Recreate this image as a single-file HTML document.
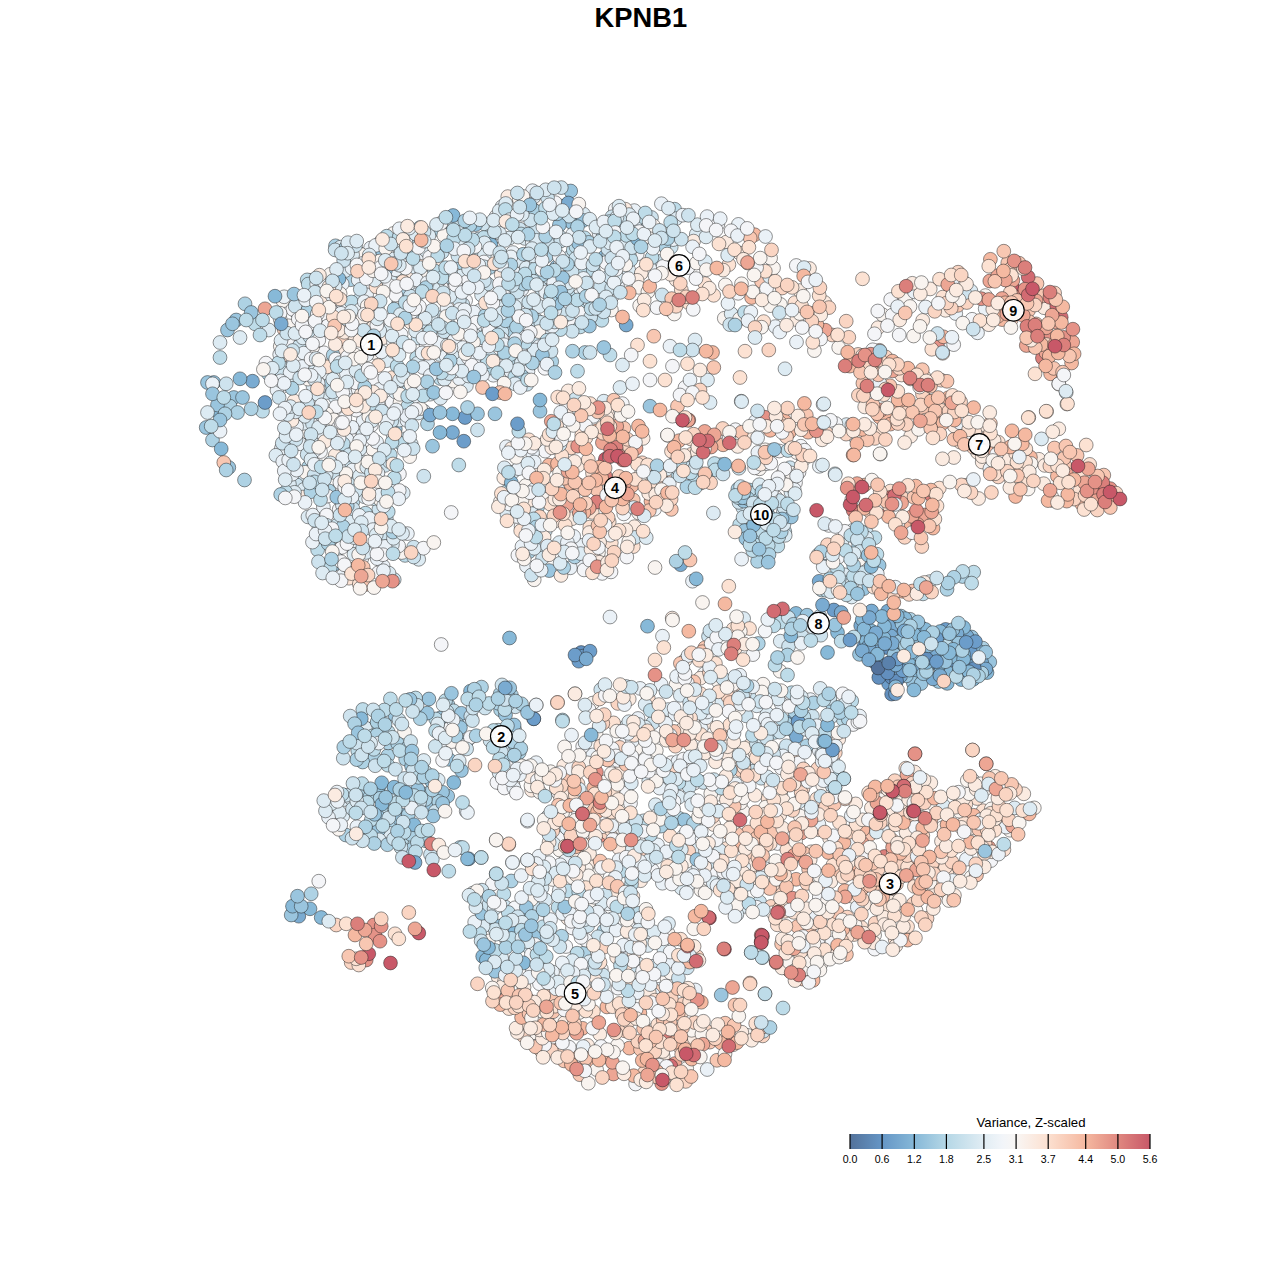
<!DOCTYPE html>
<html><head><meta charset="utf-8"><title>KPNB1</title>
<style>
html,body{margin:0;padding:0;background:#fff}
svg{display:block;font-family:"Liberation Sans",sans-serif}
.p circle{stroke:#222;stroke-opacity:.7;stroke-width:.7px}
.c0{fill:#53729b}
.c1{fill:#5a81ac}
.c2{fill:#628fbe}
.c3{fill:#6c9dca}
.c4{fill:#7aabd1}
.c5{fill:#87b9d8}
.c6{fill:#9ac5de}
.c7{fill:#aed2e4}
.c8{fill:#bedce9}
.c9{fill:#cee3ee}
.c10{fill:#ddebf3}
.c11{fill:#eaf1f7}
.c12{fill:#f4f5f8}
.c13{fill:#f9f4f0}
.c14{fill:#fbebe1}
.c15{fill:#fce2d3}
.c16{fill:#fad5c3}
.c17{fill:#f8c7b2}
.c18{fill:#f5b9a1}
.c19{fill:#eda694}
.c20{fill:#e59287}
.c21{fill:#db7f7b}
.c22{fill:#d26b72}
.c23{fill:#c85868}
</style></head><body>
<svg width="1280" height="1280" viewBox="0 0 1280 1280">
<rect width="1280" height="1280" fill="#fff"/>
<text x="640.8" y="26.6" text-anchor="middle" font-size="27.3" font-weight="bold" fill="#000">KPNB1</text>
<g class="p">
<circle class="c18" cx="1015.6" cy="496.5" r="6.9"/>
<circle class="c15" cx="768.0" cy="798.3" r="6.9"/>
<circle class="c5" cx="904.5" cy="652.7" r="6.9"/>
<circle class="c4" cx="793.3" cy="720.3" r="6.9"/>
<circle class="c7" cx="551.7" cy="361.5" r="6.9"/>
<circle class="c7" cx="387.9" cy="755.6" r="6.9"/>
<circle class="c9" cx="548.8" cy="242.7" r="6.9"/>
<circle class="c16" cx="947.4" cy="893.6" r="6.9"/>
<circle class="c9" cx="528.9" cy="947.2" r="6.9"/>
<circle class="c17" cx="555.8" cy="1032.1" r="6.9"/>
<circle class="c9" cx="783.4" cy="511.9" r="6.9"/>
<circle class="c18" cx="1002.3" cy="816.0" r="6.9"/>
<circle class="c16" cx="893.7" cy="813.2" r="6.9"/>
<circle class="c11" cx="481.5" cy="902.0" r="6.9"/>
<circle class="c12" cx="321.2" cy="322.5" r="6.9"/>
<circle class="c12" cx="346.3" cy="449.7" r="6.9"/>
<circle class="c15" cx="906.7" cy="838.2" r="6.9"/>
<circle class="c12" cx="391.2" cy="395.2" r="6.9"/>
<circle class="c10" cx="471.3" cy="265.4" r="6.9"/>
<circle class="c13" cx="905.4" cy="299.3" r="6.9"/>
<circle class="c15" cx="652.1" cy="484.2" r="6.9"/>
<circle class="c12" cx="539.5" cy="983.7" r="6.9"/>
<circle class="c18" cx="864.6" cy="485.1" r="6.9"/>
<circle class="c14" cx="294.1" cy="401.1" r="6.9"/>
<circle class="c7" cx="537.5" cy="507.1" r="6.9"/>
<circle class="c12" cx="946.2" cy="344.3" r="6.9"/>
<circle class="c10" cx="640.9" cy="834.9" r="6.9"/>
<circle class="c7" cx="308.7" cy="466.8" r="6.9"/>
<circle class="c10" cx="638.4" cy="964.1" r="6.9"/>
<circle class="c11" cx="521.8" cy="289.4" r="6.9"/>
<circle class="c11" cx="718.9" cy="873.1" r="6.9"/>
<circle class="c11" cx="819.2" cy="750.4" r="6.9"/>
<circle class="c17" cx="312.3" cy="333.1" r="6.9"/>
<circle class="c9" cx="790.0" cy="467.7" r="6.9"/>
<circle class="c14" cx="568.2" cy="390.9" r="6.9"/>
<circle class="c10" cx="393.7" cy="278.9" r="6.9"/>
<circle class="c12" cx="566.3" cy="406.9" r="6.9"/>
<circle class="c7" cx="753.1" cy="516.1" r="6.9"/>
<circle class="c12" cx="781.4" cy="768.0" r="6.9"/>
<circle class="c10" cx="829.1" cy="743.6" r="6.9"/>
<circle class="c11" cx="634.3" cy="210.6" r="6.9"/>
<circle class="c18" cx="934.9" cy="416.2" r="6.9"/>
<circle class="c6" cx="335.3" cy="563.8" r="6.9"/>
<circle class="c15" cx="939.3" cy="488.1" r="6.9"/>
<circle class="c7" cx="755.1" cy="533.3" r="6.9"/>
<circle class="c10" cx="287.0" cy="361.8" r="6.9"/>
<circle class="c12" cx="990.9" cy="860.6" r="6.9"/>
<circle class="c7" cx="947.0" cy="589.3" r="6.9"/>
<circle class="c16" cx="780.8" cy="887.5" r="6.9"/>
<circle class="c13" cx="668.0" cy="933.2" r="6.9"/>
<circle class="c12" cx="828.8" cy="525.4" r="6.9"/>
<circle class="c10" cx="351.7" cy="370.2" r="6.9"/>
<circle class="c14" cx="922.7" cy="320.4" r="6.9"/>
<circle class="c8" cx="669.2" cy="477.8" r="6.9"/>
<circle class="c11" cx="654.1" cy="264.9" r="6.9"/>
<circle class="c18" cx="902.5" cy="591.3" r="6.9"/>
<circle class="c15" cx="699.3" cy="660.3" r="6.9"/>
<circle class="c7" cx="447.9" cy="704.7" r="6.9"/>
<circle class="c9" cx="478.5" cy="239.0" r="6.9"/>
<circle class="c6" cx="980.5" cy="656.7" r="6.9"/>
<circle class="c13" cx="544.2" cy="499.2" r="6.9"/>
<circle class="c18" cx="899.1" cy="409.1" r="6.9"/>
<circle class="c14" cx="676.1" cy="279.8" r="6.9"/>
<circle class="c17" cx="802.5" cy="972.2" r="6.9"/>
<circle class="c15" cx="528.8" cy="439.8" r="6.9"/>
<circle class="c17" cx="802.3" cy="979.0" r="6.9"/>
<circle class="c12" cx="301.4" cy="329.5" r="6.9"/>
<circle class="c10" cx="342.7" cy="816.1" r="6.9"/>
<circle class="c14" cx="796.8" cy="319.8" r="6.9"/>
<circle class="c16" cx="832.2" cy="335.0" r="6.9"/>
<circle class="c8" cx="792.1" cy="729.9" r="6.9"/>
<circle class="c10" cx="326.2" cy="295.9" r="6.9"/>
<circle class="c15" cx="854.0" cy="934.5" r="6.9"/>
<circle class="c16" cx="625.0" cy="1030.9" r="6.9"/>
<circle class="c16" cx="527.7" cy="999.3" r="6.9"/>
<circle class="c17" cx="937.7" cy="861.6" r="6.9"/>
<circle class="c11" cx="526.3" cy="331.3" r="6.9"/>
<circle class="c6" cx="395.3" cy="429.1" r="6.9"/>
<circle class="c14" cx="584.6" cy="852.8" r="6.9"/>
<circle class="c8" cx="387.9" cy="765.2" r="6.9"/>
<circle class="c15" cx="544.0" cy="1003.3" r="6.9"/>
<circle class="c7" cx="604.0" cy="930.8" r="6.9"/>
<circle class="c7" cx="749.2" cy="490.0" r="6.9"/>
<circle class="c14" cx="612.1" cy="895.3" r="6.9"/>
<circle class="c15" cx="611.3" cy="542.8" r="6.9"/>
<circle class="c18" cx="853.8" cy="873.1" r="6.9"/>
<circle class="c12" cx="704.8" cy="436.4" r="6.9"/>
<circle class="c17" cx="565.2" cy="775.6" r="6.9"/>
<circle class="c13" cx="718.5" cy="681.7" r="6.9"/>
<circle class="c10" cx="312.9" cy="385.6" r="6.9"/>
<circle class="c11" cx="707.7" cy="855.1" r="6.9"/>
<circle class="c17" cx="541.1" cy="1034.0" r="6.9"/>
<circle class="c11" cx="480.2" cy="310.3" r="6.9"/>
<circle class="c12" cx="318.3" cy="309.7" r="6.9"/>
<circle class="c11" cx="424.0" cy="411.3" r="6.9"/>
<circle class="c12" cx="645.8" cy="836.8" r="6.9"/>
<circle class="c6" cx="447.7" cy="796.1" r="6.9"/>
<circle class="c13" cx="696.7" cy="854.2" r="6.9"/>
<circle class="c18" cx="933.0" cy="528.1" r="6.9"/>
<circle class="c14" cx="766.7" cy="827.6" r="6.9"/>
<circle class="c12" cx="973.2" cy="780.7" r="6.9"/>
<circle class="c14" cx="611.9" cy="415.1" r="6.9"/>
<circle class="c12" cx="635.6" cy="1084.0" r="6.9"/>
<circle class="c9" cx="505.1" cy="906.9" r="6.9"/>
<circle class="c16" cx="648.3" cy="872.1" r="6.9"/>
<circle class="c14" cx="602.7" cy="413.0" r="6.9"/>
<circle class="c12" cx="495.5" cy="236.2" r="6.9"/>
<circle class="c11" cx="343.8" cy="468.0" r="6.9"/>
<circle class="c7" cx="982.7" cy="648.1" r="6.9"/>
<circle class="c14" cx="540.4" cy="861.7" r="6.9"/>
<circle class="c10" cx="382.2" cy="284.9" r="6.9"/>
<circle class="c18" cx="651.0" cy="501.3" r="6.9"/>
<circle class="c11" cx="408.5" cy="450.3" r="6.9"/>
<circle class="c8" cx="440.4" cy="378.5" r="6.9"/>
<circle class="c14" cx="809.5" cy="268.5" r="6.9"/>
<circle class="c14" cx="573.7" cy="412.9" r="6.9"/>
<circle class="c9" cx="534.9" cy="340.8" r="6.9"/>
<circle class="c13" cx="773.4" cy="825.4" r="6.9"/>
<circle class="c16" cx="1011.3" cy="319.6" r="6.9"/>
<circle class="c9" cx="385.0" cy="465.4" r="6.9"/>
<circle class="c16" cx="910.5" cy="378.9" r="6.9"/>
<circle class="c14" cx="578.2" cy="465.4" r="6.9"/>
<circle class="c10" cx="344.2" cy="799.5" r="6.9"/>
<circle class="c15" cx="942.8" cy="297.1" r="6.9"/>
<circle class="c2" cx="886.4" cy="647.5" r="6.9"/>
<circle class="c11" cx="659.4" cy="989.2" r="6.9"/>
<circle class="c8" cx="416.7" cy="357.6" r="6.9"/>
<circle class="c16" cx="688.4" cy="1046.2" r="6.9"/>
<circle class="c10" cx="313.9" cy="371.9" r="6.9"/>
<circle class="c10" cx="385.2" cy="715.8" r="6.9"/>
<circle class="c9" cx="463.7" cy="719.6" r="6.9"/>
<circle class="c13" cx="596.1" cy="733.7" r="6.9"/>
<circle class="c12" cx="375.0" cy="380.3" r="6.9"/>
<circle class="c8" cx="644.3" cy="240.1" r="6.9"/>
<circle class="c12" cx="615.3" cy="209.2" r="6.9"/>
<circle class="c9" cx="738.9" cy="468.2" r="6.9"/>
<circle class="c12" cx="601.6" cy="813.8" r="6.9"/>
<circle class="c9" cx="490.1" cy="740.6" r="6.9"/>
<circle class="c12" cx="636.6" cy="249.6" r="6.9"/>
<circle class="c18" cx="556.6" cy="1050.2" r="6.9"/>
<circle class="c13" cx="743.1" cy="811.2" r="6.9"/>
<circle class="c17" cx="1065.1" cy="465.9" r="6.9"/>
<circle class="c13" cx="393.4" cy="233.5" r="6.9"/>
<circle class="c10" cx="631.0" cy="851.5" r="6.9"/>
<circle class="c15" cx="286.2" cy="354.8" r="6.9"/>
<circle class="c5" cx="649.0" cy="468.7" r="6.9"/>
<circle class="c8" cx="756.5" cy="519.4" r="6.9"/>
<circle class="c16" cx="794.0" cy="767.2" r="6.9"/>
<circle class="c10" cx="351.2" cy="798.5" r="6.9"/>
<circle class="c10" cx="844.6" cy="574.8" r="6.9"/>
<circle class="c7" cx="737.9" cy="489.1" r="6.9"/>
<circle class="c15" cx="349.0" cy="578.2" r="6.9"/>
<circle class="c13" cx="765.6" cy="807.1" r="6.9"/>
<circle class="c16" cx="653.6" cy="989.7" r="6.9"/>
<circle class="c3" cx="920.4" cy="627.0" r="6.9"/>
<circle class="c13" cx="948.9" cy="900.5" r="6.9"/>
<circle class="c12" cx="972.1" cy="319.3" r="6.9"/>
<circle class="c6" cx="431.2" cy="806.2" r="6.9"/>
<circle class="c11" cx="288.8" cy="447.4" r="6.9"/>
<circle class="c9" cx="289.7" cy="378.2" r="6.9"/>
<circle class="c18" cx="754.6" cy="234.7" r="6.9"/>
<circle class="c13" cx="741.5" cy="283.8" r="6.9"/>
<circle class="c9" cx="651.5" cy="217.5" r="6.9"/>
<circle class="c8" cx="498.2" cy="730.2" r="6.9"/>
<circle class="c15" cx="983.2" cy="810.7" r="6.9"/>
<circle class="c11" cx="363.2" cy="420.6" r="6.9"/>
<circle class="c13" cx="991.3" cy="808.9" r="6.9"/>
<circle class="c20" cx="1062.3" cy="345.5" r="6.9"/>
<circle class="c15" cx="633.3" cy="546.6" r="6.9"/>
<circle class="c14" cx="921.0" cy="817.1" r="6.9"/>
<circle class="c12" cx="655.2" cy="824.8" r="6.9"/>
<circle class="c17" cx="594.5" cy="801.3" r="6.9"/>
<circle class="c15" cx="907.6" cy="926.6" r="6.9"/>
<circle class="c13" cx="559.6" cy="850.0" r="6.9"/>
<circle class="c13" cx="780.8" cy="794.4" r="6.9"/>
<circle class="c6" cx="879.1" cy="565.4" r="6.9"/>
<circle class="c13" cx="282.9" cy="300.8" r="6.9"/>
<circle class="c15" cx="670.1" cy="835.9" r="6.9"/>
<circle class="c5" cx="938.6" cy="643.9" r="6.9"/>
<circle class="c12" cx="299.0" cy="308.2" r="6.9"/>
<circle class="c13" cx="453.6" cy="381.1" r="6.9"/>
<circle class="c8" cx="381.4" cy="255.0" r="6.9"/>
<circle class="c15" cx="794.9" cy="302.6" r="6.9"/>
<circle class="c14" cx="855.7" cy="803.9" r="6.9"/>
<circle class="c11" cx="336.0" cy="810.0" r="6.9"/>
<circle class="c11" cx="638.0" cy="718.5" r="6.9"/>
<circle class="c10" cx="440.2" cy="354.6" r="6.9"/>
<circle class="c3" cx="918.0" cy="674.2" r="6.9"/>
<circle class="c14" cx="634.4" cy="526.7" r="6.9"/>
<circle class="c19" cx="566.8" cy="505.2" r="6.9"/>
<circle class="c14" cx="824.7" cy="302.5" r="6.9"/>
<circle class="c17" cx="732.3" cy="729.2" r="6.9"/>
<circle class="c13" cx="305.0" cy="431.7" r="6.9"/>
<circle class="c13" cx="796.7" cy="452.6" r="6.9"/>
<circle class="c9" cx="484.7" cy="224.1" r="6.9"/>
<circle class="c15" cx="911.7" cy="859.0" r="6.9"/>
<circle class="c19" cx="988.8" cy="847.5" r="6.9"/>
<circle class="c10" cx="466.4" cy="385.7" r="6.9"/>
<circle class="c13" cx="874.6" cy="935.1" r="6.9"/>
<circle class="c14" cx="503.8" cy="477.8" r="6.9"/>
<circle class="c5" cx="914.0" cy="677.9" r="6.9"/>
<circle class="c15" cx="392.4" cy="377.6" r="6.9"/>
<circle class="c8" cx="705.0" cy="816.9" r="6.9"/>
<circle class="c9" cx="761.2" cy="778.2" r="6.9"/>
<circle class="c13" cx="525.4" cy="206.0" r="6.9"/>
<circle class="c15" cx="905.8" cy="768.1" r="6.9"/>
<circle class="c14" cx="1044.1" cy="307.7" r="6.9"/>
<circle class="c13" cx="570.6" cy="994.0" r="6.9"/>
<circle class="c18" cx="857.1" cy="864.0" r="6.9"/>
<circle class="c9" cx="759.6" cy="901.9" r="6.9"/>
<circle class="c10" cx="414.5" cy="268.2" r="6.9"/>
<circle class="c15" cx="592.5" cy="473.1" r="6.9"/>
<circle class="c9" cx="483.7" cy="342.1" r="6.9"/>
<circle class="c6" cx="498.3" cy="926.2" r="6.9"/>
<circle class="c20" cx="937.6" cy="346.4" r="6.9"/>
<circle class="c12" cx="386.9" cy="326.7" r="6.9"/>
<circle class="c11" cx="738.4" cy="224.4" r="6.9"/>
<circle class="c18" cx="629.3" cy="1048.1" r="6.9"/>
<circle class="c11" cx="579.8" cy="294.9" r="6.9"/>
<circle class="c6" cx="570.7" cy="191.0" r="6.9"/>
<circle class="c9" cx="405.8" cy="438.8" r="6.9"/>
<circle class="c11" cx="735.5" cy="783.9" r="6.9"/>
<circle class="c14" cx="587.6" cy="1045.3" r="6.9"/>
<circle class="c7" cx="481.5" cy="687.1" r="6.9"/>
<circle class="c17" cx="1043.6" cy="295.7" r="6.9"/>
<circle class="c14" cx="606.8" cy="416.9" r="6.9"/>
<circle class="c13" cx="547.5" cy="280.9" r="6.9"/>
<circle class="c18" cx="606.9" cy="1006.9" r="6.9"/>
<circle class="c15" cx="733.2" cy="1044.7" r="6.9"/>
<circle class="c15" cx="813.2" cy="313.3" r="6.9"/>
<circle class="c10" cx="335.3" cy="397.3" r="6.9"/>
<circle class="c8" cx="864.8" cy="580.6" r="6.9"/>
<circle class="c10" cx="743.6" cy="618.5" r="6.9"/>
<circle class="c11" cx="381.6" cy="727.5" r="6.9"/>
<circle class="c9" cx="559.7" cy="236.7" r="6.9"/>
<circle class="c8" cx="751.9" cy="493.1" r="6.9"/>
<circle class="c19" cx="636.0" cy="448.3" r="6.9"/>
<circle class="c17" cx="570.5" cy="467.3" r="6.9"/>
<circle class="c14" cx="715.5" cy="761.9" r="6.9"/>
<circle class="c14" cx="749.6" cy="745.8" r="6.9"/>
<circle class="c10" cx="303.7" cy="423.3" r="6.9"/>
<circle class="c5" cx="885.8" cy="618.0" r="6.9"/>
<circle class="c5" cx="763.5" cy="511.3" r="6.9"/>
<circle class="c15" cx="880.2" cy="790.4" r="6.9"/>
<circle class="c13" cx="621.9" cy="804.7" r="6.9"/>
<circle class="c13" cx="780.4" cy="304.4" r="6.9"/>
<circle class="c6" cx="571.6" cy="222.6" r="6.9"/>
<circle class="c12" cx="704.2" cy="673.9" r="6.9"/>
<circle class="c7" cx="806.9" cy="745.8" r="6.9"/>
<circle class="c17" cx="551.7" cy="994.5" r="6.9"/>
<circle class="c16" cx="848.8" cy="337.3" r="6.9"/>
<circle class="c8" cx="390.4" cy="698.9" r="6.9"/>
<circle class="c14" cx="563.8" cy="765.8" r="6.9"/>
<circle class="c8" cx="785.1" cy="751.1" r="6.9"/>
<circle class="c9" cx="311.5" cy="280.3" r="6.9"/>
<circle class="c8" cx="684.2" cy="778.2" r="6.9"/>
<circle class="c15" cx="691.4" cy="454.3" r="6.9"/>
<circle class="c16" cx="818.7" cy="829.7" r="6.9"/>
<circle class="c8" cx="844.4" cy="582.6" r="6.9"/>
<circle class="c8" cx="640.7" cy="226.2" r="6.9"/>
<circle class="c12" cx="531.4" cy="954.4" r="6.9"/>
<circle class="c8" cx="720.4" cy="464.7" r="6.9"/>
<circle class="c14" cx="616.7" cy="957.3" r="6.9"/>
<circle class="c6" cx="963.0" cy="672.9" r="6.9"/>
<circle class="c11" cx="520.6" cy="352.6" r="6.9"/>
<circle class="c11" cx="441.3" cy="336.0" r="6.9"/>
<circle class="c6" cx="937.3" cy="633.7" r="6.9"/>
<circle class="c15" cx="550.1" cy="504.0" r="6.9"/>
<circle class="c15" cx="790.2" cy="770.8" r="6.9"/>
<circle class="c13" cx="550.6" cy="771.7" r="6.9"/>
<circle class="c11" cx="683.5" cy="836.1" r="6.9"/>
<circle class="c7" cx="561.5" cy="206.2" r="6.9"/>
<circle class="c9" cx="635.0" cy="537.4" r="6.9"/>
<circle class="c17" cx="918.6" cy="413.0" r="6.9"/>
<circle class="c12" cx="476.7" cy="345.8" r="6.9"/>
<circle class="c14" cx="397.8" cy="323.0" r="6.9"/>
<circle class="c15" cx="901.6" cy="375.0" r="6.9"/>
<circle class="c8" cx="297.0" cy="312.4" r="6.9"/>
<circle class="c13" cx="598.5" cy="552.4" r="6.9"/>
<circle class="c10" cx="418.1" cy="413.0" r="6.9"/>
<circle class="c16" cx="870.5" cy="511.9" r="6.9"/>
<circle class="c11" cx="626.6" cy="958.5" r="6.9"/>
<circle class="c18" cx="898.1" cy="399.9" r="6.9"/>
<circle class="c14" cx="676.4" cy="852.3" r="6.9"/>
<circle class="c14" cx="829.6" cy="838.3" r="6.9"/>
<circle class="c12" cx="601.3" cy="969.0" r="6.9"/>
<circle class="c17" cx="748.3" cy="832.0" r="6.9"/>
<circle class="c14" cx="648.7" cy="493.4" r="6.9"/>
<circle class="c10" cx="714.4" cy="672.0" r="6.9"/>
<circle class="c11" cx="662.4" cy="883.2" r="6.9"/>
<circle class="c11" cx="281.3" cy="448.6" r="6.9"/>
<circle class="c5" cx="958.1" cy="654.9" r="6.9"/>
<circle class="c7" cx="374.5" cy="758.0" r="6.9"/>
<circle class="c17" cx="853.5" cy="854.6" r="6.9"/>
<circle class="c10" cx="363.8" cy="461.9" r="6.9"/>
<circle class="c13" cx="879.7" cy="866.1" r="6.9"/>
<circle class="c7" cx="967.0" cy="646.7" r="6.9"/>
<circle class="c9" cx="742.8" cy="507.6" r="6.9"/>
<circle class="c18" cx="948.2" cy="397.8" r="6.9"/>
<circle class="c12" cx="555.3" cy="202.7" r="6.9"/>
<circle class="c19" cx="916.5" cy="861.8" r="6.9"/>
<circle class="c12" cx="630.5" cy="937.2" r="6.9"/>
<circle class="c11" cx="378.3" cy="405.7" r="6.9"/>
<circle class="c6" cx="869.4" cy="652.8" r="6.9"/>
<circle class="c12" cx="323.8" cy="352.8" r="6.9"/>
<circle class="c13" cx="589.2" cy="271.7" r="6.9"/>
<circle class="c11" cx="617.5" cy="286.0" r="6.9"/>
<circle class="c11" cx="293.2" cy="360.4" r="6.9"/>
<circle class="c10" cx="761.9" cy="516.5" r="6.9"/>
<circle class="c16" cx="985.1" cy="843.9" r="6.9"/>
<circle class="c14" cx="832.6" cy="950.5" r="6.9"/>
<circle class="c18" cx="596.9" cy="430.7" r="6.9"/>
<circle class="c8" cx="462.9" cy="245.8" r="6.9"/>
<circle class="c13" cx="533.9" cy="1032.7" r="6.9"/>
<circle class="c10" cx="304.1" cy="342.5" r="6.9"/>
<circle class="c12" cx="654.5" cy="509.2" r="6.9"/>
<circle class="c11" cx="502.1" cy="206.6" r="6.9"/>
<circle class="c11" cx="757.3" cy="762.9" r="6.9"/>
<circle class="c7" cx="335.5" cy="245.8" r="6.9"/>
<circle class="c15" cx="648.3" cy="698.4" r="6.9"/>
<circle class="c9" cx="600.8" cy="689.6" r="6.9"/>
<circle class="c16" cx="905.7" cy="412.9" r="6.9"/>
<circle class="c14" cx="941.5" cy="841.3" r="6.9"/>
<circle class="c13" cx="574.9" cy="857.7" r="6.9"/>
<circle class="c11" cx="577.0" cy="544.8" r="6.9"/>
<circle class="c8" cx="569.1" cy="277.6" r="6.9"/>
<circle class="c12" cx="522.8" cy="307.3" r="6.9"/>
<circle class="c9" cx="652.8" cy="722.7" r="6.9"/>
<circle class="c7" cx="345.8" cy="835.0" r="6.9"/>
<circle class="c12" cx="871.5" cy="898.0" r="6.9"/>
<circle class="c18" cx="796.1" cy="879.3" r="6.9"/>
<circle class="c8" cx="317.6" cy="549.8" r="6.9"/>
<circle class="c6" cx="442.5" cy="792.3" r="6.9"/>
<circle class="c8" cx="400.7" cy="272.3" r="6.9"/>
<circle class="c10" cx="542.0" cy="887.9" r="6.9"/>
<circle class="c10" cx="459.6" cy="241.8" r="6.9"/>
<circle class="c12" cx="777.5" cy="843.5" r="6.9"/>
<circle class="c14" cx="982.2" cy="462.0" r="6.9"/>
<circle class="c16" cx="644.1" cy="1073.0" r="6.9"/>
<circle class="c14" cx="930.2" cy="288.9" r="6.9"/>
<circle class="c9" cx="302.0" cy="479.1" r="6.9"/>
<circle class="c10" cx="648.8" cy="780.5" r="6.9"/>
<circle class="c5" cx="403.1" cy="815.4" r="6.9"/>
<circle class="c19" cx="989.8" cy="281.0" r="6.9"/>
<circle class="c12" cx="623.8" cy="513.9" r="6.9"/>
<circle class="c14" cx="700.3" cy="678.2" r="6.9"/>
<circle class="c8" cx="621.5" cy="871.1" r="6.9"/>
<circle class="c14" cx="889.1" cy="901.1" r="6.9"/>
<circle class="c18" cx="808.1" cy="432.2" r="6.9"/>
<circle class="c14" cx="1001.4" cy="470.9" r="6.9"/>
<circle class="c16" cx="904.7" cy="537.3" r="6.9"/>
<circle class="c14" cx="593.3" cy="557.2" r="6.9"/>
<circle class="c11" cx="600.8" cy="916.2" r="6.9"/>
<circle class="c9" cx="612.4" cy="926.7" r="6.9"/>
<circle class="c9" cx="563.2" cy="282.7" r="6.9"/>
<circle class="c9" cx="359.4" cy="299.7" r="6.9"/>
<circle class="c8" cx="679.3" cy="818.4" r="6.9"/>
<circle class="c9" cx="389.5" cy="461.6" r="6.9"/>
<circle class="c14" cx="878.0" cy="327.7" r="6.9"/>
<circle class="c13" cx="534.2" cy="579.8" r="6.9"/>
<circle class="c12" cx="788.9" cy="700.9" r="6.9"/>
<circle class="c9" cx="297.0" cy="485.1" r="6.9"/>
<circle class="c15" cx="977.1" cy="798.5" r="6.9"/>
<circle class="c8" cx="638.6" cy="913.3" r="6.9"/>
<circle class="c18" cx="879.7" cy="417.2" r="6.9"/>
<circle class="c8" cx="582.7" cy="271.7" r="6.9"/>
<circle class="c8" cx="568.0" cy="890.9" r="6.9"/>
<circle class="c6" cx="946.5" cy="639.3" r="6.9"/>
<circle class="c2" cx="883.6" cy="671.4" r="6.9"/>
<circle class="c10" cx="373.3" cy="258.1" r="6.9"/>
<circle class="c8" cx="453.6" cy="710.8" r="6.9"/>
<circle class="c21" cx="880.8" cy="510.9" r="6.9"/>
<circle class="c6" cx="371.8" cy="829.5" r="6.9"/>
<circle class="c19" cx="825.3" cy="330.2" r="6.9"/>
<circle class="c12" cx="400.9" cy="261.3" r="6.9"/>
<circle class="c13" cx="316.1" cy="490.8" r="6.9"/>
<circle class="c11" cx="914.4" cy="291.9" r="6.9"/>
<circle class="c19" cx="618.6" cy="432.0" r="6.9"/>
<circle class="c13" cx="734.5" cy="759.7" r="6.9"/>
<circle class="c18" cx="973.7" cy="815.3" r="6.9"/>
<circle class="c11" cx="327.7" cy="373.6" r="6.9"/>
<circle class="c9" cx="572.0" cy="271.7" r="6.9"/>
<circle class="c13" cx="539.9" cy="445.3" r="6.9"/>
<circle class="c13" cx="404.5" cy="732.1" r="6.9"/>
<circle class="c14" cx="339.6" cy="351.3" r="6.9"/>
<circle class="c11" cx="765.5" cy="236.5" r="6.9"/>
<circle class="c16" cx="619.0" cy="476.5" r="6.9"/>
<circle class="c13" cx="625.1" cy="908.4" r="6.9"/>
<circle class="c3" cx="863.8" cy="646.9" r="6.9"/>
<circle class="c11" cx="911.9" cy="429.6" r="6.9"/>
<circle class="c15" cx="731.1" cy="884.3" r="6.9"/>
<circle class="c10" cx="643.0" cy="922.4" r="6.9"/>
<circle class="c15" cx="577.9" cy="783.7" r="6.9"/>
<circle class="c11" cx="318.8" cy="474.5" r="6.9"/>
<circle class="c10" cx="780.3" cy="641.2" r="6.9"/>
<circle class="c8" cx="506.4" cy="491.7" r="6.9"/>
<circle class="c9" cx="356.9" cy="251.3" r="6.9"/>
<circle class="c18" cx="742.3" cy="845.5" r="6.9"/>
<circle class="c20" cx="1017.5" cy="293.6" r="6.9"/>
<circle class="c17" cx="931.1" cy="819.4" r="6.9"/>
<circle class="c9" cx="661.3" cy="261.2" r="6.9"/>
<circle class="c18" cx="362.3" cy="580.7" r="6.9"/>
<circle class="c11" cx="608.3" cy="903.8" r="6.9"/>
<circle class="c13" cx="1010.0" cy="830.2" r="6.9"/>
<circle class="c15" cx="628.3" cy="1021.7" r="6.9"/>
<circle class="c16" cx="682.4" cy="1004.3" r="6.9"/>
<circle class="c12" cx="558.8" cy="280.6" r="6.9"/>
<circle class="c20" cx="822.0" cy="811.6" r="6.9"/>
<circle class="c13" cx="581.1" cy="994.2" r="6.9"/>
<circle class="c14" cx="554.8" cy="499.1" r="6.9"/>
<circle class="c12" cx="934.4" cy="430.5" r="6.9"/>
<circle class="c9" cx="541.9" cy="547.4" r="6.9"/>
<circle class="c14" cx="335.3" cy="455.3" r="6.9"/>
<circle class="c11" cx="342.6" cy="575.6" r="6.9"/>
<circle class="c7" cx="424.5" cy="793.9" r="6.9"/>
<circle class="c20" cx="1046.3" cy="337.6" r="6.9"/>
<circle class="c10" cx="418.7" cy="559.3" r="6.9"/>
<circle class="c15" cx="839.5" cy="822.6" r="6.9"/>
<circle class="c11" cx="377.4" cy="308.3" r="6.9"/>
<circle class="c6" cx="913.4" cy="683.2" r="6.9"/>
<circle class="c10" cx="339.5" cy="812.5" r="6.9"/>
<circle class="c14" cx="634.0" cy="953.8" r="6.9"/>
<circle class="c14" cx="559.5" cy="499.3" r="6.9"/>
<circle class="c18" cx="631.8" cy="485.9" r="6.9"/>
<circle class="c5" cx="763.3" cy="525.9" r="6.9"/>
<circle class="c7" cx="462.6" cy="263.7" r="6.9"/>
<circle class="c14" cx="849.6" cy="848.1" r="6.9"/>
<circle class="c11" cx="1006.0" cy="827.1" r="6.9"/>
<circle class="c10" cx="696.3" cy="234.2" r="6.9"/>
<circle class="c8" cx="491.1" cy="352.2" r="6.9"/>
<circle class="c15" cx="347.0" cy="337.9" r="6.9"/>
<circle class="c9" cx="605.2" cy="894.9" r="6.9"/>
<circle class="c12" cx="495.8" cy="224.2" r="6.9"/>
<circle class="c14" cx="575.5" cy="852.4" r="6.9"/>
<circle class="c9" cx="515.3" cy="706.8" r="6.9"/>
<circle class="c17" cx="835.5" cy="872.2" r="6.9"/>
<circle class="c17" cx="716.9" cy="1060.3" r="6.9"/>
<circle class="c10" cx="603.8" cy="401.2" r="6.9"/>
<circle class="c9" cx="687.3" cy="967.8" r="6.9"/>
<circle class="c15" cx="664.5" cy="476.5" r="6.9"/>
<circle class="c12" cx="878.9" cy="504.1" r="6.9"/>
<circle class="c18" cx="909.8" cy="847.6" r="6.9"/>
<circle class="c10" cx="635.0" cy="222.6" r="6.9"/>
<circle class="c14" cx="663.2" cy="1056.4" r="6.9"/>
<circle class="c8" cx="784.8" cy="531.7" r="6.9"/>
<circle class="c8" cx="584.5" cy="237.8" r="6.9"/>
<circle class="c12" cx="517.9" cy="555.2" r="6.9"/>
<circle class="c10" cx="628.7" cy="270.0" r="6.9"/>
<circle class="c11" cx="371.7" cy="263.9" r="6.9"/>
<circle class="c11" cx="781.2" cy="703.5" r="6.9"/>
<circle class="c15" cx="891.7" cy="839.7" r="6.9"/>
<circle class="c15" cx="816.8" cy="798.8" r="6.9"/>
<circle class="c15" cx="924.1" cy="376.8" r="6.9"/>
<circle class="c13" cx="415.4" cy="251.6" r="6.9"/>
<circle class="c12" cx="796.3" cy="265.5" r="6.9"/>
<circle class="c6" cx="826.3" cy="558.8" r="6.9"/>
<circle class="c17" cx="1103.8" cy="475.1" r="6.9"/>
<circle class="c9" cx="378.8" cy="509.6" r="6.9"/>
<circle class="c17" cx="725.1" cy="1023.2" r="6.9"/>
<circle class="c11" cx="565.4" cy="861.0" r="6.9"/>
<circle class="c11" cx="279.7" cy="354.4" r="6.9"/>
<circle class="c12" cx="677.8" cy="787.4" r="6.9"/>
<circle class="c5" cx="893.9" cy="617.8" r="6.9"/>
<circle class="c21" cx="1049.9" cy="297.3" r="6.9"/>
<circle class="c10" cx="438.2" cy="780.0" r="6.9"/>
<circle class="c13" cx="280.3" cy="346.2" r="6.9"/>
<circle class="c7" cx="438.6" cy="801.4" r="6.9"/>
<circle class="c12" cx="306.0" cy="407.4" r="6.9"/>
<circle class="c12" cx="744.3" cy="901.6" r="6.9"/>
<circle class="c11" cx="446.1" cy="356.0" r="6.9"/>
<circle class="c9" cx="631.9" cy="965.9" r="6.9"/>
<circle class="c10" cx="474.8" cy="330.2" r="6.9"/>
<circle class="c16" cx="771.1" cy="906.4" r="6.9"/>
<circle class="c16" cx="561.7" cy="1054.8" r="6.9"/>
<circle class="c16" cx="629.3" cy="1007.9" r="6.9"/>
<circle class="c11" cx="955.7" cy="313.5" r="6.9"/>
<circle class="c12" cx="570.8" cy="323.2" r="6.9"/>
<circle class="c8" cx="674.6" cy="209.2" r="6.9"/>
<circle class="c8" cx="506.0" cy="756.3" r="6.9"/>
<circle class="c10" cx="583.5" cy="214.1" r="6.9"/>
<circle class="c9" cx="351.8" cy="464.2" r="6.9"/>
<circle class="c14" cx="587.6" cy="864.8" r="6.9"/>
<circle class="c14" cx="477.8" cy="280.9" r="6.9"/>
<circle class="c14" cx="930.1" cy="413.9" r="6.9"/>
<circle class="c16" cx="902.0" cy="497.6" r="6.9"/>
<circle class="c13" cx="740.6" cy="802.8" r="6.9"/>
<circle class="c9" cx="569.9" cy="257.0" r="6.9"/>
<circle class="c5" cx="967.4" cy="661.3" r="6.9"/>
<circle class="c15" cx="359.3" cy="584.0" r="6.9"/>
<circle class="c7" cx="333.2" cy="355.1" r="6.9"/>
<circle class="c11" cx="403.0" cy="411.7" r="6.9"/>
<circle class="c10" cx="308.0" cy="516.9" r="6.9"/>
<circle class="c17" cx="809.4" cy="928.7" r="6.9"/>
<circle class="c13" cx="639.7" cy="305.6" r="6.9"/>
<circle class="c12" cx="688.0" cy="267.6" r="6.9"/>
<circle class="c4" cx="929.2" cy="637.9" r="6.9"/>
<circle class="c13" cx="650.7" cy="841.0" r="6.9"/>
<circle class="c8" cx="374.4" cy="727.2" r="6.9"/>
<circle class="c14" cx="973.7" cy="827.8" r="6.9"/>
<circle class="c6" cx="583.0" cy="220.4" r="6.9"/>
<circle class="c17" cx="1064.1" cy="458.3" r="6.9"/>
<circle class="c13" cx="933.6" cy="804.5" r="6.9"/>
<circle class="c11" cx="810.4" cy="699.6" r="6.9"/>
<circle class="c10" cx="607.4" cy="926.1" r="6.9"/>
<circle class="c7" cx="622.6" cy="231.4" r="6.9"/>
<circle class="c17" cx="1090.2" cy="495.3" r="6.9"/>
<circle class="c15" cx="687.6" cy="1032.8" r="6.9"/>
<circle class="c13" cx="783.2" cy="473.4" r="6.9"/>
<circle class="c7" cx="521.5" cy="703.8" r="6.9"/>
<circle class="c15" cx="931.8" cy="349.3" r="6.9"/>
<circle class="c12" cx="784.7" cy="480.6" r="6.9"/>
<circle class="c8" cx="573.3" cy="250.0" r="6.9"/>
<circle class="c19" cx="924.9" cy="515.0" r="6.9"/>
<circle class="c14" cx="1038.9" cy="459.3" r="6.9"/>
<circle class="c14" cx="618.8" cy="848.0" r="6.9"/>
<circle class="c15" cx="713.7" cy="295.3" r="6.9"/>
<circle class="c17" cx="1007.8" cy="262.9" r="6.9"/>
<circle class="c9" cx="385.6" cy="526.6" r="6.9"/>
<circle class="c13" cx="743.4" cy="797.8" r="6.9"/>
<circle class="c13" cx="553.1" cy="879.5" r="6.9"/>
<circle class="c15" cx="833.6" cy="924.0" r="6.9"/>
<circle class="c12" cx="694.4" cy="783.1" r="6.9"/>
<circle class="c7" cx="405.7" cy="759.1" r="6.9"/>
<circle class="c17" cx="912.5" cy="591.0" r="6.9"/>
<circle class="c16" cx="808.4" cy="947.5" r="6.9"/>
<circle class="c16" cx="878.4" cy="872.0" r="6.9"/>
<circle class="c13" cx="724.3" cy="318.3" r="6.9"/>
<circle class="c11" cx="796.5" cy="342.0" r="6.9"/>
<circle class="c4" cx="887.7" cy="611.2" r="6.9"/>
<circle class="c6" cx="971.6" cy="637.0" r="6.9"/>
<circle class="c10" cx="365.3" cy="727.9" r="6.9"/>
<circle class="c15" cx="427.1" cy="368.6" r="6.9"/>
<circle class="c15" cx="612.4" cy="1006.7" r="6.9"/>
<circle class="c18" cx="576.1" cy="839.6" r="6.9"/>
<circle class="c9" cx="600.5" cy="286.9" r="6.9"/>
<circle class="c10" cx="275.9" cy="455.3" r="6.9"/>
<circle class="c11" cx="966.4" cy="859.2" r="6.9"/>
<circle class="c8" cx="405.1" cy="555.4" r="6.9"/>
<circle class="c15" cx="717.1" cy="632.4" r="6.9"/>
<circle class="c9" cx="442.2" cy="252.2" r="6.9"/>
<circle class="c14" cx="903.3" cy="926.6" r="6.9"/>
<circle class="c13" cx="598.3" cy="783.0" r="6.9"/>
<circle class="c8" cx="489.1" cy="236.5" r="6.9"/>
<circle class="c5" cx="796.0" cy="613.4" r="6.9"/>
<circle class="c18" cx="549.0" cy="465.1" r="6.9"/>
<circle class="c12" cx="654.7" cy="1029.2" r="6.9"/>
<circle class="c12" cx="392.2" cy="402.2" r="6.9"/>
<circle class="c9" cx="472.6" cy="284.6" r="6.9"/>
<circle class="c20" cx="600.2" cy="835.7" r="6.9"/>
<circle class="c15" cx="975.1" cy="429.7" r="6.9"/>
<circle class="c14" cx="733.2" cy="692.9" r="6.9"/>
<circle class="c18" cx="784.2" cy="420.4" r="6.9"/>
<circle class="c16" cx="896.9" cy="863.0" r="6.9"/>
<circle class="c11" cx="348.3" cy="305.6" r="6.9"/>
<circle class="c12" cx="514.9" cy="907.8" r="6.9"/>
<circle class="c14" cx="705.9" cy="722.6" r="6.9"/>
<circle class="c14" cx="838.7" cy="739.2" r="6.9"/>
<circle class="c15" cx="833.0" cy="865.0" r="6.9"/>
<circle class="c12" cx="558.1" cy="792.6" r="6.9"/>
<circle class="c13" cx="667.1" cy="978.8" r="6.9"/>
<circle class="c7" cx="533.7" cy="236.8" r="6.9"/>
<circle class="c12" cx="638.5" cy="840.7" r="6.9"/>
<circle class="c14" cx="954.4" cy="895.3" r="6.9"/>
<circle class="c18" cx="1057.4" cy="476.1" r="6.9"/>
<circle class="c12" cx="818.3" cy="944.1" r="6.9"/>
<circle class="c14" cx="852.0" cy="896.2" r="6.9"/>
<circle class="c14" cx="662.8" cy="1051.4" r="6.9"/>
<circle class="c10" cx="601.4" cy="902.9" r="6.9"/>
<circle class="c23" cx="1012.2" cy="286.4" r="6.9"/>
<circle class="c19" cx="1012.9" cy="280.3" r="6.9"/>
<circle class="c9" cx="769.9" cy="533.0" r="6.9"/>
<circle class="c11" cx="775.3" cy="326.6" r="6.9"/>
<circle class="c11" cx="657.5" cy="844.9" r="6.9"/>
<circle class="c8" cx="361.9" cy="783.6" r="6.9"/>
<circle class="c8" cx="781.0" cy="622.1" r="6.9"/>
<circle class="c10" cx="846.4" cy="424.6" r="6.9"/>
<circle class="c12" cx="578.0" cy="810.7" r="6.9"/>
<circle class="c11" cx="592.6" cy="755.0" r="6.9"/>
<circle class="c15" cx="689.6" cy="1001.8" r="6.9"/>
<circle class="c18" cx="943.4" cy="336.8" r="6.9"/>
<circle class="c8" cx="519.1" cy="255.9" r="6.9"/>
<circle class="c15" cx="509.8" cy="996.0" r="6.9"/>
<circle class="c13" cx="656.3" cy="750.5" r="6.9"/>
<circle class="c10" cx="290.1" cy="384.6" r="6.9"/>
<circle class="c12" cx="820.6" cy="339.0" r="6.9"/>
<circle class="c12" cx="743.4" cy="880.8" r="6.9"/>
<circle class="c15" cx="1079.7" cy="491.1" r="6.9"/>
<circle class="c14" cx="524.0" cy="987.3" r="6.9"/>
<circle class="c16" cx="740.7" cy="770.3" r="6.9"/>
<circle class="c11" cx="576.1" cy="994.4" r="6.9"/>
<circle class="c12" cx="315.3" cy="400.8" r="6.9"/>
<circle class="c12" cx="628.0" cy="925.1" r="6.9"/>
<circle class="c18" cx="849.8" cy="366.1" r="6.9"/>
<circle class="c11" cx="695.2" cy="990.0" r="6.9"/>
<circle class="c13" cx="916.9" cy="777.9" r="6.9"/>
<circle class="c8" cx="409.0" cy="844.3" r="6.9"/>
<circle class="c14" cx="560.5" cy="467.3" r="6.9"/>
<circle class="c15" cx="626.6" cy="964.1" r="6.9"/>
<circle class="c12" cx="545.2" cy="451.1" r="6.9"/>
<circle class="c11" cx="666.4" cy="851.8" r="6.9"/>
<circle class="c17" cx="879.4" cy="350.3" r="6.9"/>
<circle class="c7" cx="404.4" cy="234.6" r="6.9"/>
<circle class="c11" cx="476.6" cy="255.2" r="6.9"/>
<circle class="c13" cx="617.5" cy="1045.3" r="6.9"/>
<circle class="c18" cx="1030.4" cy="457.2" r="6.9"/>
<circle class="c10" cx="653.3" cy="850.4" r="6.9"/>
<circle class="c11" cx="695.0" cy="868.8" r="6.9"/>
<circle class="c14" cx="754.7" cy="752.4" r="6.9"/>
<circle class="c10" cx="485.8" cy="900.0" r="6.9"/>
<circle class="c11" cx="312.8" cy="342.1" r="6.9"/>
<circle class="c12" cx="632.9" cy="961.1" r="6.9"/>
<circle class="c15" cx="568.6" cy="841.7" r="6.9"/>
<circle class="c13" cx="512.8" cy="783.5" r="6.9"/>
<circle class="c4" cx="865.8" cy="634.5" r="6.9"/>
<circle class="c11" cx="312.8" cy="515.1" r="6.9"/>
<circle class="c17" cx="772.2" cy="832.5" r="6.9"/>
<circle class="c10" cx="587.1" cy="305.4" r="6.9"/>
<circle class="c6" cx="461.4" cy="713.3" r="6.9"/>
<circle class="c12" cx="912.4" cy="835.6" r="6.9"/>
<circle class="c10" cx="340.4" cy="247.2" r="6.9"/>
<circle class="c10" cx="519.2" cy="300.8" r="6.9"/>
<circle class="c18" cx="1081.7" cy="503.8" r="6.9"/>
<circle class="c14" cx="323.0" cy="301.4" r="6.9"/>
<circle class="c14" cx="507.8" cy="196.6" r="6.9"/>
<circle class="c11" cx="383.2" cy="566.2" r="6.9"/>
<circle class="c16" cx="913.5" cy="903.7" r="6.9"/>
<circle class="c11" cx="480.7" cy="269.9" r="6.9"/>
<circle class="c11" cx="579.3" cy="561.4" r="6.9"/>
<circle class="c11" cx="560.2" cy="864.8" r="6.9"/>
<circle class="c10" cx="929.7" cy="581.6" r="6.9"/>
<circle class="c11" cx="882.7" cy="826.7" r="6.9"/>
<circle class="c11" cx="459.5" cy="378.8" r="6.9"/>
<circle class="c8" cx="377.5" cy="453.3" r="6.9"/>
<circle class="c17" cx="862.9" cy="383.3" r="6.9"/>
<circle class="c9" cx="828.1" cy="584.1" r="6.9"/>
<circle class="c11" cx="852.9" cy="530.3" r="6.9"/>
<circle class="c8" cx="307.2" cy="279.9" r="6.9"/>
<circle class="c16" cx="709.4" cy="672.4" r="6.9"/>
<circle class="c13" cx="1028.1" cy="489.0" r="6.9"/>
<circle class="c8" cx="401.6" cy="840.7" r="6.9"/>
<circle class="c14" cx="498.2" cy="977.2" r="6.9"/>
<circle class="c16" cx="782.1" cy="288.0" r="6.9"/>
<circle class="c6" cx="378.5" cy="791.4" r="6.9"/>
<circle class="c9" cx="312.5" cy="423.7" r="6.9"/>
<circle class="c12" cx="541.2" cy="484.0" r="6.9"/>
<circle class="c9" cx="486.0" cy="919.4" r="6.9"/>
<circle class="c16" cx="585.4" cy="814.8" r="6.9"/>
<circle class="c7" cx="794.9" cy="711.9" r="6.9"/>
<circle class="c16" cx="661.7" cy="480.1" r="6.9"/>
<circle class="c14" cx="811.2" cy="851.8" r="6.9"/>
<circle class="c7" cx="962.5" cy="576.5" r="6.9"/>
<circle class="c11" cx="438.9" cy="295.6" r="6.9"/>
<circle class="c11" cx="619.1" cy="859.8" r="6.9"/>
<circle class="c14" cx="938.3" cy="874.0" r="6.9"/>
<circle class="c10" cx="765.6" cy="731.3" r="6.9"/>
<circle class="c11" cx="414.8" cy="402.1" r="6.9"/>
<circle class="c10" cx="303.7" cy="489.5" r="6.9"/>
<circle class="c11" cx="513.3" cy="271.6" r="6.9"/>
<circle class="c8" cx="762.5" cy="531.6" r="6.9"/>
<circle class="c11" cx="620.3" cy="409.6" r="6.9"/>
<circle class="c19" cx="624.8" cy="482.6" r="6.9"/>
<circle class="c16" cx="938.8" cy="883.7" r="6.9"/>
<circle class="c13" cx="916.0" cy="910.5" r="6.9"/>
<circle class="c12" cx="297.5" cy="356.6" r="6.9"/>
<circle class="c16" cx="817.7" cy="768.7" r="6.9"/>
<circle class="c10" cx="642.4" cy="926.7" r="6.9"/>
<circle class="c17" cx="1038.7" cy="340.9" r="6.9"/>
<circle class="c10" cx="616.3" cy="254.1" r="6.9"/>
<circle class="c17" cx="804.6" cy="853.7" r="6.9"/>
<circle class="c17" cx="573.1" cy="1057.3" r="6.9"/>
<circle class="c11" cx="363.9" cy="259.5" r="6.9"/>
<circle class="c14" cx="641.3" cy="273.1" r="6.9"/>
<circle class="c11" cx="653.1" cy="994.5" r="6.9"/>
<circle class="c11" cx="343.5" cy="304.8" r="6.9"/>
<circle class="c19" cx="1072.7" cy="342.1" r="6.9"/>
<circle class="c9" cx="598.0" cy="936.8" r="6.9"/>
<circle class="c15" cx="574.0" cy="1010.7" r="6.9"/>
<circle class="c5" cx="604.7" cy="256.8" r="6.9"/>
<circle class="c10" cx="646.2" cy="537.6" r="6.9"/>
<circle class="c9" cx="446.9" cy="711.6" r="6.9"/>
<circle class="c8" cx="407.6" cy="391.5" r="6.9"/>
<circle class="c9" cx="539.1" cy="907.6" r="6.9"/>
<circle class="c14" cx="504.5" cy="981.4" r="6.9"/>
<circle class="c17" cx="1031.5" cy="345.5" r="6.9"/>
<circle class="c13" cx="525.8" cy="485.5" r="6.9"/>
<circle class="c18" cx="633.7" cy="1075.7" r="6.9"/>
<circle class="c12" cx="503.5" cy="291.4" r="6.9"/>
<circle class="c19" cx="857.1" cy="483.6" r="6.9"/>
<circle class="c11" cx="328.5" cy="817.3" r="6.9"/>
<circle class="c8" cx="644.2" cy="217.4" r="6.9"/>
<circle class="c15" cx="704.9" cy="283.6" r="6.9"/>
<circle class="c4" cx="796.4" cy="736.5" r="6.9"/>
<circle class="c11" cx="356.9" cy="826.7" r="6.9"/>
<circle class="c13" cx="495.0" cy="297.7" r="6.9"/>
<circle class="c7" cx="855.7" cy="547.6" r="6.9"/>
<circle class="c12" cx="341.1" cy="580.7" r="6.9"/>
<circle class="c9" cx="528.8" cy="302.3" r="6.9"/>
<circle class="c7" cx="395.5" cy="815.7" r="6.9"/>
<circle class="c13" cx="790.9" cy="472.9" r="6.9"/>
<circle class="c19" cx="704.7" cy="431.4" r="6.9"/>
<circle class="c18" cx="1071.6" cy="363.0" r="6.9"/>
<circle class="c15" cx="873.2" cy="812.8" r="6.9"/>
<circle class="c12" cx="450.7" cy="727.3" r="6.9"/>
<circle class="c10" cx="645.1" cy="727.1" r="6.9"/>
<circle class="c6" cx="921.1" cy="683.5" r="6.9"/>
<circle class="c15" cx="994.8" cy="830.3" r="6.9"/>
<circle class="c17" cx="590.1" cy="808.8" r="6.9"/>
<circle class="c12" cx="537.2" cy="919.6" r="6.9"/>
<circle class="c14" cx="529.0" cy="500.9" r="6.9"/>
<circle class="c11" cx="444.3" cy="271.6" r="6.9"/>
<circle class="c11" cx="616.1" cy="930.1" r="6.9"/>
<circle class="c14" cx="799.8" cy="290.6" r="6.9"/>
<circle class="c14" cx="864.3" cy="904.3" r="6.9"/>
<circle class="c10" cx="331.4" cy="803.7" r="6.9"/>
<circle class="c11" cx="439.4" cy="343.4" r="6.9"/>
<circle class="c15" cx="1082.9" cy="473.7" r="6.9"/>
<circle class="c12" cx="818.7" cy="914.9" r="6.9"/>
<circle class="c9" cx="352.6" cy="484.8" r="6.9"/>
<circle class="c14" cx="592.2" cy="883.6" r="6.9"/>
<circle class="c5" cx="925.4" cy="629.4" r="6.9"/>
<circle class="c18" cx="638.5" cy="426.0" r="6.9"/>
<circle class="c7" cx="726.9" cy="705.2" r="6.9"/>
<circle class="c17" cx="623.9" cy="428.2" r="6.9"/>
<circle class="c3" cx="873.6" cy="661.3" r="6.9"/>
<circle class="c13" cx="579.2" cy="1012.5" r="6.9"/>
<circle class="c8" cx="973.7" cy="572.2" r="6.9"/>
<circle class="c15" cx="946.9" cy="873.6" r="6.9"/>
<circle class="c3" cx="888.6" cy="683.7" r="6.9"/>
<circle class="c21" cx="1042.4" cy="358.0" r="6.9"/>
<circle class="c16" cx="779.8" cy="422.5" r="6.9"/>
<circle class="c9" cx="667.8" cy="811.9" r="6.9"/>
<circle class="c9" cx="458.4" cy="341.9" r="6.9"/>
<circle class="c12" cx="624.1" cy="744.4" r="6.9"/>
<circle class="c15" cx="966.5" cy="485.2" r="6.9"/>
<circle class="c7" cx="588.6" cy="242.4" r="6.9"/>
<circle class="c18" cx="911.0" cy="526.7" r="6.9"/>
<circle class="c8" cx="608.9" cy="254.5" r="6.9"/>
<circle class="c10" cx="326.4" cy="392.5" r="6.9"/>
<circle class="c15" cx="890.4" cy="491.1" r="6.9"/>
<circle class="c17" cx="761.5" cy="281.4" r="6.9"/>
<circle class="c6" cx="379.9" cy="248.4" r="6.9"/>
<circle class="c21" cx="884.3" cy="856.5" r="6.9"/>
<circle class="c8" cx="843.3" cy="719.8" r="6.9"/>
<circle class="c18" cx="575.8" cy="846.8" r="6.9"/>
<circle class="c12" cx="659.5" cy="1065.3" r="6.9"/>
<circle class="c9" cx="812.4" cy="716.2" r="6.9"/>
<circle class="c13" cx="734.4" cy="749.1" r="6.9"/>
<circle class="c15" cx="729.1" cy="833.4" r="6.9"/>
<circle class="c18" cx="907.0" cy="818.8" r="6.9"/>
<circle class="c17" cx="633.2" cy="499.9" r="6.9"/>
<circle class="c8" cx="511.3" cy="737.1" r="6.9"/>
<circle class="c13" cx="401.8" cy="552.5" r="6.9"/>
<circle class="c11" cx="504.4" cy="325.0" r="6.9"/>
<circle class="c12" cx="366.2" cy="284.9" r="6.9"/>
<circle class="c8" cx="543.9" cy="966.9" r="6.9"/>
<circle class="c13" cx="359.2" cy="273.0" r="6.9"/>
<circle class="c16" cx="541.1" cy="1050.6" r="6.9"/>
<circle class="c8" cx="410.8" cy="829.8" r="6.9"/>
<circle class="c10" cx="721.9" cy="702.4" r="6.9"/>
<circle class="c11" cx="422.1" cy="388.3" r="6.9"/>
<circle class="c14" cx="830.9" cy="881.5" r="6.9"/>
<circle class="c6" cx="502.6" cy="703.9" r="6.9"/>
<circle class="c13" cx="672.1" cy="878.5" r="6.9"/>
<circle class="c8" cx="362.8" cy="709.5" r="6.9"/>
<circle class="c9" cx="546.4" cy="276.8" r="6.9"/>
<circle class="c13" cx="772.9" cy="912.7" r="6.9"/>
<circle class="c9" cx="569.0" cy="216.2" r="6.9"/>
<circle class="c14" cx="627.6" cy="754.1" r="6.9"/>
<circle class="c14" cx="640.6" cy="880.7" r="6.9"/>
<circle class="c1" cx="902.7" cy="637.5" r="6.9"/>
<circle class="c15" cx="802.9" cy="788.7" r="6.9"/>
<circle class="c6" cx="495.0" cy="971.3" r="6.9"/>
<circle class="c14" cx="726.4" cy="242.1" r="6.9"/>
<circle class="c12" cx="410.7" cy="246.3" r="6.9"/>
<circle class="c12" cx="385.1" cy="322.7" r="6.9"/>
<circle class="c16" cx="1054.6" cy="293.0" r="6.9"/>
<circle class="c11" cx="430.8" cy="321.6" r="6.9"/>
<circle class="c15" cx="937.0" cy="505.9" r="6.9"/>
<circle class="c18" cx="973.6" cy="407.6" r="6.9"/>
<circle class="c7" cx="350.7" cy="279.7" r="6.9"/>
<circle class="c14" cx="422.4" cy="361.3" r="6.9"/>
<circle class="c15" cx="589.8" cy="527.1" r="6.9"/>
<circle class="c10" cx="798.9" cy="801.9" r="6.9"/>
<circle class="c4" cx="971.3" cy="662.6" r="6.9"/>
<circle class="c23" cx="605.3" cy="459.2" r="6.9"/>
<circle class="c15" cx="733.3" cy="629.1" r="6.9"/>
<circle class="c9" cx="477.0" cy="250.9" r="6.9"/>
<circle class="c18" cx="582.5" cy="1028.3" r="6.9"/>
<circle class="c16" cx="601.8" cy="501.0" r="6.9"/>
<circle class="c9" cx="413.7" cy="547.2" r="6.9"/>
<circle class="c15" cx="681.3" cy="289.8" r="6.9"/>
<circle class="c12" cx="334.4" cy="491.8" r="6.9"/>
<circle class="c10" cx="668.1" cy="782.9" r="6.9"/>
<circle class="c14" cx="531.6" cy="790.2" r="6.9"/>
<circle class="c12" cx="639.3" cy="231.6" r="6.9"/>
<circle class="c7" cx="511.2" cy="881.0" r="6.9"/>
<circle class="c13" cx="1053.6" cy="500.9" r="6.9"/>
<circle class="c11" cx="512.9" cy="252.6" r="6.9"/>
<circle class="c15" cx="1011.5" cy="480.7" r="6.9"/>
<circle class="c13" cx="717.4" cy="794.3" r="6.9"/>
<circle class="c19" cx="1012.6" cy="826.0" r="6.9"/>
<circle class="c14" cx="988.8" cy="324.7" r="6.9"/>
<circle class="c14" cx="779.8" cy="815.0" r="6.9"/>
<circle class="c12" cx="831.8" cy="943.1" r="6.9"/>
<circle class="c12" cx="671.3" cy="762.7" r="6.9"/>
<circle class="c13" cx="858.9" cy="559.8" r="6.9"/>
<circle class="c15" cx="934.9" cy="519.0" r="6.9"/>
<circle class="c15" cx="800.3" cy="953.8" r="6.9"/>
<circle class="c12" cx="612.1" cy="296.4" r="6.9"/>
<circle class="c9" cx="454.6" cy="223.5" r="6.9"/>
<circle class="c14" cx="436.2" cy="260.6" r="6.9"/>
<circle class="c10" cx="448.6" cy="324.6" r="6.9"/>
<circle class="c4" cx="880.1" cy="635.1" r="6.9"/>
<circle class="c15" cx="907.6" cy="866.9" r="6.9"/>
<circle class="c12" cx="766.5" cy="288.5" r="6.9"/>
<circle class="c11" cx="284.2" cy="296.8" r="6.9"/>
<circle class="c7" cx="425.4" cy="799.5" r="6.9"/>
<circle class="c13" cx="391.9" cy="266.2" r="6.9"/>
<circle class="c7" cx="419.4" cy="714.1" r="6.9"/>
<circle class="c11" cx="599.2" cy="233.6" r="6.9"/>
<circle class="c17" cx="922.3" cy="369.7" r="6.9"/>
<circle class="c14" cx="932.6" cy="893.6" r="6.9"/>
<circle class="c18" cx="723.1" cy="444.8" r="6.9"/>
<circle class="c8" cx="568.8" cy="849.9" r="6.9"/>
<circle class="c14" cx="693.6" cy="241.1" r="6.9"/>
<circle class="c11" cx="564.3" cy="835.0" r="6.9"/>
<circle class="c11" cx="538.9" cy="346.6" r="6.9"/>
<circle class="c10" cx="399.4" cy="380.3" r="6.9"/>
<circle class="c13" cx="531.3" cy="899.5" r="6.9"/>
<circle class="c16" cx="1010.8" cy="268.7" r="6.9"/>
<circle class="c6" cx="475.6" cy="224.6" r="6.9"/>
<circle class="c15" cx="784.9" cy="911.3" r="6.9"/>
<circle class="c14" cx="810.2" cy="859.7" r="6.9"/>
<circle class="c10" cx="767.1" cy="713.4" r="6.9"/>
<circle class="c10" cx="351.6" cy="518.4" r="6.9"/>
<circle class="c15" cx="418.7" cy="258.7" r="6.9"/>
<circle class="c10" cx="512.9" cy="472.0" r="6.9"/>
<circle class="c7" cx="433.3" cy="846.6" r="6.9"/>
<circle class="c12" cx="652.3" cy="870.1" r="6.9"/>
<circle class="c16" cx="294.0" cy="337.6" r="6.9"/>
<circle class="c15" cx="883.7" cy="394.7" r="6.9"/>
<circle class="c6" cx="863.6" cy="588.7" r="6.9"/>
<circle class="c14" cx="914.5" cy="772.0" r="6.9"/>
<circle class="c14" cx="835.2" cy="955.8" r="6.9"/>
<circle class="c11" cx="411.0" cy="238.4" r="6.9"/>
<circle class="c17" cx="640.5" cy="1049.3" r="6.9"/>
<circle class="c16" cx="619.6" cy="747.4" r="6.9"/>
<circle class="c10" cx="501.7" cy="958.3" r="6.9"/>
<circle class="c14" cx="954.4" cy="426.2" r="6.9"/>
<circle class="c12" cx="288.1" cy="340.1" r="6.9"/>
<circle class="c16" cx="658.7" cy="497.5" r="6.9"/>
<circle class="c12" cx="637.2" cy="254.0" r="6.9"/>
<circle class="c10" cx="820.2" cy="688.4" r="6.9"/>
<circle class="c6" cx="559.4" cy="225.0" r="6.9"/>
<circle class="c7" cx="526.2" cy="916.4" r="6.9"/>
<circle class="c15" cx="577.3" cy="830.3" r="6.9"/>
<circle class="c14" cx="729.9" cy="759.3" r="6.9"/>
<circle class="c15" cx="964.0" cy="823.1" r="6.9"/>
<circle class="c14" cx="704.8" cy="753.1" r="6.9"/>
<circle class="c16" cx="907.2" cy="855.6" r="6.9"/>
<circle class="c6" cx="395.0" cy="715.1" r="6.9"/>
<circle class="c11" cx="572.7" cy="234.3" r="6.9"/>
<circle class="c9" cx="418.1" cy="337.9" r="6.9"/>
<circle class="c8" cx="757.8" cy="508.3" r="6.9"/>
<circle class="c13" cx="588.8" cy="902.9" r="6.9"/>
<circle class="c7" cx="511.9" cy="330.7" r="6.9"/>
<circle class="c18" cx="927.5" cy="868.4" r="6.9"/>
<circle class="c10" cx="565.9" cy="293.1" r="6.9"/>
<circle class="c7" cx="583.8" cy="953.2" r="6.9"/>
<circle class="c9" cx="514.6" cy="729.5" r="6.9"/>
<circle class="c14" cx="454.7" cy="306.4" r="6.9"/>
<circle class="c13" cx="814.4" cy="350.6" r="6.9"/>
<circle class="c15" cx="601.9" cy="1053.9" r="6.9"/>
<circle class="c10" cx="398.3" cy="304.3" r="6.9"/>
<circle class="c7" cx="329.0" cy="490.9" r="6.9"/>
<circle class="c10" cx="617.3" cy="277.8" r="6.9"/>
<circle class="c9" cx="739.0" cy="502.4" r="6.9"/>
<circle class="c16" cx="629.3" cy="446.4" r="6.9"/>
<circle class="c11" cx="851.9" cy="843.4" r="6.9"/>
<circle class="c16" cx="590.9" cy="844.5" r="6.9"/>
<circle class="c15" cx="600.7" cy="746.0" r="6.9"/>
<circle class="c15" cx="527.4" cy="1023.3" r="6.9"/>
<circle class="c14" cx="640.7" cy="1079.7" r="6.9"/>
<circle class="c10" cx="460.8" cy="276.2" r="6.9"/>
<circle class="c11" cx="582.2" cy="545.3" r="6.9"/>
<circle class="c11" cx="621.8" cy="904.2" r="6.9"/>
<circle class="c5" cx="381.7" cy="782.8" r="6.9"/>
<circle class="c9" cx="635.3" cy="861.6" r="6.9"/>
<circle class="c5" cx="987.0" cy="672.6" r="6.9"/>
<circle class="c15" cx="620.3" cy="792.5" r="6.9"/>
<circle class="c14" cx="744.8" cy="702.2" r="6.9"/>
<circle class="c14" cx="569.6" cy="791.7" r="6.9"/>
<circle class="c7" cx="419.4" cy="241.0" r="6.9"/>
<circle class="c10" cx="532.1" cy="513.7" r="6.9"/>
<circle class="c10" cx="562.9" cy="317.1" r="6.9"/>
<circle class="c8" cx="388.1" cy="731.9" r="6.9"/>
<circle class="c9" cx="786.3" cy="745.8" r="6.9"/>
<circle class="c16" cx="523.4" cy="1035.8" r="6.9"/>
<circle class="c14" cx="906.1" cy="832.4" r="6.9"/>
<circle class="c17" cx="874.5" cy="884.7" r="6.9"/>
<circle class="c9" cx="689.2" cy="787.0" r="6.9"/>
<circle class="c11" cx="677.8" cy="761.7" r="6.9"/>
<circle class="c11" cx="557.7" cy="487.2" r="6.9"/>
<circle class="c11" cx="701.2" cy="728.7" r="6.9"/>
<circle class="c11" cx="380.9" cy="538.8" r="6.9"/>
<circle class="c16" cx="637.9" cy="1041.4" r="6.9"/>
<circle class="c13" cx="725.4" cy="284.9" r="6.9"/>
<circle class="c7" cx="889.1" cy="629.6" r="6.9"/>
<circle class="c17" cx="869.6" cy="834.7" r="6.9"/>
<circle class="c9" cx="286.6" cy="431.7" r="6.9"/>
<circle class="c13" cx="803.5" cy="459.5" r="6.9"/>
<circle class="c7" cx="362.7" cy="762.0" r="6.9"/>
<circle class="c12" cx="510.7" cy="365.1" r="6.9"/>
<circle class="c9" cx="788.6" cy="646.2" r="6.9"/>
<circle class="c15" cx="611.7" cy="812.3" r="6.9"/>
<circle class="c14" cx="740.8" cy="690.5" r="6.9"/>
<circle class="c10" cx="826.6" cy="722.2" r="6.9"/>
<circle class="c14" cx="566.2" cy="1028.1" r="6.9"/>
<circle class="c16" cx="781.6" cy="905.2" r="6.9"/>
<circle class="c8" cx="351.7" cy="546.2" r="6.9"/>
<circle class="c12" cx="465.6" cy="300.5" r="6.9"/>
<circle class="c4" cx="895.0" cy="628.8" r="6.9"/>
<circle class="c8" cx="509.5" cy="382.3" r="6.9"/>
<circle class="c12" cx="557.7" cy="838.0" r="6.9"/>
<circle class="c12" cx="353.8" cy="440.3" r="6.9"/>
<circle class="c19" cx="728.7" cy="1040.5" r="6.9"/>
<circle class="c10" cx="337.2" cy="549.7" r="6.9"/>
<circle class="c16" cx="621.7" cy="1009.3" r="6.9"/>
<circle class="c17" cx="1019.1" cy="263.2" r="6.9"/>
<circle class="c12" cx="572.5" cy="928.0" r="6.9"/>
<circle class="c20" cx="918.7" cy="381.5" r="6.9"/>
<circle class="c15" cx="897.8" cy="391.4" r="6.9"/>
<circle class="c17" cx="564.0" cy="1060.9" r="6.9"/>
<circle class="c8" cx="421.4" cy="836.4" r="6.9"/>
<circle class="c10" cx="770.1" cy="691.1" r="6.9"/>
<circle class="c17" cx="914.6" cy="878.9" r="6.9"/>
<circle class="c12" cx="845.1" cy="545.0" r="6.9"/>
<circle class="c8" cx="483.7" cy="237.5" r="6.9"/>
<circle class="c12" cx="496.2" cy="216.3" r="6.9"/>
<circle class="c16" cx="714.0" cy="809.1" r="6.9"/>
<circle class="c14" cx="987.6" cy="427.2" r="6.9"/>
<circle class="c14" cx="910.7" cy="436.2" r="6.9"/>
<circle class="c15" cx="784.6" cy="900.2" r="6.9"/>
<circle class="c18" cx="843.9" cy="842.6" r="6.9"/>
<circle class="c7" cx="432.4" cy="790.0" r="6.9"/>
<circle class="c10" cx="369.5" cy="342.5" r="6.9"/>
<circle class="c18" cx="557.5" cy="463.6" r="6.9"/>
<circle class="c7" cx="772.2" cy="758.2" r="6.9"/>
<circle class="c16" cx="284.2" cy="329.4" r="6.9"/>
<circle class="c14" cx="619.3" cy="772.7" r="6.9"/>
<circle class="c12" cx="962.1" cy="280.3" r="6.9"/>
<circle class="c11" cx="493.3" cy="375.2" r="6.9"/>
<circle class="c11" cx="959.9" cy="422.8" r="6.9"/>
<circle class="c5" cx="898.9" cy="632.8" r="6.9"/>
<circle class="c11" cx="413.8" cy="284.1" r="6.9"/>
<circle class="c12" cx="799.0" cy="472.3" r="6.9"/>
<circle class="c9" cx="575.4" cy="399.2" r="6.9"/>
<circle class="c9" cx="560.9" cy="240.9" r="6.9"/>
<circle class="c11" cx="706.2" cy="717.7" r="6.9"/>
<circle class="c11" cx="452.0" cy="289.9" r="6.9"/>
<circle class="c19" cx="674.9" cy="1063.6" r="6.9"/>
<circle class="c12" cx="734.4" cy="894.9" r="6.9"/>
<circle class="c11" cx="342.2" cy="283.9" r="6.9"/>
<circle class="c16" cx="927.0" cy="918.4" r="6.9"/>
<circle class="c16" cx="617.8" cy="703.4" r="6.9"/>
<circle class="c8" cx="558.1" cy="907.2" r="6.9"/>
<circle class="c13" cx="357.2" cy="328.1" r="6.9"/>
<circle class="c11" cx="707.0" cy="712.0" r="6.9"/>
<circle class="c5" cx="511.3" cy="482.6" r="6.9"/>
<circle class="c12" cx="281.4" cy="387.0" r="6.9"/>
<circle class="c9" cx="603.1" cy="975.1" r="6.9"/>
<circle class="c17" cx="924.1" cy="408.9" r="6.9"/>
<circle class="c15" cx="581.8" cy="434.7" r="6.9"/>
<circle class="c8" cx="412.7" cy="858.4" r="6.9"/>
<circle class="c7" cx="661.0" cy="826.1" r="6.9"/>
<circle class="c15" cx="666.4" cy="1016.1" r="6.9"/>
<circle class="c15" cx="613.6" cy="789.5" r="6.9"/>
<circle class="c14" cx="319.7" cy="436.8" r="6.9"/>
<circle class="c13" cx="531.0" cy="785.8" r="6.9"/>
<circle class="c2" cx="891.5" cy="677.3" r="6.9"/>
<circle class="c10" cx="791.9" cy="859.6" r="6.9"/>
<circle class="c10" cx="517.9" cy="260.4" r="6.9"/>
<circle class="c4" cx="819.2" cy="581.3" r="6.9"/>
<circle class="c17" cx="669.7" cy="309.6" r="6.9"/>
<circle class="c12" cx="583.3" cy="1005.9" r="6.9"/>
<circle class="c17" cx="806.3" cy="415.2" r="6.9"/>
<circle class="c10" cx="668.1" cy="709.6" r="6.9"/>
<circle class="c13" cx="372.9" cy="449.5" r="6.9"/>
<circle class="c21" cx="853.1" cy="510.3" r="6.9"/>
<circle class="c9" cx="450.8" cy="273.8" r="6.9"/>
<circle class="c10" cx="473.5" cy="370.1" r="6.9"/>
<circle class="c5" cx="490.8" cy="244.5" r="6.9"/>
<circle class="c6" cx="906.3" cy="675.9" r="6.9"/>
<circle class="c11" cx="534.1" cy="489.6" r="6.9"/>
<circle class="c16" cx="762.8" cy="1035.9" r="6.9"/>
<circle class="c11" cx="816.6" cy="725.7" r="6.9"/>
<circle class="c15" cx="960.2" cy="442.1" r="6.9"/>
<circle class="c7" cx="382.7" cy="819.8" r="6.9"/>
<circle class="c10" cx="576.1" cy="307.3" r="6.9"/>
<circle class="c10" cx="589.7" cy="219.2" r="6.9"/>
<circle class="c15" cx="615.6" cy="1032.9" r="6.9"/>
<circle class="c10" cx="698.9" cy="848.3" r="6.9"/>
<circle class="c9" cx="410.2" cy="785.5" r="6.9"/>
<circle class="c17" cx="957.7" cy="305.4" r="6.9"/>
<circle class="c13" cx="399.1" cy="299.8" r="6.9"/>
<circle class="c16" cx="866.3" cy="390.9" r="6.9"/>
<circle class="c19" cx="931.6" cy="511.9" r="6.9"/>
<circle class="c13" cx="771.6" cy="880.8" r="6.9"/>
<circle class="c10" cx="769.6" cy="276.6" r="6.9"/>
<circle class="c9" cx="335.1" cy="249.9" r="6.9"/>
<circle class="c6" cx="676.3" cy="456.2" r="6.9"/>
<circle class="c15" cx="792.1" cy="287.4" r="6.9"/>
<circle class="c14" cx="629.2" cy="699.0" r="6.9"/>
<circle class="c12" cx="582.7" cy="746.3" r="6.9"/>
<circle class="c9" cx="608.9" cy="276.3" r="6.9"/>
<circle class="c7" cx="377.1" cy="722.1" r="6.9"/>
<circle class="c14" cx="893.6" cy="852.8" r="6.9"/>
<circle class="c5" cx="417.7" cy="807.9" r="6.9"/>
<circle class="c11" cx="532.5" cy="452.8" r="6.9"/>
<circle class="c7" cx="388.2" cy="742.9" r="6.9"/>
<circle class="c17" cx="736.9" cy="833.9" r="6.9"/>
<circle class="c11" cx="818.9" cy="824.3" r="6.9"/>
<circle class="c16" cx="561.6" cy="785.7" r="6.9"/>
<circle class="c9" cx="653.4" cy="966.2" r="6.9"/>
<circle class="c9" cx="282.0" cy="372.2" r="6.9"/>
<circle class="c11" cx="980.9" cy="819.6" r="6.9"/>
<circle class="c4" cx="568.3" cy="203.0" r="6.9"/>
<circle class="c17" cx="872.8" cy="863.2" r="6.9"/>
<circle class="c16" cx="737.9" cy="818.7" r="6.9"/>
<circle class="c22" cx="670.8" cy="1065.9" r="6.9"/>
<circle class="c8" cx="774.5" cy="732.4" r="6.9"/>
<circle class="c8" cx="373.9" cy="749.3" r="6.9"/>
<circle class="c10" cx="498.2" cy="307.0" r="6.9"/>
<circle class="c10" cx="395.3" cy="391.9" r="6.9"/>
<circle class="c15" cx="726.6" cy="848.5" r="6.9"/>
<circle class="c15" cx="868.6" cy="792.7" r="6.9"/>
<circle class="c15" cx="749.5" cy="628.5" r="6.9"/>
<circle class="c10" cx="678.9" cy="797.1" r="6.9"/>
<circle class="c11" cx="352.1" cy="427.3" r="6.9"/>
<circle class="c12" cx="756.5" cy="907.2" r="6.9"/>
<circle class="c18" cx="570.4" cy="483.7" r="6.9"/>
<circle class="c4" cx="860.7" cy="625.7" r="6.9"/>
<circle class="c11" cx="331.6" cy="311.1" r="6.9"/>
<circle class="c8" cx="791.6" cy="692.7" r="6.9"/>
<circle class="c11" cx="685.2" cy="869.5" r="6.9"/>
<circle class="c6" cx="743.7" cy="501.1" r="6.9"/>
<circle class="c17" cx="1028.5" cy="310.5" r="6.9"/>
<circle class="c7" cx="410.9" cy="834.4" r="6.9"/>
<circle class="c10" cx="561.7" cy="876.1" r="6.9"/>
<circle class="c16" cx="685.7" cy="1081.4" r="6.9"/>
<circle class="c16" cx="696.9" cy="956.4" r="6.9"/>
<circle class="c14" cx="977.4" cy="452.3" r="6.9"/>
<circle class="c9" cx="502.0" cy="332.0" r="6.9"/>
<circle class="c6" cx="440.4" cy="717.9" r="6.9"/>
<circle class="c12" cx="539.4" cy="531.6" r="6.9"/>
<circle class="c16" cx="991.4" cy="492.5" r="6.9"/>
<circle class="c12" cx="341.8" cy="547.4" r="6.9"/>
<circle class="c10" cx="318.5" cy="530.3" r="6.9"/>
<circle class="c9" cx="324.9" cy="566.5" r="6.9"/>
<circle class="c14" cx="351.0" cy="335.9" r="6.9"/>
<circle class="c18" cx="1013.5" cy="465.9" r="6.9"/>
<circle class="c16" cx="792.6" cy="847.8" r="6.9"/>
<circle class="c19" cx="1036.0" cy="300.8" r="6.9"/>
<circle class="c18" cx="954.5" cy="420.1" r="6.9"/>
<circle class="c11" cx="623.4" cy="945.1" r="6.9"/>
<circle class="c10" cx="289.4" cy="484.1" r="6.9"/>
<circle class="c11" cx="376.0" cy="525.4" r="6.9"/>
<circle class="c14" cx="507.9" cy="984.6" r="6.9"/>
<circle class="c12" cx="372.2" cy="315.9" r="6.9"/>
<circle class="c10" cx="336.4" cy="559.1" r="6.9"/>
<circle class="c7" cx="440.5" cy="230.6" r="6.9"/>
<circle class="c15" cx="914.4" cy="886.4" r="6.9"/>
<circle class="c16" cx="675.4" cy="746.2" r="6.9"/>
<circle class="c5" cx="361.3" cy="718.7" r="6.9"/>
<circle class="c7" cx="529.1" cy="551.7" r="6.9"/>
<circle class="c7" cx="330.2" cy="384.3" r="6.9"/>
<circle class="c11" cx="977.5" cy="332.8" r="6.9"/>
<circle class="c15" cx="880.1" cy="434.7" r="6.9"/>
<circle class="c9" cx="394.2" cy="579.6" r="6.9"/>
<circle class="c8" cx="372.6" cy="406.7" r="6.9"/>
<circle class="c8" cx="631.5" cy="883.9" r="6.9"/>
<circle class="c12" cx="674.0" cy="801.6" r="6.9"/>
<circle class="c13" cx="298.2" cy="297.0" r="6.9"/>
<circle class="c8" cx="580.2" cy="326.9" r="6.9"/>
<circle class="c16" cx="642.0" cy="856.1" r="6.9"/>
<circle class="c11" cx="818.0" cy="555.0" r="6.9"/>
<circle class="c16" cx="941.1" cy="380.2" r="6.9"/>
<circle class="c13" cx="420.6" cy="408.6" r="6.9"/>
<circle class="c9" cx="611.9" cy="216.8" r="6.9"/>
<circle class="c15" cx="592.2" cy="512.4" r="6.9"/>
<circle class="c8" cx="830.0" cy="764.6" r="6.9"/>
<circle class="c14" cx="945.5" cy="310.3" r="6.9"/>
<circle class="c11" cx="640.0" cy="918.2" r="6.9"/>
<circle class="c19" cx="1100.3" cy="498.9" r="6.9"/>
<circle class="c12" cx="399.4" cy="474.0" r="6.9"/>
<circle class="c10" cx="648.9" cy="860.5" r="6.9"/>
<circle class="c16" cx="874.8" cy="438.4" r="6.9"/>
<circle class="c11" cx="510.8" cy="371.3" r="6.9"/>
<circle class="c13" cx="575.3" cy="820.2" r="6.9"/>
<circle class="c19" cx="906.9" cy="775.2" r="6.9"/>
<circle class="c16" cx="922.8" cy="835.7" r="6.9"/>
<circle class="c10" cx="509.6" cy="238.0" r="6.9"/>
<circle class="c8" cx="330.2" cy="567.6" r="6.9"/>
<circle class="c8" cx="851.7" cy="700.9" r="6.9"/>
<circle class="c13" cx="466.6" cy="337.0" r="6.9"/>
<circle class="c12" cx="565.8" cy="946.5" r="6.9"/>
<circle class="c13" cx="913.6" cy="336.0" r="6.9"/>
<circle class="c9" cx="352.5" cy="808.9" r="6.9"/>
<circle class="c14" cx="755.0" cy="795.2" r="6.9"/>
<circle class="c19" cx="801.4" cy="833.0" r="6.9"/>
<circle class="c15" cx="575.3" cy="795.1" r="6.9"/>
<circle class="c9" cx="708.5" cy="636.4" r="6.9"/>
<circle class="c10" cx="616.0" cy="867.6" r="6.9"/>
<circle class="c5" cx="866.4" cy="641.1" r="6.9"/>
<circle class="c8" cx="620.5" cy="965.5" r="6.9"/>
<circle class="c9" cx="754.2" cy="771.0" r="6.9"/>
<circle class="c6" cx="467.0" cy="740.8" r="6.9"/>
<circle class="c16" cx="885.8" cy="357.0" r="6.9"/>
<circle class="c15" cx="691.1" cy="439.1" r="6.9"/>
<circle class="c12" cx="711.5" cy="873.2" r="6.9"/>
<circle class="c15" cx="847.2" cy="936.6" r="6.9"/>
<circle class="c14" cx="698.9" cy="960.4" r="6.9"/>
<circle class="c10" cx="281.0" cy="340.6" r="6.9"/>
<circle class="c10" cx="399.3" cy="420.1" r="6.9"/>
<circle class="c13" cx="312.7" cy="346.9" r="6.9"/>
<circle class="c13" cx="800.2" cy="816.1" r="6.9"/>
<circle class="c14" cx="848.6" cy="862.4" r="6.9"/>
<circle class="c16" cx="748.7" cy="854.2" r="6.9"/>
<circle class="c17" cx="1036.1" cy="323.9" r="6.9"/>
<circle class="c12" cx="393.2" cy="435.3" r="6.9"/>
<circle class="c16" cx="642.1" cy="462.8" r="6.9"/>
<circle class="c14" cx="302.9" cy="497.1" r="6.9"/>
<circle class="c12" cx="795.5" cy="482.7" r="6.9"/>
<circle class="c10" cx="500.3" cy="358.6" r="6.9"/>
<circle class="c12" cx="613.4" cy="903.0" r="6.9"/>
<circle class="c10" cx="673.4" cy="962.8" r="6.9"/>
<circle class="c14" cx="667.1" cy="968.0" r="6.9"/>
<circle class="c11" cx="431.6" cy="369.6" r="6.9"/>
<circle class="c13" cx="670.5" cy="972.9" r="6.9"/>
<circle class="c13" cx="822.7" cy="785.2" r="6.9"/>
<circle class="c19" cx="1098.0" cy="483.3" r="6.9"/>
<circle class="c18" cx="593.7" cy="787.8" r="6.9"/>
<circle class="c10" cx="444.5" cy="379.3" r="6.9"/>
<circle class="c12" cx="398.6" cy="545.9" r="6.9"/>
<circle class="c11" cx="521.2" cy="875.6" r="6.9"/>
<circle class="c9" cx="508.1" cy="749.2" r="6.9"/>
<circle class="c11" cx="349.0" cy="395.6" r="6.9"/>
<circle class="c6" cx="940.7" cy="668.8" r="6.9"/>
<circle class="c11" cx="667.4" cy="962.0" r="6.9"/>
<circle class="c12" cx="538.4" cy="235.0" r="6.9"/>
<circle class="c10" cx="806.0" cy="729.4" r="6.9"/>
<circle class="c15" cx="788.9" cy="970.3" r="6.9"/>
<circle class="c8" cx="609.2" cy="221.6" r="6.9"/>
<circle class="c13" cx="592.6" cy="703.1" r="6.9"/>
<circle class="c12" cx="549.1" cy="862.7" r="6.9"/>
<circle class="c19" cx="602.4" cy="442.7" r="6.9"/>
<circle class="c4" cx="966.9" cy="636.4" r="6.9"/>
<circle class="c12" cx="637.9" cy="731.9" r="6.9"/>
<circle class="c11" cx="312.5" cy="542.1" r="6.9"/>
<circle class="c10" cx="530.6" cy="535.6" r="6.9"/>
<circle class="c10" cx="484.4" cy="242.9" r="6.9"/>
<circle class="c15" cx="886.6" cy="907.3" r="6.9"/>
<circle class="c8" cx="357.8" cy="750.9" r="6.9"/>
<circle class="c10" cx="506.9" cy="513.8" r="6.9"/>
<circle class="c10" cx="547.7" cy="816.9" r="6.9"/>
<circle class="c9" cx="569.3" cy="313.9" r="6.9"/>
<circle class="c11" cx="526.5" cy="566.0" r="6.9"/>
<circle class="c6" cx="989.8" cy="662.0" r="6.9"/>
<circle class="c10" cx="417.5" cy="363.3" r="6.9"/>
<circle class="c14" cx="649.2" cy="992.3" r="6.9"/>
<circle class="c12" cx="680.1" cy="773.5" r="6.9"/>
<circle class="c13" cx="971.2" cy="877.3" r="6.9"/>
<circle class="c11" cx="826.4" cy="552.8" r="6.9"/>
<circle class="c9" cx="521.8" cy="324.1" r="6.9"/>
<circle class="c13" cx="597.0" cy="874.1" r="6.9"/>
<circle class="c14" cx="637.1" cy="280.3" r="6.9"/>
<circle class="c8" cx="967.3" cy="676.5" r="6.9"/>
<circle class="c6" cx="556.6" cy="266.8" r="6.9"/>
<circle class="c10" cx="625.8" cy="726.7" r="6.9"/>
<circle class="c9" cx="572.2" cy="331.3" r="6.9"/>
<circle class="c14" cx="783.2" cy="800.3" r="6.9"/>
<circle class="c11" cx="518.5" cy="468.7" r="6.9"/>
<circle class="c5" cx="963.7" cy="627.5" r="6.9"/>
<circle class="c12" cx="752.9" cy="654.6" r="6.9"/>
<circle class="c9" cx="820.9" cy="796.3" r="6.9"/>
<circle class="c15" cx="613.6" cy="722.9" r="6.9"/>
<circle class="c14" cx="595.2" cy="980.2" r="6.9"/>
<circle class="c12" cx="501.1" cy="269.4" r="6.9"/>
<circle class="c14" cx="359.8" cy="340.4" r="6.9"/>
<circle class="c9" cx="820.8" cy="635.2" r="6.9"/>
<circle class="c12" cx="610.2" cy="535.2" r="6.9"/>
<circle class="c10" cx="579.2" cy="789.2" r="6.9"/>
<circle class="c6" cx="526.3" cy="907.3" r="6.9"/>
<circle class="c15" cx="654.9" cy="1000.1" r="6.9"/>
<circle class="c6" cx="417.9" cy="789.5" r="6.9"/>
<circle class="c11" cx="506.5" cy="446.7" r="6.9"/>
<circle class="c5" cx="939.3" cy="664.8" r="6.9"/>
<circle class="c9" cx="937.4" cy="333.5" r="6.9"/>
<circle class="c13" cx="597.7" cy="757.5" r="6.9"/>
<circle class="c10" cx="719.9" cy="850.5" r="6.9"/>
<circle class="c17" cx="704.9" cy="647.7" r="6.9"/>
<circle class="c7" cx="700.2" cy="483.2" r="6.9"/>
<circle class="c14" cx="992.0" cy="851.8" r="6.9"/>
<circle class="c12" cx="531.7" cy="447.3" r="6.9"/>
<circle class="c18" cx="828.3" cy="852.5" r="6.9"/>
<circle class="c12" cx="544.8" cy="368.3" r="6.9"/>
<circle class="c4" cx="957.0" cy="633.6" r="6.9"/>
<circle class="c12" cx="423.4" cy="548.2" r="6.9"/>
<circle class="c12" cx="339.2" cy="418.3" r="6.9"/>
<circle class="c19" cx="613.4" cy="1074.0" r="6.9"/>
<circle class="c12" cx="602.2" cy="573.4" r="6.9"/>
<circle class="c11" cx="573.7" cy="536.4" r="6.9"/>
<circle class="c9" cx="357.1" cy="743.2" r="6.9"/>
<circle class="c9" cx="439.0" cy="317.7" r="6.9"/>
<circle class="c14" cx="709.2" cy="288.2" r="6.9"/>
<circle class="c11" cx="376.2" cy="275.0" r="6.9"/>
<circle class="c13" cx="759.5" cy="468.8" r="6.9"/>
<circle class="c17" cx="596.9" cy="489.6" r="6.9"/>
<circle class="c17" cx="600.1" cy="861.1" r="6.9"/>
<circle class="c13" cx="641.1" cy="869.9" r="6.9"/>
<circle class="c10" cx="429.9" cy="394.2" r="6.9"/>
<circle class="c16" cx="854.3" cy="831.0" r="6.9"/>
<circle class="c21" cx="889.8" cy="497.5" r="6.9"/>
<circle class="c16" cx="849.3" cy="832.1" r="6.9"/>
<circle class="c14" cx="995.0" cy="818.9" r="6.9"/>
<circle class="c21" cx="596.6" cy="502.0" r="6.9"/>
<circle class="c10" cx="700.5" cy="713.3" r="6.9"/>
<circle class="c8" cx="962.7" cy="571.4" r="6.9"/>
<circle class="c10" cx="484.4" cy="255.1" r="6.9"/>
<circle class="c13" cx="686.7" cy="1068.4" r="6.9"/>
<circle class="c10" cx="553.7" cy="843.9" r="6.9"/>
<circle class="c9" cx="563.7" cy="309.7" r="6.9"/>
<circle class="c16" cx="350.5" cy="569.2" r="6.9"/>
<circle class="c15" cx="814.8" cy="922.8" r="6.9"/>
<circle class="c13" cx="836.7" cy="552.5" r="6.9"/>
<circle class="c7" cx="505.6" cy="320.8" r="6.9"/>
<circle class="c15" cx="889.5" cy="506.2" r="6.9"/>
<circle class="c4" cx="969.7" cy="666.4" r="6.9"/>
<circle class="c10" cx="490.7" cy="323.5" r="6.9"/>
<circle class="c14" cx="925.5" cy="420.1" r="6.9"/>
<circle class="c13" cx="638.6" cy="287.3" r="6.9"/>
<circle class="c15" cx="1028.3" cy="479.5" r="6.9"/>
<circle class="c11" cx="292.4" cy="474.2" r="6.9"/>
<circle class="c18" cx="606.6" cy="1056.4" r="6.9"/>
<circle class="c16" cx="604.8" cy="792.4" r="6.9"/>
<circle class="c10" cx="504.4" cy="467.8" r="6.9"/>
<circle class="c17" cx="837.2" cy="912.3" r="6.9"/>
<circle class="c13" cx="649.4" cy="237.4" r="6.9"/>
<circle class="c15" cx="688.6" cy="740.3" r="6.9"/>
<circle class="c6" cx="938.6" cy="681.5" r="6.9"/>
<circle class="c12" cx="378.3" cy="572.7" r="6.9"/>
<circle class="c16" cx="918.3" cy="899.9" r="6.9"/>
<circle class="c8" cx="418.5" cy="315.7" r="6.9"/>
<circle class="c11" cx="629.3" cy="255.0" r="6.9"/>
<circle class="c7" cx="557.2" cy="213.8" r="6.9"/>
<circle class="c11" cx="370.6" cy="248.0" r="6.9"/>
<circle class="c10" cx="461.2" cy="745.3" r="6.9"/>
<circle class="c16" cx="858.4" cy="395.3" r="6.9"/>
<circle class="c10" cx="690.6" cy="798.2" r="6.9"/>
<circle class="c12" cx="735.4" cy="429.7" r="6.9"/>
<circle class="c6" cx="411.6" cy="766.3" r="6.9"/>
<circle class="c18" cx="816.9" cy="324.6" r="6.9"/>
<circle class="c7" cx="398.0" cy="837.5" r="6.9"/>
<circle class="c11" cx="624.5" cy="704.6" r="6.9"/>
<circle class="c16" cx="629.6" cy="1032.8" r="6.9"/>
<circle class="c15" cx="861.3" cy="927.3" r="6.9"/>
<circle class="c12" cx="401.1" cy="334.5" r="6.9"/>
<circle class="c15" cx="984.4" cy="853.6" r="6.9"/>
<circle class="c16" cx="551.3" cy="1050.5" r="6.9"/>
<circle class="c9" cx="536.5" cy="320.1" r="6.9"/>
<circle class="c15" cx="629.5" cy="981.6" r="6.9"/>
<circle class="c16" cx="825.6" cy="806.9" r="6.9"/>
<circle class="c19" cx="862.1" cy="843.1" r="6.9"/>
<circle class="c6" cx="431.7" cy="781.3" r="6.9"/>
<circle class="c12" cx="521.1" cy="526.3" r="6.9"/>
<circle class="c9" cx="545.3" cy="530.8" r="6.9"/>
<circle class="c13" cx="733.5" cy="823.5" r="6.9"/>
<circle class="c10" cx="970.9" cy="290.9" r="6.9"/>
<circle class="c10" cx="663.9" cy="949.8" r="6.9"/>
<circle class="c14" cx="694.1" cy="946.4" r="6.9"/>
<circle class="c10" cx="631.2" cy="947.1" r="6.9"/>
<circle class="c12" cx="361.9" cy="558.3" r="6.9"/>
<circle class="c13" cx="871.9" cy="480.1" r="6.9"/>
<circle class="c8" cx="803.8" cy="717.0" r="6.9"/>
<circle class="c9" cx="415.3" cy="802.5" r="6.9"/>
<circle class="c18" cx="885.1" cy="414.2" r="6.9"/>
<circle class="c18" cx="850.9" cy="358.1" r="6.9"/>
<circle class="c14" cx="410.9" cy="322.3" r="6.9"/>
<circle class="c15" cx="719.0" cy="243.9" r="6.9"/>
<circle class="c8" cx="487.8" cy="368.4" r="6.9"/>
<circle class="c14" cx="765.5" cy="814.0" r="6.9"/>
<circle class="c8" cx="585.2" cy="300.9" r="6.9"/>
<circle class="c3" cx="945.6" cy="629.4" r="6.9"/>
<circle class="c17" cx="834.3" cy="804.1" r="6.9"/>
<circle class="c9" cx="413.1" cy="770.7" r="6.9"/>
<circle class="c16" cx="792.6" cy="810.4" r="6.9"/>
<circle class="c19" cx="504.2" cy="1000.2" r="6.9"/>
<circle class="c18" cx="574.6" cy="789.0" r="6.9"/>
<circle class="c17" cx="613.8" cy="400.2" r="6.9"/>
<circle class="c7" cx="516.5" cy="327.0" r="6.9"/>
<circle class="c9" cx="419.6" cy="802.3" r="6.9"/>
<circle class="c11" cx="358.2" cy="279.9" r="6.9"/>
<circle class="c18" cx="890.5" cy="424.1" r="6.9"/>
<circle class="c13" cx="611.4" cy="310.0" r="6.9"/>
<circle class="c10" cx="555.9" cy="873.0" r="6.9"/>
<circle class="c10" cx="401.0" cy="406.5" r="6.9"/>
<circle class="c10" cx="638.4" cy="724.4" r="6.9"/>
<circle class="c15" cx="593.4" cy="1011.5" r="6.9"/>
<circle class="c18" cx="1074.1" cy="353.8" r="6.9"/>
<circle class="c5" cx="947.2" cy="683.4" r="6.9"/>
<circle class="c7" cx="515.3" cy="745.6" r="6.9"/>
<circle class="c11" cx="442.5" cy="741.6" r="6.9"/>
<circle class="c18" cx="691.7" cy="1059.1" r="6.9"/>
<circle class="c11" cx="692.6" cy="246.8" r="6.9"/>
<circle class="c12" cx="663.2" cy="266.4" r="6.9"/>
<circle class="c12" cx="594.1" cy="897.2" r="6.9"/>
<circle class="c13" cx="770.4" cy="305.6" r="6.9"/>
<circle class="c9" cx="485.0" cy="708.0" r="6.9"/>
<circle class="c11" cx="347.0" cy="439.6" r="6.9"/>
<circle class="c5" cx="978.7" cy="651.2" r="6.9"/>
<circle class="c13" cx="400.0" cy="402.5" r="6.9"/>
<circle class="c12" cx="579.1" cy="312.4" r="6.9"/>
<circle class="c14" cx="971.1" cy="848.5" r="6.9"/>
<circle class="c13" cx="370.3" cy="348.9" r="6.9"/>
<circle class="c12" cx="535.7" cy="771.5" r="6.9"/>
<circle class="c18" cx="1002.1" cy="319.6" r="6.9"/>
<circle class="c16" cx="680.3" cy="283.4" r="6.9"/>
<circle class="c9" cx="763.4" cy="1031.3" r="6.9"/>
<circle class="c15" cx="895.2" cy="939.7" r="6.9"/>
<circle class="c11" cx="739.7" cy="675.2" r="6.9"/>
<circle class="c19" cx="1066.5" cy="473.9" r="6.9"/>
<circle class="c4" cx="875.6" cy="650.4" r="6.9"/>
<circle class="c7" cx="757.6" cy="561.3" r="6.9"/>
<circle class="c12" cx="842.8" cy="693.8" r="6.9"/>
<circle class="c9" cx="501.4" cy="752.1" r="6.9"/>
<circle class="c7" cx="346.3" cy="247.1" r="6.9"/>
<circle class="c15" cx="756.3" cy="757.7" r="6.9"/>
<circle class="c16" cx="841.5" cy="940.3" r="6.9"/>
<circle class="c10" cx="647.8" cy="945.5" r="6.9"/>
<circle class="c12" cx="475.0" cy="246.6" r="6.9"/>
<circle class="c6" cx="537.6" cy="935.0" r="6.9"/>
<circle class="c16" cx="1074.2" cy="499.1" r="6.9"/>
<circle class="c6" cx="859.5" cy="654.4" r="6.9"/>
<circle class="c10" cx="821.7" cy="754.3" r="6.9"/>
<circle class="c13" cx="501.7" cy="784.2" r="6.9"/>
<circle class="c13" cx="627.9" cy="832.6" r="6.9"/>
<circle class="c7" cx="356.7" cy="759.6" r="6.9"/>
<circle class="c11" cx="300.3" cy="443.8" r="6.9"/>
<circle class="c10" cx="332.8" cy="379.2" r="6.9"/>
<circle class="c11" cx="511.0" cy="256.9" r="6.9"/>
<circle class="c11" cx="812.6" cy="916.4" r="6.9"/>
<circle class="c7" cx="511.4" cy="695.1" r="6.9"/>
<circle class="c15" cx="682.3" cy="1011.8" r="6.9"/>
<circle class="c13" cx="700.9" cy="890.1" r="6.9"/>
<circle class="c17" cx="783.0" cy="426.7" r="6.9"/>
<circle class="c14" cx="961.4" cy="827.4" r="6.9"/>
<circle class="c6" cx="422.7" cy="247.3" r="6.9"/>
<circle class="c11" cx="755.5" cy="421.4" r="6.9"/>
<circle class="c18" cx="689.7" cy="962.1" r="6.9"/>
<circle class="c6" cx="399.0" cy="820.6" r="6.9"/>
<circle class="c8" cx="365.5" cy="513.2" r="6.9"/>
<circle class="c15" cx="756.9" cy="823.0" r="6.9"/>
<circle class="c11" cx="590.9" cy="988.9" r="6.9"/>
<circle class="c12" cx="586.0" cy="940.2" r="6.9"/>
<circle class="c7" cx="310.9" cy="491.7" r="6.9"/>
<circle class="c16" cx="604.1" cy="947.1" r="6.9"/>
<circle class="c13" cx="740.3" cy="631.3" r="6.9"/>
<circle class="c11" cx="355.7" cy="544.4" r="6.9"/>
<circle class="c8" cx="435.7" cy="719.0" r="6.9"/>
<circle class="c10" cx="322.7" cy="366.3" r="6.9"/>
<circle class="c12" cx="837.9" cy="557.5" r="6.9"/>
<circle class="c17" cx="579.8" cy="1074.7" r="6.9"/>
<circle class="c11" cx="395.7" cy="269.8" r="6.9"/>
<circle class="c8" cx="513.7" cy="359.6" r="6.9"/>
<circle class="c13" cx="811.5" cy="967.5" r="6.9"/>
<circle class="c15" cx="968.6" cy="429.8" r="6.9"/>
<circle class="c18" cx="589.4" cy="1066.4" r="6.9"/>
<circle class="c11" cx="615.3" cy="877.4" r="6.9"/>
<circle class="c12" cx="731.1" cy="230.8" r="6.9"/>
<circle class="c15" cx="588.3" cy="459.9" r="6.9"/>
<circle class="c9" cx="487.6" cy="284.0" r="6.9"/>
<circle class="c16" cx="861.1" cy="872.2" r="6.9"/>
<circle class="c17" cx="886.3" cy="501.2" r="6.9"/>
<circle class="c14" cx="716.7" cy="859.0" r="6.9"/>
<circle class="c11" cx="952.9" cy="278.9" r="6.9"/>
<circle class="c7" cx="359.7" cy="796.4" r="6.9"/>
<circle class="c9" cx="713.9" cy="779.6" r="6.9"/>
<circle class="c13" cx="855.0" cy="924.8" r="6.9"/>
<circle class="c12" cx="496.9" cy="782.4" r="6.9"/>
<circle class="c12" cx="292.7" cy="309.4" r="6.9"/>
<circle class="c9" cx="295.2" cy="306.2" r="6.9"/>
<circle class="c14" cx="818.6" cy="814.5" r="6.9"/>
<circle class="c12" cx="543.7" cy="300.8" r="6.9"/>
<circle class="c11" cx="473.7" cy="312.2" r="6.9"/>
<circle class="c8" cx="508.3" cy="912.5" r="6.9"/>
<circle class="c13" cx="586.2" cy="869.1" r="6.9"/>
<circle class="c8" cx="390.2" cy="454.8" r="6.9"/>
<circle class="c10" cx="460.2" cy="360.2" r="6.9"/>
<circle class="c13" cx="588.5" cy="875.8" r="6.9"/>
<circle class="c12" cx="467.0" cy="281.5" r="6.9"/>
<circle class="c12" cx="338.8" cy="335.5" r="6.9"/>
<circle class="c10" cx="638.5" cy="930.2" r="6.9"/>
<circle class="c13" cx="344.0" cy="413.1" r="6.9"/>
<circle class="c15" cx="1041.3" cy="327.9" r="6.9"/>
<circle class="c7" cx="386.4" cy="810.3" r="6.9"/>
<circle class="c12" cx="517.0" cy="516.5" r="6.9"/>
<circle class="c17" cx="756.6" cy="838.1" r="6.9"/>
<circle class="c11" cx="447.4" cy="345.2" r="6.9"/>
<circle class="c12" cx="666.5" cy="1066.4" r="6.9"/>
<circle class="c12" cx="584.0" cy="569.9" r="6.9"/>
<circle class="c15" cx="735.1" cy="648.7" r="6.9"/>
<circle class="c15" cx="945.4" cy="867.1" r="6.9"/>
<circle class="c10" cx="376.2" cy="520.6" r="6.9"/>
<circle class="c8" cx="498.5" cy="740.3" r="6.9"/>
<circle class="c13" cx="425.3" cy="331.5" r="6.9"/>
<circle class="c8" cx="593.3" cy="270.1" r="6.9"/>
<circle class="c7" cx="510.8" cy="264.9" r="6.9"/>
<circle class="c6" cx="676.0" cy="463.8" r="6.9"/>
<circle class="c10" cx="731.2" cy="313.7" r="6.9"/>
<circle class="c13" cx="361.1" cy="254.4" r="6.9"/>
<circle class="c13" cx="942.4" cy="827.8" r="6.9"/>
<circle class="c7" cx="730.2" cy="770.1" r="6.9"/>
<circle class="c9" cx="678.4" cy="978.2" r="6.9"/>
<circle class="c14" cx="517.4" cy="1032.4" r="6.9"/>
<circle class="c16" cx="693.6" cy="434.2" r="6.9"/>
<circle class="c9" cx="587.6" cy="925.9" r="6.9"/>
<circle class="c17" cx="976.5" cy="875.0" r="6.9"/>
<circle class="c10" cx="499.4" cy="233.2" r="6.9"/>
<circle class="c10" cx="481.6" cy="295.1" r="6.9"/>
<circle class="c18" cx="813.1" cy="980.3" r="6.9"/>
<circle class="c19" cx="518.7" cy="502.5" r="6.9"/>
<circle class="c10" cx="851.6" cy="597.0" r="6.9"/>
<circle class="c5" cx="453.1" cy="215.5" r="6.9"/>
<circle class="c10" cx="403.4" cy="376.5" r="6.9"/>
<circle class="c8" cx="739.7" cy="524.6" r="6.9"/>
<circle class="c8" cx="773.8" cy="625.8" r="6.9"/>
<circle class="c11" cx="352.7" cy="469.9" r="6.9"/>
<circle class="c14" cx="529.8" cy="776.7" r="6.9"/>
<circle class="c9" cx="743.1" cy="517.2" r="6.9"/>
<circle class="c9" cx="346.4" cy="795.2" r="6.9"/>
<circle class="c8" cx="352.9" cy="501.6" r="6.9"/>
<circle class="c12" cx="828.0" cy="773.0" r="6.9"/>
<circle class="c8" cx="652.0" cy="257.5" r="6.9"/>
<circle class="c11" cx="917.2" cy="856.3" r="6.9"/>
<circle class="c10" cx="550.8" cy="332.3" r="6.9"/>
<circle class="c13" cx="340.1" cy="293.6" r="6.9"/>
<circle class="c9" cx="541.2" cy="288.6" r="6.9"/>
<circle class="c9" cx="540.7" cy="322.3" r="6.9"/>
<circle class="c12" cx="470.4" cy="737.4" r="6.9"/>
<circle class="c14" cx="516.1" cy="1028.1" r="6.9"/>
<circle class="c16" cx="921.4" cy="917.5" r="6.9"/>
<circle class="c10" cx="506.8" cy="940.8" r="6.9"/>
<circle class="c12" cx="872.7" cy="349.8" r="6.9"/>
<circle class="c10" cx="431.2" cy="315.8" r="6.9"/>
<circle class="c7" cx="500.6" cy="709.9" r="6.9"/>
<circle class="c9" cx="866.4" cy="532.7" r="6.9"/>
<circle class="c17" cx="914.0" cy="497.3" r="6.9"/>
<circle class="c14" cx="336.4" cy="434.2" r="6.9"/>
<circle class="c21" cx="666.2" cy="1039.7" r="6.9"/>
<circle class="c8" cx="516.9" cy="922.4" r="6.9"/>
<circle class="c14" cx="1008.5" cy="459.1" r="6.9"/>
<circle class="c19" cx="589.1" cy="508.1" r="6.9"/>
<circle class="c18" cx="943.0" cy="422.9" r="6.9"/>
<circle class="c15" cx="657.8" cy="1024.6" r="6.9"/>
<circle class="c14" cx="920.3" cy="293.9" r="6.9"/>
<circle class="c16" cx="614.0" cy="439.0" r="6.9"/>
<circle class="c14" cx="982.5" cy="847.6" r="6.9"/>
<circle class="c13" cx="985.4" cy="295.6" r="6.9"/>
<circle class="c11" cx="661.1" cy="684.3" r="6.9"/>
<circle class="c10" cx="499.3" cy="210.7" r="6.9"/>
<circle class="c11" cx="559.3" cy="890.5" r="6.9"/>
<circle class="c9" cx="386.3" cy="518.5" r="6.9"/>
<circle class="c9" cx="801.8" cy="636.1" r="6.9"/>
<circle class="c12" cx="537.4" cy="780.3" r="6.9"/>
<circle class="c8" cx="775.2" cy="540.6" r="6.9"/>
<circle class="c14" cx="321.6" cy="485.2" r="6.9"/>
<circle class="c7" cx="389.7" cy="827.9" r="6.9"/>
<circle class="c14" cx="968.7" cy="422.2" r="6.9"/>
<circle class="c13" cx="696.5" cy="263.0" r="6.9"/>
<circle class="c14" cx="694.2" cy="1038.2" r="6.9"/>
<circle class="c13" cx="799.7" cy="313.5" r="6.9"/>
<circle class="c10" cx="386.6" cy="360.7" r="6.9"/>
<circle class="c17" cx="693.8" cy="681.7" r="6.9"/>
<circle class="c13" cx="980.7" cy="783.8" r="6.9"/>
<circle class="c19" cx="1059.7" cy="377.7" r="6.9"/>
<circle class="c16" cx="341.4" cy="338.8" r="6.9"/>
<circle class="c17" cx="797.6" cy="926.5" r="6.9"/>
<circle class="c11" cx="560.3" cy="264.8" r="6.9"/>
<circle class="c16" cx="893.0" cy="593.6" r="6.9"/>
<circle class="c13" cx="889.6" cy="876.4" r="6.9"/>
<circle class="c15" cx="824.4" cy="949.6" r="6.9"/>
<circle class="c7" cx="519.2" cy="752.5" r="6.9"/>
<circle class="c8" cx="821.7" cy="590.0" r="6.9"/>
<circle class="c3" cx="970.6" cy="652.5" r="6.9"/>
<circle class="c9" cx="788.3" cy="617.4" r="6.9"/>
<circle class="c12" cx="534.9" cy="944.5" r="6.9"/>
<circle class="c12" cx="392.8" cy="351.2" r="6.9"/>
<circle class="c14" cx="605.1" cy="408.2" r="6.9"/>
<circle class="c15" cx="327.1" cy="366.9" r="6.9"/>
<circle class="c18" cx="736.9" cy="1042.6" r="6.9"/>
<circle class="c9" cx="551.0" cy="351.3" r="6.9"/>
<circle class="c15" cx="798.4" cy="752.6" r="6.9"/>
<circle class="c12" cx="611.0" cy="571.9" r="6.9"/>
<circle class="c12" cx="358.2" cy="389.5" r="6.9"/>
<circle class="c9" cx="863.3" cy="572.7" r="6.9"/>
<circle class="c13" cx="705.1" cy="892.8" r="6.9"/>
<circle class="c12" cx="420.9" cy="275.8" r="6.9"/>
<circle class="c17" cx="1029.0" cy="321.7" r="6.9"/>
<circle class="c11" cx="407.0" cy="420.4" r="6.9"/>
<circle class="c12" cx="626.2" cy="857.2" r="6.9"/>
<circle class="c15" cx="585.8" cy="887.6" r="6.9"/>
<circle class="c9" cx="671.2" cy="247.1" r="6.9"/>
<circle class="c9" cx="773.7" cy="485.8" r="6.9"/>
<circle class="c15" cx="590.1" cy="403.6" r="6.9"/>
<circle class="c12" cx="798.4" cy="763.1" r="6.9"/>
<circle class="c14" cx="567.8" cy="918.4" r="6.9"/>
<circle class="c15" cx="637.5" cy="464.2" r="6.9"/>
<circle class="c7" cx="848.3" cy="719.2" r="6.9"/>
<circle class="c14" cx="535.3" cy="472.3" r="6.9"/>
<circle class="c13" cx="288.7" cy="325.8" r="6.9"/>
<circle class="c13" cx="305.3" cy="472.3" r="6.9"/>
<circle class="c13" cx="560.2" cy="1016.8" r="6.9"/>
<circle class="c16" cx="921.8" cy="546.5" r="6.9"/>
<circle class="c9" cx="299.4" cy="345.8" r="6.9"/>
<circle class="c8" cx="499.5" cy="759.0" r="6.9"/>
<circle class="c8" cx="407.9" cy="406.2" r="6.9"/>
<circle class="c17" cx="734.2" cy="806.5" r="6.9"/>
<circle class="c8" cx="601.8" cy="320.3" r="6.9"/>
<circle class="c19" cx="881.7" cy="409.8" r="6.9"/>
<circle class="c15" cx="990.7" cy="813.3" r="6.9"/>
<circle class="c13" cx="308.0" cy="379.1" r="6.9"/>
<circle class="c3" cx="895.7" cy="649.4" r="6.9"/>
<circle class="c8" cx="678.8" cy="782.7" r="6.9"/>
<circle class="c12" cx="435.2" cy="284.6" r="6.9"/>
<circle class="c7" cx="531.8" cy="916.4" r="6.9"/>
<circle class="c12" cx="696.0" cy="278.6" r="6.9"/>
<circle class="c11" cx="534.2" cy="462.0" r="6.9"/>
<circle class="c11" cx="688.5" cy="884.5" r="6.9"/>
<circle class="c11" cx="377.2" cy="558.6" r="6.9"/>
<circle class="c11" cx="598.7" cy="276.9" r="6.9"/>
<circle class="c13" cx="443.8" cy="235.2" r="6.9"/>
<circle class="c15" cx="819.2" cy="295.5" r="6.9"/>
<circle class="c14" cx="589.5" cy="853.6" r="6.9"/>
<circle class="c19" cx="892.6" cy="370.9" r="6.9"/>
<circle class="c10" cx="676.1" cy="218.6" r="6.9"/>
<circle class="c8" cx="568.8" cy="296.1" r="6.9"/>
<circle class="c12" cx="609.4" cy="487.5" r="6.9"/>
<circle class="c13" cx="522.1" cy="499.7" r="6.9"/>
<circle class="c12" cx="606.0" cy="262.6" r="6.9"/>
<circle class="c16" cx="722.7" cy="428.5" r="6.9"/>
<circle class="c8" cx="630.9" cy="259.7" r="6.9"/>
<circle class="c9" cx="462.8" cy="304.5" r="6.9"/>
<circle class="c9" cx="656.3" cy="857.2" r="6.9"/>
<circle class="c16" cx="579.0" cy="485.0" r="6.9"/>
<circle class="c11" cx="507.5" cy="932.6" r="6.9"/>
<circle class="c11" cx="952.5" cy="880.5" r="6.9"/>
<circle class="c11" cx="429.4" cy="365.0" r="6.9"/>
<circle class="c15" cx="926.8" cy="400.2" r="6.9"/>
<circle class="c12" cx="348.3" cy="377.1" r="6.9"/>
<circle class="c12" cx="509.0" cy="503.9" r="6.9"/>
<circle class="c12" cx="765.1" cy="631.0" r="6.9"/>
<circle class="c15" cx="763.7" cy="321.6" r="6.9"/>
<circle class="c14" cx="685.2" cy="660.2" r="6.9"/>
<circle class="c10" cx="484.1" cy="357.0" r="6.9"/>
<circle class="c7" cx="687.1" cy="462.1" r="6.9"/>
<circle class="c10" cx="390.0" cy="833.4" r="6.9"/>
<circle class="c9" cx="517.7" cy="916.7" r="6.9"/>
<circle class="c16" cx="993.3" cy="447.1" r="6.9"/>
<circle class="c11" cx="346.4" cy="373.5" r="6.9"/>
<circle class="c16" cx="998.2" cy="476.9" r="6.9"/>
<circle class="c12" cx="532.2" cy="273.6" r="6.9"/>
<circle class="c13" cx="647.9" cy="291.7" r="6.9"/>
<circle class="c12" cx="862.3" cy="856.9" r="6.9"/>
<circle class="c21" cx="616.1" cy="447.4" r="6.9"/>
<circle class="c10" cx="428.9" cy="235.6" r="6.9"/>
<circle class="c14" cx="574.5" cy="461.5" r="6.9"/>
<circle class="c14" cx="551.8" cy="447.8" r="6.9"/>
<circle class="c12" cx="583.6" cy="1062.1" r="6.9"/>
<circle class="c13" cx="773.5" cy="268.0" r="6.9"/>
<circle class="c10" cx="589.5" cy="961.7" r="6.9"/>
<circle class="c16" cx="664.0" cy="1079.0" r="6.9"/>
<circle class="c16" cx="627.4" cy="439.3" r="6.9"/>
<circle class="c13" cx="524.2" cy="559.0" r="6.9"/>
<circle class="c13" cx="735.1" cy="796.1" r="6.9"/>
<circle class="c14" cx="408.5" cy="279.2" r="6.9"/>
<circle class="c9" cx="855.9" cy="437.9" r="6.9"/>
<circle class="c15" cx="646.3" cy="264.3" r="6.9"/>
<circle class="c9" cx="519.6" cy="229.1" r="6.9"/>
<circle class="c8" cx="418.5" cy="777.3" r="6.9"/>
<circle class="c15" cx="772.6" cy="884.9" r="6.9"/>
<circle class="c18" cx="888.5" cy="516.6" r="6.9"/>
<circle class="c8" cx="342.0" cy="794.3" r="6.9"/>
<circle class="c11" cx="407.4" cy="533.6" r="6.9"/>
<circle class="c9" cx="495.1" cy="929.5" r="6.9"/>
<circle class="c13" cx="851.7" cy="500.0" r="6.9"/>
<circle class="c16" cx="829.8" cy="427.7" r="6.9"/>
<circle class="c8" cx="343.3" cy="444.0" r="6.9"/>
<circle class="c8" cx="506.2" cy="694.1" r="6.9"/>
<circle class="c18" cx="751.6" cy="297.5" r="6.9"/>
<circle class="c11" cx="323.4" cy="507.1" r="6.9"/>
<circle class="c14" cx="810.9" cy="831.9" r="6.9"/>
<circle class="c11" cx="560.8" cy="412.3" r="6.9"/>
<circle class="c11" cx="857.3" cy="907.2" r="6.9"/>
<circle class="c16" cx="939.9" cy="433.9" r="6.9"/>
<circle class="c15" cx="998.3" cy="442.2" r="6.9"/>
<circle class="c14" cx="557.7" cy="1057.5" r="6.9"/>
<circle class="c13" cx="747.9" cy="1035.4" r="6.9"/>
<circle class="c12" cx="363.8" cy="440.3" r="6.9"/>
<circle class="c18" cx="583.9" cy="512.4" r="6.9"/>
<circle class="c10" cx="311.8" cy="442.2" r="6.9"/>
<circle class="c19" cx="811.1" cy="820.1" r="6.9"/>
<circle class="c9" cx="587.0" cy="290.8" r="6.9"/>
<circle class="c10" cx="844.4" cy="704.7" r="6.9"/>
<circle class="c14" cx="623.3" cy="697.3" r="6.9"/>
<circle class="c12" cx="421.0" cy="287.6" r="6.9"/>
<circle class="c12" cx="571.6" cy="768.6" r="6.9"/>
<circle class="c10" cx="294.5" cy="492.3" r="6.9"/>
<circle class="c10" cx="666.7" cy="469.2" r="6.9"/>
<circle class="c15" cx="671.5" cy="451.4" r="6.9"/>
<circle class="c14" cx="912.3" cy="283.3" r="6.9"/>
<circle class="c13" cx="488.4" cy="941.0" r="6.9"/>
<circle class="c5" cx="482.7" cy="956.3" r="6.9"/>
<circle class="c9" cx="349.2" cy="454.8" r="6.9"/>
<circle class="c6" cx="958.7" cy="643.2" r="6.9"/>
<circle class="c8" cx="576.0" cy="246.8" r="6.9"/>
<circle class="c17" cx="911.3" cy="819.6" r="6.9"/>
<circle class="c12" cx="601.6" cy="867.5" r="6.9"/>
<circle class="c13" cx="636.1" cy="748.6" r="6.9"/>
<circle class="c19" cx="917.7" cy="524.5" r="6.9"/>
<circle class="c13" cx="766.6" cy="881.9" r="6.9"/>
<circle class="c17" cx="978.9" cy="829.6" r="6.9"/>
<circle class="c12" cx="326.6" cy="515.1" r="6.9"/>
<circle class="c11" cx="765.2" cy="868.6" r="6.9"/>
<circle class="c14" cx="625.3" cy="209.2" r="6.9"/>
<circle class="c15" cx="843.0" cy="877.1" r="6.9"/>
<circle class="c16" cx="966.8" cy="302.5" r="6.9"/>
<circle class="c11" cx="406.6" cy="415.6" r="6.9"/>
<circle class="c16" cx="899.3" cy="368.3" r="6.9"/>
<circle class="c16" cx="824.4" cy="891.9" r="6.9"/>
<circle class="c5" cx="926.5" cy="651.1" r="6.9"/>
<circle class="c11" cx="366.6" cy="294.8" r="6.9"/>
<circle class="c11" cx="501.6" cy="338.9" r="6.9"/>
<circle class="c11" cx="322.7" cy="433.9" r="6.9"/>
<circle class="c14" cx="861.8" cy="436.2" r="6.9"/>
<circle class="c11" cx="423.0" cy="367.5" r="6.9"/>
<circle class="c18" cx="862.9" cy="829.6" r="6.9"/>
<circle class="c17" cx="769.7" cy="888.5" r="6.9"/>
<circle class="c7" cx="369.9" cy="797.0" r="6.9"/>
<circle class="c16" cx="862.2" cy="899.3" r="6.9"/>
<circle class="c8" cx="372.6" cy="735.9" r="6.9"/>
<circle class="c9" cx="686.8" cy="468.2" r="6.9"/>
<circle class="c14" cx="978.6" cy="498.5" r="6.9"/>
<circle class="c15" cx="739.1" cy="684.3" r="6.9"/>
<circle class="c15" cx="599.5" cy="699.0" r="6.9"/>
<circle class="c4" cx="900.5" cy="676.1" r="6.9"/>
<circle class="c12" cx="356.0" cy="382.8" r="6.9"/>
<circle class="c12" cx="657.0" cy="307.6" r="6.9"/>
<circle class="c10" cx="539.0" cy="306.5" r="6.9"/>
<circle class="c15" cx="856.1" cy="824.6" r="6.9"/>
<circle class="c12" cx="504.4" cy="788.0" r="6.9"/>
<circle class="c13" cx="373.7" cy="352.5" r="6.9"/>
<circle class="c17" cx="862.0" cy="888.5" r="6.9"/>
<circle class="c11" cx="617.4" cy="835.6" r="6.9"/>
<circle class="c6" cx="578.7" cy="243.4" r="6.9"/>
<circle class="c14" cx="589.3" cy="532.6" r="6.9"/>
<circle class="c8" cx="412.8" cy="702.7" r="6.9"/>
<circle class="c14" cx="549.1" cy="842.2" r="6.9"/>
<circle class="c18" cx="900.4" cy="853.3" r="6.9"/>
<circle class="c15" cx="680.6" cy="939.2" r="6.9"/>
<circle class="c8" cx="923.0" cy="593.9" r="6.9"/>
<circle class="c8" cx="755.3" cy="545.0" r="6.9"/>
<circle class="c9" cx="703.5" cy="782.5" r="6.9"/>
<circle class="c12" cx="441.0" cy="223.2" r="6.9"/>
<circle class="c9" cx="757.3" cy="697.5" r="6.9"/>
<circle class="c11" cx="637.2" cy="992.6" r="6.9"/>
<circle class="c11" cx="391.4" cy="484.9" r="6.9"/>
<circle class="c17" cx="564.0" cy="478.3" r="6.9"/>
<circle class="c9" cx="358.8" cy="837.4" r="6.9"/>
<circle class="c10" cx="629.0" cy="214.6" r="6.9"/>
<circle class="c14" cx="502.0" cy="986.7" r="6.9"/>
<circle class="c15" cx="812.8" cy="342.3" r="6.9"/>
<circle class="c11" cx="795.0" cy="748.9" r="6.9"/>
<circle class="c16" cx="706.5" cy="1031.1" r="6.9"/>
<circle class="c13" cx="918.5" cy="429.4" r="6.9"/>
<circle class="c13" cx="492.3" cy="988.0" r="6.9"/>
<circle class="c11" cx="779.8" cy="332.0" r="6.9"/>
<circle class="c14" cx="986.8" cy="815.7" r="6.9"/>
<circle class="c9" cx="740.6" cy="486.6" r="6.9"/>
<circle class="c11" cx="597.4" cy="912.1" r="6.9"/>
<circle class="c13" cx="625.8" cy="264.8" r="6.9"/>
<circle class="c11" cx="554.8" cy="310.3" r="6.9"/>
<circle class="c10" cx="344.2" cy="266.4" r="6.9"/>
<circle class="c2" cx="891.6" cy="694.1" r="6.9"/>
<circle class="c13" cx="770.6" cy="258.1" r="6.9"/>
<circle class="c11" cx="367.0" cy="354.7" r="6.9"/>
<circle class="c13" cx="541.5" cy="776.2" r="6.9"/>
<circle class="c7" cx="770.7" cy="526.8" r="6.9"/>
<circle class="c19" cx="619.9" cy="486.4" r="6.9"/>
<circle class="c14" cx="643.1" cy="438.4" r="6.9"/>
<circle class="c10" cx="483.1" cy="926.3" r="6.9"/>
<circle class="c10" cx="619.0" cy="206.2" r="6.9"/>
<circle class="c15" cx="1021.7" cy="301.4" r="6.9"/>
<circle class="c10" cx="354.0" cy="554.3" r="6.9"/>
<circle class="c8" cx="577.1" cy="953.2" r="6.9"/>
<circle class="c14" cx="984.2" cy="866.8" r="6.9"/>
<circle class="c17" cx="859.2" cy="895.8" r="6.9"/>
<circle class="c14" cx="564.7" cy="1022.6" r="6.9"/>
<circle class="c9" cx="459.3" cy="300.2" r="6.9"/>
<circle class="c10" cx="855.6" cy="588.2" r="6.9"/>
<circle class="c14" cx="393.0" cy="464.0" r="6.9"/>
<circle class="c12" cx="779.3" cy="451.0" r="6.9"/>
<circle class="c12" cx="544.7" cy="1044.8" r="6.9"/>
<circle class="c12" cx="347.0" cy="543.6" r="6.9"/>
<circle class="c9" cx="425.3" cy="772.0" r="6.9"/>
<circle class="c9" cx="295.9" cy="439.5" r="6.9"/>
<circle class="c12" cx="853.1" cy="724.5" r="6.9"/>
<circle class="c11" cx="989.9" cy="468.6" r="6.9"/>
<circle class="c15" cx="749.8" cy="872.5" r="6.9"/>
<circle class="c11" cx="422.3" cy="252.9" r="6.9"/>
<circle class="c18" cx="521.6" cy="1017.5" r="6.9"/>
<circle class="c13" cx="500.4" cy="501.7" r="6.9"/>
<circle class="c10" cx="505.7" cy="203.5" r="6.9"/>
<circle class="c12" cx="581.1" cy="937.4" r="6.9"/>
<circle class="c12" cx="483.9" cy="262.0" r="6.9"/>
<circle class="c12" cx="915.3" cy="827.2" r="6.9"/>
<circle class="c11" cx="632.4" cy="740.7" r="6.9"/>
<circle class="c11" cx="303.7" cy="353.1" r="6.9"/>
<circle class="c18" cx="922.7" cy="827.9" r="6.9"/>
<circle class="c11" cx="381.4" cy="351.9" r="6.9"/>
<circle class="c15" cx="836.0" cy="847.9" r="6.9"/>
<circle class="c8" cx="601.8" cy="230.2" r="6.9"/>
<circle class="c14" cx="378.0" cy="270.5" r="6.9"/>
<circle class="c10" cx="943.3" cy="805.5" r="6.9"/>
<circle class="c11" cx="683.4" cy="843.3" r="6.9"/>
<circle class="c9" cx="375.2" cy="765.7" r="6.9"/>
<circle class="c8" cx="394.3" cy="478.0" r="6.9"/>
<circle class="c5" cx="870.6" cy="630.5" r="6.9"/>
<circle class="c12" cx="617.4" cy="760.4" r="6.9"/>
<circle class="c7" cx="561.6" cy="936.2" r="6.9"/>
<circle class="c11" cx="630.2" cy="725.9" r="6.9"/>
<circle class="c18" cx="789.2" cy="432.4" r="6.9"/>
<circle class="c17" cx="663.2" cy="1019.9" r="6.9"/>
<circle class="c11" cx="379.4" cy="389.4" r="6.9"/>
<circle class="c7" cx="397.7" cy="743.6" r="6.9"/>
<circle class="c10" cx="645.2" cy="704.4" r="6.9"/>
<circle class="c4" cx="933.0" cy="678.9" r="6.9"/>
<circle class="c11" cx="475.4" cy="335.9" r="6.9"/>
<circle class="c10" cx="713.2" cy="882.8" r="6.9"/>
<circle class="c15" cx="715.4" cy="663.3" r="6.9"/>
<circle class="c6" cx="549.2" cy="570.6" r="6.9"/>
<circle class="c9" cx="484.3" cy="280.8" r="6.9"/>
<circle class="c12" cx="729.0" cy="438.9" r="6.9"/>
<circle class="c10" cx="705.2" cy="261.6" r="6.9"/>
<circle class="c6" cx="419.9" cy="227.6" r="6.9"/>
<circle class="c16" cx="801.2" cy="792.6" r="6.9"/>
<circle class="c15" cx="403.0" cy="281.5" r="6.9"/>
<circle class="c13" cx="368.8" cy="416.7" r="6.9"/>
<circle class="c12" cx="336.0" cy="406.8" r="6.9"/>
<circle class="c8" cx="536.0" cy="224.7" r="6.9"/>
<circle class="c13" cx="559.6" cy="472.6" r="6.9"/>
<circle class="c12" cx="803.0" cy="936.6" r="6.9"/>
<circle class="c8" cx="472.6" cy="239.8" r="6.9"/>
<circle class="c11" cx="707.2" cy="1069.5" r="6.9"/>
<circle class="c16" cx="922.5" cy="394.1" r="6.9"/>
<circle class="c14" cx="785.4" cy="879.5" r="6.9"/>
<circle class="c10" cx="436.5" cy="224.5" r="6.9"/>
<circle class="c15" cx="1011.5" cy="275.4" r="6.9"/>
<circle class="c18" cx="990.4" cy="259.3" r="6.9"/>
<circle class="c9" cx="383.6" cy="533.4" r="6.9"/>
<circle class="c13" cx="326.6" cy="413.8" r="6.9"/>
<circle class="c17" cx="867.3" cy="439.9" r="6.9"/>
<circle class="c15" cx="619.2" cy="1003.5" r="6.9"/>
<circle class="c18" cx="679.0" cy="440.7" r="6.9"/>
<circle class="c16" cx="828.9" cy="307.6" r="6.9"/>
<circle class="c18" cx="560.8" cy="494.1" r="6.9"/>
<circle class="c5" cx="470.5" cy="691.1" r="6.9"/>
<circle class="c15" cx="1018.1" cy="467.3" r="6.9"/>
<circle class="c10" cx="359.9" cy="449.1" r="6.9"/>
<circle class="c19" cx="1092.6" cy="489.5" r="6.9"/>
<circle class="c8" cx="479.6" cy="933.5" r="6.9"/>
<circle class="c7" cx="476.2" cy="735.7" r="6.9"/>
<circle class="c12" cx="631.8" cy="756.4" r="6.9"/>
<circle class="c15" cx="376.0" cy="286.8" r="6.9"/>
<circle class="c11" cx="606.8" cy="938.9" r="6.9"/>
<circle class="c17" cx="678.3" cy="1013.5" r="6.9"/>
<circle class="c15" cx="387.1" cy="577.6" r="6.9"/>
<circle class="c11" cx="884.2" cy="586.1" r="6.9"/>
<circle class="c9" cx="964.5" cy="292.8" r="6.9"/>
<circle class="c6" cx="505.5" cy="715.0" r="6.9"/>
<circle class="c10" cx="392.4" cy="544.6" r="6.9"/>
<circle class="c9" cx="531.2" cy="211.2" r="6.9"/>
<circle class="c10" cx="572.5" cy="960.6" r="6.9"/>
<circle class="c17" cx="1069.4" cy="356.0" r="6.9"/>
<circle class="c12" cx="492.4" cy="884.0" r="6.9"/>
<circle class="c10" cx="633.6" cy="507.6" r="6.9"/>
<circle class="c11" cx="545.6" cy="292.0" r="6.9"/>
<circle class="c14" cx="749.5" cy="435.3" r="6.9"/>
<circle class="c12" cx="716.2" cy="839.9" r="6.9"/>
<circle class="c18" cx="864.2" cy="508.4" r="6.9"/>
<circle class="c10" cx="391.3" cy="325.8" r="6.9"/>
<circle class="c11" cx="568.9" cy="302.1" r="6.9"/>
<circle class="c16" cx="932.3" cy="863.0" r="6.9"/>
<circle class="c17" cx="1037.0" cy="283.6" r="6.9"/>
<circle class="c7" cx="833.0" cy="706.1" r="6.9"/>
<circle class="c14" cx="737.7" cy="446.4" r="6.9"/>
<circle class="c16" cx="671.3" cy="998.6" r="6.9"/>
<circle class="c14" cx="713.8" cy="824.6" r="6.9"/>
<circle class="c13" cx="806.1" cy="969.0" r="6.9"/>
<circle class="c14" cx="726.4" cy="799.7" r="6.9"/>
<circle class="c10" cx="319.1" cy="388.3" r="6.9"/>
<circle class="c14" cx="933.3" cy="908.6" r="6.9"/>
<circle class="c16" cx="585.6" cy="503.1" r="6.9"/>
<circle class="c12" cx="687.3" cy="682.8" r="6.9"/>
<circle class="c14" cx="659.9" cy="475.1" r="6.9"/>
<circle class="c7" cx="485.2" cy="315.7" r="6.9"/>
<circle class="c19" cx="901.6" cy="502.8" r="6.9"/>
<circle class="c11" cx="556.0" cy="988.8" r="6.9"/>
<circle class="c12" cx="835.5" cy="779.7" r="6.9"/>
<circle class="c9" cx="567.5" cy="287.9" r="6.9"/>
<circle class="c6" cx="920.5" cy="642.1" r="6.9"/>
<circle class="c13" cx="776.3" cy="879.4" r="6.9"/>
<circle class="c9" cx="575.7" cy="258.4" r="6.9"/>
<circle class="c12" cx="612.3" cy="748.7" r="6.9"/>
<circle class="c8" cx="650.4" cy="834.9" r="6.9"/>
<circle class="c10" cx="628.8" cy="721.7" r="6.9"/>
<circle class="c17" cx="691.1" cy="1076.5" r="6.9"/>
<circle class="c14" cx="627.1" cy="931.4" r="6.9"/>
<circle class="c12" cx="476.2" cy="322.3" r="6.9"/>
<circle class="c14" cx="726.1" cy="776.2" r="6.9"/>
<circle class="c10" cx="364.6" cy="496.8" r="6.9"/>
<circle class="c6" cx="557.5" cy="303.3" r="6.9"/>
<circle class="c8" cx="447.6" cy="277.2" r="6.9"/>
<circle class="c13" cx="930.1" cy="882.4" r="6.9"/>
<circle class="c6" cx="378.5" cy="830.2" r="6.9"/>
<circle class="c11" cx="553.7" cy="282.6" r="6.9"/>
<circle class="c11" cx="320.7" cy="422.0" r="6.9"/>
<circle class="c15" cx="594.8" cy="793.9" r="6.9"/>
<circle class="c9" cx="353.0" cy="508.8" r="6.9"/>
<circle class="c7" cx="408.3" cy="814.7" r="6.9"/>
<circle class="c11" cx="851.3" cy="815.7" r="6.9"/>
<circle class="c16" cx="961.5" cy="484.9" r="6.9"/>
<circle class="c17" cx="741.5" cy="432.3" r="6.9"/>
<circle class="c14" cx="555.1" cy="520.9" r="6.9"/>
<circle class="c10" cx="526.3" cy="267.8" r="6.9"/>
<circle class="c17" cx="529.1" cy="1013.7" r="6.9"/>
<circle class="c9" cx="343.3" cy="758.2" r="6.9"/>
<circle class="c9" cx="643.6" cy="820.8" r="6.9"/>
<circle class="c7" cx="787.0" cy="724.2" r="6.9"/>
<circle class="c16" cx="920.8" cy="405.0" r="6.9"/>
<circle class="c4" cx="917.6" cy="665.8" r="6.9"/>
<circle class="c16" cx="847.2" cy="917.1" r="6.9"/>
<circle class="c15" cx="596.4" cy="880.8" r="6.9"/>
<circle class="c14" cx="572.1" cy="518.7" r="6.9"/>
<circle class="c17" cx="626.2" cy="764.6" r="6.9"/>
<circle class="c5" cx="519.6" cy="934.5" r="6.9"/>
<circle class="c11" cx="562.3" cy="962.9" r="6.9"/>
<circle class="c16" cx="688.7" cy="851.3" r="6.9"/>
<circle class="c10" cx="579.2" cy="409.9" r="6.9"/>
<circle class="c15" cx="737.8" cy="625.9" r="6.9"/>
<circle class="c9" cx="779.4" cy="312.7" r="6.9"/>
<circle class="c7" cx="489.6" cy="267.5" r="6.9"/>
<circle class="c14" cx="888.3" cy="819.2" r="6.9"/>
<circle class="c8" cx="397.2" cy="366.0" r="6.9"/>
<circle class="c8" cx="787.8" cy="450.5" r="6.9"/>
<circle class="c10" cx="668.5" cy="923.5" r="6.9"/>
<circle class="c8" cx="874.9" cy="537.7" r="6.9"/>
<circle class="c10" cx="852.4" cy="582.6" r="6.9"/>
<circle class="c12" cx="606.0" cy="740.9" r="6.9"/>
<circle class="c14" cx="741.8" cy="1032.2" r="6.9"/>
<circle class="c14" cx="383.7" cy="337.6" r="6.9"/>
<circle class="c11" cx="583.3" cy="1046.6" r="6.9"/>
<circle class="c10" cx="536.8" cy="868.3" r="6.9"/>
<circle class="c15" cx="671.7" cy="1072.6" r="6.9"/>
<circle class="c11" cx="330.2" cy="536.7" r="6.9"/>
<circle class="c11" cx="385.1" cy="546.4" r="6.9"/>
<circle class="c18" cx="639.9" cy="1013.0" r="6.9"/>
<circle class="c4" cx="981.7" cy="662.5" r="6.9"/>
<circle class="c18" cx="629.2" cy="292.8" r="6.9"/>
<circle class="c13" cx="428.0" cy="277.6" r="6.9"/>
<circle class="c17" cx="887.4" cy="795.3" r="6.9"/>
<circle class="c9" cx="470.8" cy="716.2" r="6.9"/>
<circle class="c14" cx="729.8" cy="828.0" r="6.9"/>
<circle class="c19" cx="1084.5" cy="482.7" r="6.9"/>
<circle class="c13" cx="749.5" cy="426.3" r="6.9"/>
<circle class="c20" cx="764.7" cy="417.2" r="6.9"/>
<circle class="c17" cx="670.3" cy="1023.2" r="6.9"/>
<circle class="c5" cx="514.6" cy="932.8" r="6.9"/>
<circle class="c11" cx="639.8" cy="861.4" r="6.9"/>
<circle class="c18" cx="844.8" cy="890.7" r="6.9"/>
<circle class="c10" cx="437.7" cy="724.0" r="6.9"/>
<circle class="c13" cx="676.1" cy="684.4" r="6.9"/>
<circle class="c12" cx="356.2" cy="410.1" r="6.9"/>
<circle class="c14" cx="897.8" cy="792.2" r="6.9"/>
<circle class="c15" cx="939.5" cy="279.2" r="6.9"/>
<circle class="c11" cx="489.8" cy="248.5" r="6.9"/>
<circle class="c3" cx="975.4" cy="641.6" r="6.9"/>
<circle class="c13" cx="919.6" cy="387.0" r="6.9"/>
<circle class="c7" cx="376.9" cy="734.8" r="6.9"/>
<circle class="c6" cx="534.3" cy="206.0" r="6.9"/>
<circle class="c15" cx="729.9" cy="724.8" r="6.9"/>
<circle class="c14" cx="372.7" cy="327.7" r="6.9"/>
<circle class="c7" cx="474.4" cy="689.2" r="6.9"/>
<circle class="c12" cx="581.0" cy="964.2" r="6.9"/>
<circle class="c7" cx="546.5" cy="256.0" r="6.9"/>
<circle class="c16" cx="981.2" cy="440.6" r="6.9"/>
<circle class="c11" cx="783.1" cy="755.9" r="6.9"/>
<circle class="c13" cx="346.0" cy="473.6" r="6.9"/>
<circle class="c6" cx="744.6" cy="530.6" r="6.9"/>
<circle class="c7" cx="953.9" cy="577.3" r="6.9"/>
<circle class="c18" cx="599.4" cy="467.2" r="6.9"/>
<circle class="c16" cx="552.7" cy="830.8" r="6.9"/>
<circle class="c19" cx="947.8" cy="284.5" r="6.9"/>
<circle class="c12" cx="635.0" cy="770.8" r="6.9"/>
<circle class="c15" cx="995.0" cy="473.8" r="6.9"/>
<circle class="c13" cx="775.8" cy="860.8" r="6.9"/>
<circle class="c9" cx="779.8" cy="732.1" r="6.9"/>
<circle class="c11" cx="277.0" cy="390.1" r="6.9"/>
<circle class="c8" cx="853.5" cy="576.1" r="6.9"/>
<circle class="c8" cx="560.4" cy="329.6" r="6.9"/>
<circle class="c13" cx="1034.3" cy="807.9" r="6.9"/>
<circle class="c14" cx="501.2" cy="274.7" r="6.9"/>
<circle class="c8" cx="777.8" cy="546.0" r="6.9"/>
<circle class="c5" cx="950.1" cy="673.4" r="6.9"/>
<circle class="c12" cx="636.1" cy="1009.3" r="6.9"/>
<circle class="c10" cx="596.0" cy="227.0" r="6.9"/>
<circle class="c12" cx="532.3" cy="970.5" r="6.9"/>
<circle class="c9" cx="350.2" cy="716.1" r="6.9"/>
<circle class="c14" cx="759.1" cy="885.2" r="6.9"/>
<circle class="c10" cx="403.2" cy="492.8" r="6.9"/>
<circle class="c8" cx="285.6" cy="491.9" r="6.9"/>
<circle class="c9" cx="391.4" cy="791.7" r="6.9"/>
<circle class="c14" cx="753.3" cy="864.7" r="6.9"/>
<circle class="c11" cx="290.1" cy="372.6" r="6.9"/>
<circle class="c12" cx="670.2" cy="952.0" r="6.9"/>
<circle class="c18" cx="678.4" cy="1008.9" r="6.9"/>
<circle class="c12" cx="335.7" cy="359.2" r="6.9"/>
<circle class="c21" cx="605.4" cy="476.1" r="6.9"/>
<circle class="c8" cx="510.2" cy="354.7" r="6.9"/>
<circle class="c9" cx="517.2" cy="292.1" r="6.9"/>
<circle class="c13" cx="761.5" cy="327.2" r="6.9"/>
<circle class="c9" cx="561.3" cy="187.6" r="6.9"/>
<circle class="c15" cx="609.2" cy="521.9" r="6.9"/>
<circle class="c18" cx="601.7" cy="478.3" r="6.9"/>
<circle class="c10" cx="866.5" cy="538.0" r="6.9"/>
<circle class="c22" cx="1028.2" cy="277.0" r="6.9"/>
<circle class="c8" cx="528.9" cy="366.2" r="6.9"/>
<circle class="c16" cx="940.8" cy="410.2" r="6.9"/>
<circle class="c16" cx="987.1" cy="829.8" r="6.9"/>
<circle class="c12" cx="405.5" cy="268.2" r="6.9"/>
<circle class="c11" cx="529.1" cy="977.2" r="6.9"/>
<circle class="c9" cx="607.9" cy="249.0" r="6.9"/>
<circle class="c12" cx="651.0" cy="1002.6" r="6.9"/>
<circle class="c11" cx="378.7" cy="743.1" r="6.9"/>
<circle class="c12" cx="371.4" cy="425.3" r="6.9"/>
<circle class="c10" cx="536.2" cy="262.1" r="6.9"/>
<circle class="c3" cx="798.1" cy="721.5" r="6.9"/>
<circle class="c11" cx="447.1" cy="308.1" r="6.9"/>
<circle class="c14" cx="363.6" cy="406.4" r="6.9"/>
<circle class="c14" cx="739.6" cy="253.1" r="6.9"/>
<circle class="c13" cx="984.8" cy="789.4" r="6.9"/>
<circle class="c10" cx="623.3" cy="246.7" r="6.9"/>
<circle class="c10" cx="791.0" cy="492.2" r="6.9"/>
<circle class="c13" cx="706.4" cy="269.7" r="6.9"/>
<circle class="c14" cx="640.0" cy="943.9" r="6.9"/>
<circle class="c10" cx="461.4" cy="232.2" r="6.9"/>
<circle class="c9" cx="620.3" cy="220.0" r="6.9"/>
<circle class="c16" cx="786.5" cy="436.9" r="6.9"/>
<circle class="c16" cx="951.9" cy="862.0" r="6.9"/>
<circle class="c16" cx="571.2" cy="447.9" r="6.9"/>
<circle class="c14" cx="373.2" cy="391.9" r="6.9"/>
<circle class="c15" cx="556.3" cy="788.0" r="6.9"/>
<circle class="c8" cx="758.9" cy="499.6" r="6.9"/>
<circle class="c17" cx="585.0" cy="489.5" r="6.9"/>
<circle class="c13" cx="640.0" cy="476.0" r="6.9"/>
<circle class="c13" cx="798.7" cy="937.8" r="6.9"/>
<circle class="c10" cx="302.8" cy="337.9" r="6.9"/>
<circle class="c7" cx="498.4" cy="703.3" r="6.9"/>
<circle class="c16" cx="1010.3" cy="292.5" r="6.9"/>
<circle class="c18" cx="597.6" cy="811.7" r="6.9"/>
<circle class="c8" cx="482.4" cy="337.8" r="6.9"/>
<circle class="c15" cx="728.9" cy="264.6" r="6.9"/>
<circle class="c20" cx="1110.2" cy="488.6" r="6.9"/>
<circle class="c16" cx="846.1" cy="434.1" r="6.9"/>
<circle class="c5" cx="756.6" cy="513.4" r="6.9"/>
<circle class="c14" cx="801.2" cy="429.7" r="6.9"/>
<circle class="c10" cx="632.1" cy="826.0" r="6.9"/>
<circle class="c17" cx="535.4" cy="1046.8" r="6.9"/>
<circle class="c14" cx="820.7" cy="314.8" r="6.9"/>
<circle class="c15" cx="556.7" cy="425.9" r="6.9"/>
<circle class="c13" cx="814.0" cy="943.6" r="6.9"/>
<circle class="c11" cx="562.6" cy="913.6" r="6.9"/>
<circle class="c9" cx="347.7" cy="324.3" r="6.9"/>
<circle class="c12" cx="808.9" cy="982.4" r="6.9"/>
<circle class="c10" cx="524.8" cy="238.4" r="6.9"/>
<circle class="c17" cx="758.4" cy="1028.1" r="6.9"/>
<circle class="c13" cx="539.9" cy="792.2" r="6.9"/>
<circle class="c18" cx="986.4" cy="450.0" r="6.9"/>
<circle class="c2" cx="896.6" cy="680.9" r="6.9"/>
<circle class="c7" cx="328.2" cy="543.7" r="6.9"/>
<circle class="c11" cx="682.8" cy="215.2" r="6.9"/>
<circle class="c14" cx="716.9" cy="727.3" r="6.9"/>
<circle class="c15" cx="880.2" cy="491.7" r="6.9"/>
<circle class="c7" cx="747.7" cy="498.5" r="6.9"/>
<circle class="c13" cx="338.7" cy="829.3" r="6.9"/>
<circle class="c13" cx="1031.1" cy="463.5" r="6.9"/>
<circle class="c13" cx="409.7" cy="456.6" r="6.9"/>
<circle class="c11" cx="603.8" cy="222.0" r="6.9"/>
<circle class="c15" cx="866.2" cy="937.3" r="6.9"/>
<circle class="c19" cx="1026.3" cy="345.5" r="6.9"/>
<circle class="c10" cx="681.3" cy="888.1" r="6.9"/>
<circle class="c7" cx="531.6" cy="316.3" r="6.9"/>
<circle class="c20" cx="1097.6" cy="489.8" r="6.9"/>
<circle class="c11" cx="659.6" cy="788.1" r="6.9"/>
<circle class="c12" cx="505.2" cy="773.1" r="6.9"/>
<circle class="c12" cx="642.6" cy="970.8" r="6.9"/>
<circle class="c7" cx="577.5" cy="226.6" r="6.9"/>
<circle class="c14" cx="888.2" cy="811.6" r="6.9"/>
<circle class="c10" cx="311.8" cy="305.2" r="6.9"/>
<circle class="c8" cx="694.8" cy="477.3" r="6.9"/>
<circle class="c13" cx="538.9" cy="331.6" r="6.9"/>
<circle class="c14" cx="782.8" cy="828.3" r="6.9"/>
<circle class="c11" cx="362.6" cy="263.4" r="6.9"/>
<circle class="c13" cx="322.5" cy="286.3" r="6.9"/>
<circle class="c8" cx="507.4" cy="704.8" r="6.9"/>
<circle class="c15" cx="997.0" cy="814.9" r="6.9"/>
<circle class="c10" cx="514.9" cy="306.6" r="6.9"/>
<circle class="c10" cx="426.1" cy="250.6" r="6.9"/>
<circle class="c11" cx="581.6" cy="263.0" r="6.9"/>
<circle class="c16" cx="675.4" cy="771.5" r="6.9"/>
<circle class="c12" cx="890.7" cy="299.5" r="6.9"/>
<circle class="c8" cx="825.6" cy="731.8" r="6.9"/>
<circle class="c15" cx="1084.1" cy="509.5" r="6.9"/>
<circle class="c13" cx="821.0" cy="963.8" r="6.9"/>
<circle class="c5" cx="486.4" cy="959.8" r="6.9"/>
<circle class="c8" cx="535.4" cy="268.5" r="6.9"/>
<circle class="c11" cx="669.3" cy="483.7" r="6.9"/>
<circle class="c15" cx="700.8" cy="734.5" r="6.9"/>
<circle class="c14" cx="599.8" cy="1034.2" r="6.9"/>
<circle class="c12" cx="324.3" cy="309.6" r="6.9"/>
<circle class="c7" cx="408.3" cy="746.9" r="6.9"/>
<circle class="c10" cx="359.5" cy="476.1" r="6.9"/>
<circle class="c9" cx="392.4" cy="737.3" r="6.9"/>
<circle class="c12" cx="626.7" cy="792.7" r="6.9"/>
<circle class="c17" cx="709.8" cy="1042.1" r="6.9"/>
<circle class="c13" cx="361.6" cy="466.2" r="6.9"/>
<circle class="c10" cx="317.3" cy="394.3" r="6.9"/>
<circle class="c10" cx="778.1" cy="698.9" r="6.9"/>
<circle class="c16" cx="894.8" cy="780.7" r="6.9"/>
<circle class="c13" cx="752.8" cy="291.9" r="6.9"/>
<circle class="c9" cx="360.3" cy="289.3" r="6.9"/>
<circle class="c14" cx="1044.8" cy="465.4" r="6.9"/>
<circle class="c8" cx="543.1" cy="926.8" r="6.9"/>
<circle class="c16" cx="931.6" cy="592.1" r="6.9"/>
<circle class="c6" cx="401.9" cy="795.3" r="6.9"/>
<circle class="c11" cx="925.6" cy="307.0" r="6.9"/>
<circle class="c8" cx="505.4" cy="209.5" r="6.9"/>
<circle class="c14" cx="723.2" cy="270.1" r="6.9"/>
<circle class="c9" cx="326.4" cy="525.2" r="6.9"/>
<circle class="c19" cx="912.1" cy="516.4" r="6.9"/>
<circle class="c13" cx="737.8" cy="636.7" r="6.9"/>
<circle class="c20" cx="1024.9" cy="289.2" r="6.9"/>
<circle class="c17" cx="877.6" cy="484.7" r="6.9"/>
<circle class="c12" cx="775.5" cy="497.0" r="6.9"/>
<circle class="c19" cx="1023.2" cy="315.4" r="6.9"/>
<circle class="c8" cx="645.2" cy="213.0" r="6.9"/>
<circle class="c11" cx="794.2" cy="489.4" r="6.9"/>
<circle class="c10" cx="743.7" cy="906.5" r="6.9"/>
<circle class="c15" cx="1025.6" cy="461.7" r="6.9"/>
<circle class="c9" cx="444.3" cy="331.7" r="6.9"/>
<circle class="c4" cx="985.8" cy="669.0" r="6.9"/>
<circle class="c16" cx="614.1" cy="552.3" r="6.9"/>
<circle class="c14" cx="681.9" cy="729.7" r="6.9"/>
<circle class="c12" cx="725.6" cy="880.0" r="6.9"/>
<circle class="c13" cx="587.2" cy="762.8" r="6.9"/>
<circle class="c8" cx="493.2" cy="747.3" r="6.9"/>
<circle class="c10" cx="584.5" cy="919.7" r="6.9"/>
<circle class="c7" cx="469.9" cy="225.2" r="6.9"/>
<circle class="c8" cx="384.1" cy="761.0" r="6.9"/>
<circle class="c16" cx="654.8" cy="1051.8" r="6.9"/>
<circle class="c15" cx="520.7" cy="530.8" r="6.9"/>
<circle class="c10" cx="824.7" cy="523.7" r="6.9"/>
<circle class="c10" cx="533.1" cy="255.9" r="6.9"/>
<circle class="c14" cx="917.2" cy="837.8" r="6.9"/>
<circle class="c8" cx="396.9" cy="802.7" r="6.9"/>
<circle class="c18" cx="882.7" cy="896.7" r="6.9"/>
<circle class="c7" cx="456.9" cy="723.7" r="6.9"/>
<circle class="c12" cx="415.7" cy="409.5" r="6.9"/>
<circle class="c7" cx="542.4" cy="274.9" r="6.9"/>
<circle class="c13" cx="959.4" cy="811.2" r="6.9"/>
<circle class="c15" cx="777.3" cy="924.8" r="6.9"/>
<circle class="c12" cx="851.9" cy="424.9" r="6.9"/>
<circle class="c8" cx="650.4" cy="710.4" r="6.9"/>
<circle class="c9" cx="603.7" cy="311.9" r="6.9"/>
<circle class="c4" cx="878.8" cy="644.3" r="6.9"/>
<circle class="c11" cx="318.0" cy="334.4" r="6.9"/>
<circle class="c14" cx="544.2" cy="469.9" r="6.9"/>
<circle class="c10" cx="352.6" cy="254.8" r="6.9"/>
<circle class="c15" cx="485.6" cy="302.9" r="6.9"/>
<circle class="c12" cx="593.3" cy="416.3" r="6.9"/>
<circle class="c18" cx="874.0" cy="362.0" r="6.9"/>
<circle class="c7" cx="380.1" cy="798.3" r="6.9"/>
<circle class="c10" cx="345.2" cy="270.6" r="6.9"/>
<circle class="c12" cx="542.0" cy="269.5" r="6.9"/>
<circle class="c19" cx="1033.0" cy="327.1" r="6.9"/>
<circle class="c15" cx="523.8" cy="508.9" r="6.9"/>
<circle class="c12" cx="559.7" cy="772.8" r="6.9"/>
<circle class="c16" cx="578.8" cy="767.2" r="6.9"/>
<circle class="c10" cx="697.4" cy="224.7" r="6.9"/>
<circle class="c12" cx="327.6" cy="496.1" r="6.9"/>
<circle class="c14" cx="941.5" cy="857.3" r="6.9"/>
<circle class="c17" cx="677.5" cy="988.6" r="6.9"/>
<circle class="c6" cx="448.8" cy="759.3" r="6.9"/>
<circle class="c17" cx="860.5" cy="372.3" r="6.9"/>
<circle class="c14" cx="560.6" cy="798.2" r="6.9"/>
<circle class="c17" cx="781.6" cy="943.9" r="6.9"/>
<circle class="c10" cx="399.3" cy="265.2" r="6.9"/>
<circle class="c18" cx="998.1" cy="311.5" r="6.9"/>
<circle class="c12" cx="663.7" cy="938.8" r="6.9"/>
<circle class="c10" cx="689.4" cy="955.4" r="6.9"/>
<circle class="c7" cx="813.4" cy="702.9" r="6.9"/>
<circle class="c18" cx="931.1" cy="401.1" r="6.9"/>
<circle class="c10" cx="411.2" cy="444.0" r="6.9"/>
<circle class="c12" cx="393.5" cy="342.3" r="6.9"/>
<circle class="c14" cx="776.1" cy="416.4" r="6.9"/>
<circle class="c11" cx="583.6" cy="288.0" r="6.9"/>
<circle class="c4" cx="896.3" cy="644.7" r="6.9"/>
<circle class="c8" cx="839.1" cy="776.3" r="6.9"/>
<circle class="c11" cx="675.1" cy="714.2" r="6.9"/>
<circle class="c16" cx="930.8" cy="825.6" r="6.9"/>
<circle class="c8" cx="514.8" cy="377.0" r="6.9"/>
<circle class="c19" cx="892.6" cy="847.4" r="6.9"/>
<circle class="c11" cx="570.3" cy="567.8" r="6.9"/>
<circle class="c15" cx="669.2" cy="1004.3" r="6.9"/>
<circle class="c12" cx="339.0" cy="437.9" r="6.9"/>
<circle class="c9" cx="432.1" cy="310.3" r="6.9"/>
<circle class="c21" cx="623.0" cy="460.0" r="6.9"/>
<circle class="c12" cx="789.1" cy="706.4" r="6.9"/>
<circle class="c16" cx="1049.9" cy="465.9" r="6.9"/>
<circle class="c18" cx="997.8" cy="316.3" r="6.9"/>
<circle class="c13" cx="627.0" cy="920.0" r="6.9"/>
<circle class="c10" cx="393.5" cy="538.3" r="6.9"/>
<circle class="c7" cx="535.3" cy="210.8" r="6.9"/>
<circle class="c13" cx="1010.9" cy="327.5" r="6.9"/>
<circle class="c15" cx="560.1" cy="881.1" r="6.9"/>
<circle class="c13" cx="842.3" cy="919.9" r="6.9"/>
<circle class="c14" cx="871.4" cy="807.9" r="6.9"/>
<circle class="c17" cx="912.3" cy="412.3" r="6.9"/>
<circle class="c14" cx="995.2" cy="776.3" r="6.9"/>
<circle class="c12" cx="835.9" cy="423.6" r="6.9"/>
<circle class="c13" cx="628.8" cy="541.5" r="6.9"/>
<circle class="c8" cx="781.6" cy="718.6" r="6.9"/>
<circle class="c4" cx="939.9" cy="675.6" r="6.9"/>
<circle class="c11" cx="649.5" cy="931.9" r="6.9"/>
<circle class="c11" cx="985.2" cy="308.7" r="6.9"/>
<circle class="c13" cx="562.6" cy="812.6" r="6.9"/>
<circle class="c11" cx="552.6" cy="972.0" r="6.9"/>
<circle class="c14" cx="634.3" cy="855.8" r="6.9"/>
<circle class="c16" cx="574.4" cy="1023.6" r="6.9"/>
<circle class="c12" cx="833.9" cy="797.0" r="6.9"/>
<circle class="c20" cx="577.7" cy="446.1" r="6.9"/>
<circle class="c15" cx="754.0" cy="775.6" r="6.9"/>
<circle class="c14" cx="895.8" cy="945.8" r="6.9"/>
<circle class="c7" cx="574.7" cy="556.9" r="6.9"/>
<circle class="c10" cx="785.2" cy="535.3" r="6.9"/>
<circle class="c12" cx="996.6" cy="454.2" r="6.9"/>
<circle class="c14" cx="782.0" cy="967.9" r="6.9"/>
<circle class="c19" cx="616.7" cy="426.2" r="6.9"/>
<circle class="c13" cx="516.2" cy="457.3" r="6.9"/>
<circle class="c7" cx="510.2" cy="760.9" r="6.9"/>
<circle class="c7" cx="394.2" cy="309.2" r="6.9"/>
<circle class="c16" cx="960.6" cy="401.8" r="6.9"/>
<circle class="c15" cx="744.0" cy="767.6" r="6.9"/>
<circle class="c12" cx="807.9" cy="781.5" r="6.9"/>
<circle class="c9" cx="746.3" cy="715.9" r="6.9"/>
<circle class="c10" cx="392.4" cy="259.1" r="6.9"/>
<circle class="c10" cx="655.5" cy="804.7" r="6.9"/>
<circle class="c9" cx="708.5" cy="862.7" r="6.9"/>
<circle class="c12" cx="645.1" cy="759.5" r="6.9"/>
<circle class="c11" cx="376.6" cy="442.0" r="6.9"/>
<circle class="c11" cx="305.0" cy="502.4" r="6.9"/>
<circle class="c13" cx="585.7" cy="994.8" r="6.9"/>
<circle class="c13" cx="691.7" cy="1030.3" r="6.9"/>
<circle class="c14" cx="380.6" cy="273.8" r="6.9"/>
<circle class="c11" cx="296.6" cy="470.1" r="6.9"/>
<circle class="c13" cx="674.3" cy="314.0" r="6.9"/>
<circle class="c17" cx="574.9" cy="482.1" r="6.9"/>
<circle class="c14" cx="1029.3" cy="471.8" r="6.9"/>
<circle class="c14" cx="547.2" cy="439.4" r="6.9"/>
<circle class="c14" cx="498.4" cy="506.7" r="6.9"/>
<circle class="c9" cx="860.5" cy="578.1" r="6.9"/>
<circle class="c18" cx="649.7" cy="286.4" r="6.9"/>
<circle class="c10" cx="522.0" cy="922.3" r="6.9"/>
<circle class="c18" cx="907.9" cy="368.2" r="6.9"/>
<circle class="c8" cx="384.3" cy="710.0" r="6.9"/>
<circle class="c15" cx="776.8" cy="821.1" r="6.9"/>
<circle class="c17" cx="363.2" cy="567.3" r="6.9"/>
<circle class="c12" cx="871.2" cy="399.0" r="6.9"/>
<circle class="c11" cx="332.2" cy="295.7" r="6.9"/>
<circle class="c5" cx="961.3" cy="679.6" r="6.9"/>
<circle class="c15" cx="824.2" cy="933.1" r="6.9"/>
<circle class="c8" cx="495.2" cy="950.5" r="6.9"/>
<circle class="c10" cx="617.0" cy="217.2" r="6.9"/>
<circle class="c14" cx="542.4" cy="1038.2" r="6.9"/>
<circle class="c9" cx="592.9" cy="264.8" r="6.9"/>
<circle class="c10" cx="318.6" cy="427.3" r="6.9"/>
<circle class="c17" cx="750.2" cy="238.0" r="6.9"/>
<circle class="c10" cx="381.2" cy="241.4" r="6.9"/>
<circle class="c16" cx="607.8" cy="833.2" r="6.9"/>
<circle class="c12" cx="585.6" cy="425.7" r="6.9"/>
<circle class="c13" cx="541.7" cy="1011.1" r="6.9"/>
<circle class="c9" cx="413.7" cy="557.0" r="6.9"/>
<circle class="c11" cx="765.4" cy="719.0" r="6.9"/>
<circle class="c10" cx="680.3" cy="695.3" r="6.9"/>
<circle class="c12" cx="539.0" cy="502.3" r="6.9"/>
<circle class="c16" cx="845.0" cy="798.9" r="6.9"/>
<circle class="c9" cx="590.7" cy="317.1" r="6.9"/>
<circle class="c8" cx="386.7" cy="236.2" r="6.9"/>
<circle class="c17" cx="898.1" cy="786.8" r="6.9"/>
<circle class="c13" cx="460.4" cy="391.9" r="6.9"/>
<circle class="c10" cx="379.9" cy="331.1" r="6.9"/>
<circle class="c8" cx="971.6" cy="583.1" r="6.9"/>
<circle class="c7" cx="464.8" cy="220.9" r="6.9"/>
<circle class="c21" cx="610.6" cy="449.7" r="6.9"/>
<circle class="c10" cx="727.7" cy="255.2" r="6.9"/>
<circle class="c10" cx="568.2" cy="282.9" r="6.9"/>
<circle class="c10" cx="370.6" cy="742.9" r="6.9"/>
<circle class="c12" cx="833.1" cy="835.8" r="6.9"/>
<circle class="c14" cx="726.5" cy="753.1" r="6.9"/>
<circle class="c17" cx="365.4" cy="584.6" r="6.9"/>
<circle class="c7" cx="758.3" cy="643.5" r="6.9"/>
<circle class="c12" cx="468.4" cy="357.9" r="6.9"/>
<circle class="c15" cx="1023.4" cy="268.6" r="6.9"/>
<circle class="c15" cx="509.0" cy="1008.6" r="6.9"/>
<circle class="c19" cx="612.4" cy="1062.3" r="6.9"/>
<circle class="c14" cx="982.2" cy="456.6" r="6.9"/>
<circle class="c8" cx="434.3" cy="270.7" r="6.9"/>
<circle class="c9" cx="311.0" cy="434.5" r="6.9"/>
<circle class="c14" cx="624.0" cy="1073.8" r="6.9"/>
<circle class="c13" cx="739.6" cy="318.8" r="6.9"/>
<circle class="c18" cx="721.1" cy="1042.9" r="6.9"/>
<circle class="c18" cx="970.3" cy="842.2" r="6.9"/>
<circle class="c9" cx="307.6" cy="403.4" r="6.9"/>
<circle class="c12" cx="310.3" cy="329.1" r="6.9"/>
<circle class="c13" cx="686.7" cy="861.2" r="6.9"/>
<circle class="c9" cx="395.4" cy="769.3" r="6.9"/>
<circle class="c15" cx="1003.9" cy="849.7" r="6.9"/>
<circle class="c16" cx="694.6" cy="1022.5" r="6.9"/>
<circle class="c16" cx="824.8" cy="832.1" r="6.9"/>
<circle class="c10" cx="548.2" cy="976.1" r="6.9"/>
<circle class="c8" cx="308.2" cy="284.1" r="6.9"/>
<circle class="c12" cx="660.0" cy="958.5" r="6.9"/>
<circle class="c15" cx="775.4" cy="918.2" r="6.9"/>
<circle class="c13" cx="540.9" cy="198.6" r="6.9"/>
<circle class="c9" cx="413.1" cy="448.6" r="6.9"/>
<circle class="c4" cx="916.1" cy="658.2" r="6.9"/>
<circle class="c17" cx="649.3" cy="510.6" r="6.9"/>
<circle class="c7" cx="424.1" cy="776.9" r="6.9"/>
<circle class="c17" cx="891.9" cy="888.4" r="6.9"/>
<circle class="c10" cx="354.2" cy="537.6" r="6.9"/>
<circle class="c10" cx="676.3" cy="779.2" r="6.9"/>
<circle class="c13" cx="638.7" cy="513.0" r="6.9"/>
<circle class="c15" cx="647.4" cy="730.8" r="6.9"/>
<circle class="c15" cx="951.2" cy="850.6" r="6.9"/>
<circle class="c15" cx="501.4" cy="493.5" r="6.9"/>
<circle class="c11" cx="633.2" cy="218.8" r="6.9"/>
<circle class="c12" cx="554.9" cy="780.3" r="6.9"/>
<circle class="c11" cx="321.3" cy="414.6" r="6.9"/>
<circle class="c12" cx="617.9" cy="988.1" r="6.9"/>
<circle class="c13" cx="833.7" cy="547.8" r="6.9"/>
<circle class="c11" cx="305.6" cy="396.2" r="6.9"/>
<circle class="c15" cx="585.8" cy="1010.9" r="6.9"/>
<circle class="c8" cx="799.7" cy="726.9" r="6.9"/>
<circle class="c16" cx="539.6" cy="516.7" r="6.9"/>
<circle class="c13" cx="839.0" cy="431.0" r="6.9"/>
<circle class="c14" cx="930.8" cy="782.8" r="6.9"/>
<circle class="c19" cx="711.1" cy="447.0" r="6.9"/>
<circle class="c9" cx="491.4" cy="357.0" r="6.9"/>
<circle class="c9" cx="468.1" cy="248.8" r="6.9"/>
<circle class="c4" cx="868.5" cy="646.5" r="6.9"/>
<circle class="c10" cx="813.0" cy="627.3" r="6.9"/>
<circle class="c8" cx="475.8" cy="699.6" r="6.9"/>
<circle class="c10" cx="331.4" cy="332.5" r="6.9"/>
<circle class="c9" cx="494.4" cy="231.7" r="6.9"/>
<circle class="c9" cx="722.8" cy="678.4" r="6.9"/>
<circle class="c11" cx="709.6" cy="667.2" r="6.9"/>
<circle class="c17" cx="1077.1" cy="455.4" r="6.9"/>
<circle class="c10" cx="420.4" cy="267.8" r="6.9"/>
<circle class="c20" cx="1036.3" cy="335.3" r="6.9"/>
<circle class="c10" cx="400.4" cy="314.5" r="6.9"/>
<circle class="c10" cx="681.3" cy="849.5" r="6.9"/>
<circle class="c15" cx="561.8" cy="455.6" r="6.9"/>
<circle class="c18" cx="1050.6" cy="373.8" r="6.9"/>
<circle class="c11" cx="519.5" cy="774.8" r="6.9"/>
<circle class="c9" cx="286.8" cy="333.1" r="6.9"/>
<circle class="c13" cx="653.7" cy="737.5" r="6.9"/>
<circle class="c13" cx="882.4" cy="314.7" r="6.9"/>
<circle class="c8" cx="616.8" cy="906.9" r="6.9"/>
<circle class="c12" cx="372.6" cy="438.5" r="6.9"/>
<circle class="c13" cx="653.4" cy="225.6" r="6.9"/>
<circle class="c12" cx="754.6" cy="467.9" r="6.9"/>
<circle class="c9" cx="626.2" cy="686.5" r="6.9"/>
<circle class="c18" cx="716.8" cy="268.0" r="6.9"/>
<circle class="c17" cx="1017.4" cy="475.7" r="6.9"/>
<circle class="c12" cx="892.2" cy="315.2" r="6.9"/>
<circle class="c11" cx="459.4" cy="309.5" r="6.9"/>
<circle class="c17" cx="585.7" cy="1058.3" r="6.9"/>
<circle class="c10" cx="566.9" cy="828.3" r="6.9"/>
<circle class="c14" cx="658.9" cy="704.6" r="6.9"/>
<circle class="c17" cx="702.3" cy="651.7" r="6.9"/>
<circle class="c18" cx="701.3" cy="1002.2" r="6.9"/>
<circle class="c15" cx="858.9" cy="836.9" r="6.9"/>
<circle class="c9" cx="398.9" cy="719.9" r="6.9"/>
<circle class="c5" cx="338.9" cy="278.8" r="6.9"/>
<circle class="c16" cx="875.2" cy="923.0" r="6.9"/>
<circle class="c12" cx="499.5" cy="283.8" r="6.9"/>
<circle class="c11" cx="583.5" cy="278.4" r="6.9"/>
<circle class="c10" cx="677.8" cy="468.2" r="6.9"/>
<circle class="c10" cx="468.6" cy="269.2" r="6.9"/>
<circle class="c14" cx="787.4" cy="774.1" r="6.9"/>
<circle class="c8" cx="489.1" cy="909.5" r="6.9"/>
<circle class="c15" cx="770.2" cy="843.7" r="6.9"/>
<circle class="c11" cx="352.0" cy="268.1" r="6.9"/>
<circle class="c10" cx="801.2" cy="696.9" r="6.9"/>
<circle class="c14" cx="720.5" cy="671.7" r="6.9"/>
<circle class="c14" cx="883.8" cy="917.2" r="6.9"/>
<circle class="c15" cx="793.6" cy="912.3" r="6.9"/>
<circle class="c14" cx="1009.9" cy="487.5" r="6.9"/>
<circle class="c7" cx="770.3" cy="517.5" r="6.9"/>
<circle class="c17" cx="935.2" cy="410.8" r="6.9"/>
<circle class="c10" cx="804.0" cy="267.6" r="6.9"/>
<circle class="c10" cx="304.8" cy="416.3" r="6.9"/>
<circle class="c13" cx="596.6" cy="1069.6" r="6.9"/>
<circle class="c10" cx="468.6" cy="376.0" r="6.9"/>
<circle class="c17" cx="930.7" cy="428.1" r="6.9"/>
<circle class="c11" cx="455.4" cy="371.0" r="6.9"/>
<circle class="c13" cx="603.5" cy="782.0" r="6.9"/>
<circle class="c9" cx="783.9" cy="507.3" r="6.9"/>
<circle class="c11" cx="803.3" cy="946.2" r="6.9"/>
<circle class="c7" cx="523.9" cy="284.0" r="6.9"/>
<circle class="c11" cx="396.2" cy="410.0" r="6.9"/>
<circle class="c14" cx="959.8" cy="803.3" r="6.9"/>
<circle class="c17" cx="643.6" cy="1028.6" r="6.9"/>
<circle class="c11" cx="673.1" cy="239.6" r="6.9"/>
<circle class="c16" cx="779.1" cy="909.3" r="6.9"/>
<circle class="c13" cx="634.3" cy="244.4" r="6.9"/>
<circle class="c10" cx="363.0" cy="435.0" r="6.9"/>
<circle class="c15" cx="918.8" cy="849.5" r="6.9"/>
<circle class="c8" cx="511.6" cy="938.4" r="6.9"/>
<circle class="c14" cx="924.0" cy="780.0" r="6.9"/>
<circle class="c8" cx="521.4" cy="930.2" r="6.9"/>
<circle class="c12" cx="912.1" cy="532.7" r="6.9"/>
<circle class="c14" cx="744.6" cy="644.1" r="6.9"/>
<circle class="c8" cx="320.5" cy="499.7" r="6.9"/>
<circle class="c9" cx="823.9" cy="746.9" r="6.9"/>
<circle class="c15" cx="690.6" cy="717.9" r="6.9"/>
<circle class="c12" cx="326.7" cy="315.7" r="6.9"/>
<circle class="c13" cx="710.8" cy="793.5" r="6.9"/>
<circle class="c11" cx="540.6" cy="254.2" r="6.9"/>
<circle class="c7" cx="801.1" cy="710.7" r="6.9"/>
<circle class="c17" cx="553.0" cy="1011.7" r="6.9"/>
<circle class="c7" cx="517.0" cy="740.2" r="6.9"/>
<circle class="c16" cx="1008.9" cy="819.7" r="6.9"/>
<circle class="c9" cx="531.5" cy="575.0" r="6.9"/>
<circle class="c12" cx="635.4" cy="442.2" r="6.9"/>
<circle class="c7" cx="809.0" cy="725.2" r="6.9"/>
<circle class="c15" cx="622.7" cy="503.4" r="6.9"/>
<circle class="c14" cx="1023.8" cy="793.8" r="6.9"/>
<circle class="c7" cx="405.8" cy="293.4" r="6.9"/>
<circle class="c14" cx="744.3" cy="748.1" r="6.9"/>
<circle class="c9" cx="381.8" cy="411.1" r="6.9"/>
<circle class="c18" cx="622.7" cy="436.8" r="6.9"/>
<circle class="c8" cx="614.6" cy="221.0" r="6.9"/>
<circle class="c14" cx="688.0" cy="988.2" r="6.9"/>
<circle class="c12" cx="569.2" cy="1047.2" r="6.9"/>
<circle class="c8" cx="778.8" cy="536.6" r="6.9"/>
<circle class="c10" cx="557.9" cy="982.1" r="6.9"/>
<circle class="c14" cx="605.9" cy="810.6" r="6.9"/>
<circle class="c12" cx="412.5" cy="312.0" r="6.9"/>
<circle class="c17" cx="930.3" cy="418.4" r="6.9"/>
<circle class="c6" cx="427.3" cy="713.1" r="6.9"/>
<circle class="c15" cx="565.2" cy="525.2" r="6.9"/>
<circle class="c17" cx="674.0" cy="731.4" r="6.9"/>
<circle class="c13" cx="910.0" cy="306.5" r="6.9"/>
<circle class="c9" cx="481.9" cy="890.2" r="6.9"/>
<circle class="c12" cx="399.2" cy="490.5" r="6.9"/>
<circle class="c12" cx="562.2" cy="991.1" r="6.9"/>
<circle class="c10" cx="763.2" cy="909.5" r="6.9"/>
<circle class="c16" cx="999.0" cy="806.0" r="6.9"/>
<circle class="c10" cx="366.8" cy="467.2" r="6.9"/>
<circle class="c15" cx="765.3" cy="271.3" r="6.9"/>
<circle class="c13" cx="789.4" cy="962.4" r="6.9"/>
<circle class="c7" cx="354.6" cy="723.7" r="6.9"/>
<circle class="c15" cx="647.6" cy="464.9" r="6.9"/>
<circle class="c15" cx="786.9" cy="849.8" r="6.9"/>
<circle class="c8" cx="445.9" cy="217.3" r="6.9"/>
<circle class="c19" cx="645.0" cy="1040.4" r="6.9"/>
<circle class="c7" cx="981.7" cy="673.1" r="6.9"/>
<circle class="c15" cx="876.5" cy="512.8" r="6.9"/>
<circle class="c13" cx="354.9" cy="354.9" r="6.9"/>
<circle class="c11" cx="375.6" cy="245.4" r="6.9"/>
<circle class="c10" cx="458.4" cy="289.7" r="6.9"/>
<circle class="c11" cx="539.0" cy="856.2" r="6.9"/>
<circle class="c9" cx="611.8" cy="258.2" r="6.9"/>
<circle class="c11" cx="369.0" cy="482.4" r="6.9"/>
<circle class="c17" cx="600.0" cy="806.8" r="6.9"/>
<circle class="c13" cx="810.4" cy="961.1" r="6.9"/>
<circle class="c12" cx="615.9" cy="755.9" r="6.9"/>
<circle class="c12" cx="294.3" cy="496.7" r="6.9"/>
<circle class="c14" cx="609.4" cy="456.8" r="6.9"/>
<circle class="c15" cx="801.6" cy="305.9" r="6.9"/>
<circle class="c8" cx="752.8" cy="550.6" r="6.9"/>
<circle class="c8" cx="381.1" cy="809.3" r="6.9"/>
<circle class="c14" cx="575.5" cy="1004.7" r="6.9"/>
<circle class="c16" cx="934.0" cy="873.9" r="6.9"/>
<circle class="c16" cx="830.6" cy="815.3" r="6.9"/>
<circle class="c13" cx="738.8" cy="709.1" r="6.9"/>
<circle class="c11" cx="359.2" cy="515.4" r="6.9"/>
<circle class="c12" cx="280.2" cy="319.3" r="6.9"/>
<circle class="c8" cx="454.2" cy="731.5" r="6.9"/>
<circle class="c14" cx="782.4" cy="939.0" r="6.9"/>
<circle class="c10" cx="453.2" cy="353.2" r="6.9"/>
<circle class="c14" cx="380.5" cy="395.9" r="6.9"/>
<circle class="c14" cx="904.1" cy="915.1" r="6.9"/>
<circle class="c11" cx="665.6" cy="723.2" r="6.9"/>
<circle class="c16" cx="990.4" cy="423.5" r="6.9"/>
<circle class="c11" cx="895.3" cy="587.2" r="6.9"/>
<circle class="c12" cx="615.3" cy="232.5" r="6.9"/>
<circle class="c9" cx="526.9" cy="384.3" r="6.9"/>
<circle class="c7" cx="781.2" cy="531.8" r="6.9"/>
<circle class="c13" cx="795.2" cy="970.2" r="6.9"/>
<circle class="c9" cx="542.6" cy="558.0" r="6.9"/>
<circle class="c13" cx="544.2" cy="819.9" r="6.9"/>
<circle class="c9" cx="472.4" cy="720.6" r="6.9"/>
<circle class="c11" cx="743.8" cy="867.3" r="6.9"/>
<circle class="c10" cx="631.3" cy="783.0" r="6.9"/>
<circle class="c15" cx="1025.8" cy="448.9" r="6.9"/>
<circle class="c16" cx="712.9" cy="816.4" r="6.9"/>
<circle class="c14" cx="697.1" cy="452.6" r="6.9"/>
<circle class="c12" cx="429.7" cy="257.1" r="6.9"/>
<circle class="c5" cx="394.1" cy="787.2" r="6.9"/>
<circle class="c5" cx="862.3" cy="619.7" r="6.9"/>
<circle class="c18" cx="927.8" cy="897.1" r="6.9"/>
<circle class="c15" cx="643.1" cy="531.3" r="6.9"/>
<circle class="c8" cx="738.5" cy="497.6" r="6.9"/>
<circle class="c13" cx="733.0" cy="684.3" r="6.9"/>
<circle class="c9" cx="332.9" cy="472.4" r="6.9"/>
<circle class="c4" cx="876.3" cy="658.1" r="6.9"/>
<circle class="c16" cx="880.0" cy="360.1" r="6.9"/>
<circle class="c17" cx="930.4" cy="386.2" r="6.9"/>
<circle class="c10" cx="527.9" cy="463.4" r="6.9"/>
<circle class="c14" cx="554.4" cy="823.0" r="6.9"/>
<circle class="c16" cx="609.1" cy="882.8" r="6.9"/>
<circle class="c8" cx="521.1" cy="234.0" r="6.9"/>
<circle class="c10" cx="833.5" cy="580.9" r="6.9"/>
<circle class="c5" cx="488.5" cy="947.6" r="6.9"/>
<circle class="c10" cx="640.5" cy="846.5" r="6.9"/>
<circle class="c15" cx="1057.5" cy="465.7" r="6.9"/>
<circle class="c10" cx="372.2" cy="420.7" r="6.9"/>
<circle class="c16" cx="368.0" cy="575.1" r="6.9"/>
<circle class="c9" cx="282.3" cy="443.2" r="6.9"/>
<circle class="c19" cx="714.3" cy="434.8" r="6.9"/>
<circle class="c6" cx="742.9" cy="497.7" r="6.9"/>
<circle class="c18" cx="892.4" cy="361.1" r="6.9"/>
<circle class="c14" cx="599.3" cy="562.2" r="6.9"/>
<circle class="c13" cx="578.8" cy="204.1" r="6.9"/>
<circle class="c16" cx="771.5" cy="249.9" r="6.9"/>
<circle class="c16" cx="766.2" cy="845.0" r="6.9"/>
<circle class="c7" cx="910.1" cy="619.3" r="6.9"/>
<circle class="c8" cx="413.8" cy="795.5" r="6.9"/>
<circle class="c9" cx="742.7" cy="695.6" r="6.9"/>
<circle class="c13" cx="880.0" cy="799.7" r="6.9"/>
<circle class="c8" cx="768.2" cy="545.6" r="6.9"/>
<circle class="c8" cx="631.7" cy="878.8" r="6.9"/>
<circle class="c18" cx="616.7" cy="496.2" r="6.9"/>
<circle class="c8" cx="351.4" cy="302.0" r="6.9"/>
<circle class="c4" cx="914.3" cy="627.9" r="6.9"/>
<circle class="c9" cx="669.6" cy="778.1" r="6.9"/>
<circle class="c10" cx="534.3" cy="349.9" r="6.9"/>
<circle class="c14" cx="324.7" cy="441.6" r="6.9"/>
<circle class="c14" cx="644.2" cy="300.1" r="6.9"/>
<circle class="c13" cx="959.1" cy="299.7" r="6.9"/>
<circle class="c8" cx="803.1" cy="702.8" r="6.9"/>
<circle class="c6" cx="460.4" cy="727.5" r="6.9"/>
<circle class="c16" cx="622.1" cy="1014.5" r="6.9"/>
<circle class="c12" cx="656.2" cy="815.9" r="6.9"/>
<circle class="c13" cx="339.2" cy="318.4" r="6.9"/>
<circle class="c15" cx="1060.2" cy="482.8" r="6.9"/>
<circle class="c9" cx="663.0" cy="969.3" r="6.9"/>
<circle class="c12" cx="711.2" cy="643.6" r="6.9"/>
<circle class="c15" cx="557.7" cy="397.1" r="6.9"/>
<circle class="c9" cx="586.6" cy="283.0" r="6.9"/>
<circle class="c8" cx="368.0" cy="809.0" r="6.9"/>
<circle class="c14" cx="743.1" cy="872.6" r="6.9"/>
<circle class="c5" cx="523.5" cy="962.9" r="6.9"/>
<circle class="c13" cx="786.1" cy="484.8" r="6.9"/>
<circle class="c15" cx="555.1" cy="1006.2" r="6.9"/>
<circle class="c7" cx="426.0" cy="840.9" r="6.9"/>
<circle class="c9" cx="756.4" cy="743.8" r="6.9"/>
<circle class="c9" cx="430.5" cy="854.5" r="6.9"/>
<circle class="c11" cx="757.6" cy="437.7" r="6.9"/>
<circle class="c10" cx="326.1" cy="474.7" r="6.9"/>
<circle class="c13" cx="572.6" cy="877.8" r="6.9"/>
<circle class="c13" cx="838.7" cy="347.5" r="6.9"/>
<circle class="c14" cx="966.5" cy="284.0" r="6.9"/>
<circle class="c10" cx="628.9" cy="1000.8" r="6.9"/>
<circle class="c12" cx="376.8" cy="325.3" r="6.9"/>
<circle class="c16" cx="757.9" cy="858.0" r="6.9"/>
<circle class="c9" cx="587.0" cy="911.7" r="6.9"/>
<circle class="c11" cx="474.7" cy="922.1" r="6.9"/>
<circle class="c10" cx="373.0" cy="304.0" r="6.9"/>
<circle class="c11" cx="854.6" cy="889.3" r="6.9"/>
<circle class="c8" cx="396.8" cy="465.5" r="6.9"/>
<circle class="c16" cx="951.2" cy="308.1" r="6.9"/>
<circle class="c7" cx="567.4" cy="264.2" r="6.9"/>
<circle class="c16" cx="946.8" cy="302.9" r="6.9"/>
<circle class="c11" cx="411.6" cy="808.0" r="6.9"/>
<circle class="c10" cx="589.9" cy="246.5" r="6.9"/>
<circle class="c9" cx="533.5" cy="281.3" r="6.9"/>
<circle class="c13" cx="588.3" cy="1083.2" r="6.9"/>
<circle class="c19" cx="1046.1" cy="327.8" r="6.9"/>
<circle class="c15" cx="635.2" cy="479.4" r="6.9"/>
<circle class="c9" cx="779.2" cy="500.6" r="6.9"/>
<circle class="c6" cx="562.6" cy="277.8" r="6.9"/>
<circle class="c16" cx="622.6" cy="508.1" r="6.9"/>
<circle class="c7" cx="309.8" cy="297.0" r="6.9"/>
<circle class="c9" cx="473.0" cy="708.1" r="6.9"/>
<circle class="c17" cx="941.2" cy="851.7" r="6.9"/>
<circle class="c10" cx="501.7" cy="313.2" r="6.9"/>
<circle class="c13" cx="765.2" cy="449.8" r="6.9"/>
<circle class="c12" cx="499.6" cy="348.2" r="6.9"/>
<circle class="c19" cx="922.5" cy="840.5" r="6.9"/>
<circle class="c9" cx="681.3" cy="239.2" r="6.9"/>
<circle class="c9" cx="536.3" cy="230.1" r="6.9"/>
<circle class="c17" cx="846.4" cy="954.5" r="6.9"/>
<circle class="c10" cx="767.4" cy="776.9" r="6.9"/>
<circle class="c11" cx="367.0" cy="272.2" r="6.9"/>
<circle class="c11" cx="707.1" cy="216.6" r="6.9"/>
<circle class="c7" cx="347.2" cy="505.9" r="6.9"/>
<circle class="c15" cx="660.5" cy="1041.9" r="6.9"/>
<circle class="c15" cx="634.3" cy="735.3" r="6.9"/>
<circle class="c14" cx="539.5" cy="1029.9" r="6.9"/>
<circle class="c11" cx="541.1" cy="570.2" r="6.9"/>
<circle class="c12" cx="943.5" cy="877.6" r="6.9"/>
<circle class="c6" cx="461.4" cy="770.5" r="6.9"/>
<circle class="c9" cx="449.2" cy="373.6" r="6.9"/>
<circle class="c12" cx="629.9" cy="776.2" r="6.9"/>
<circle class="c9" cx="310.0" cy="336.7" r="6.9"/>
<circle class="c15" cx="609.9" cy="426.3" r="6.9"/>
<circle class="c16" cx="1046.5" cy="344.5" r="6.9"/>
<circle class="c12" cx="344.8" cy="418.1" r="6.9"/>
<circle class="c15" cx="688.1" cy="302.4" r="6.9"/>
<circle class="c12" cx="592.7" cy="1028.2" r="6.9"/>
<circle class="c9" cx="337.2" cy="525.1" r="6.9"/>
<circle class="c12" cx="339.2" cy="509.5" r="6.9"/>
<circle class="c16" cx="1015.5" cy="789.5" r="6.9"/>
<circle class="c4" cx="909.4" cy="647.4" r="6.9"/>
<circle class="c7" cx="512.8" cy="741.7" r="6.9"/>
<circle class="c8" cx="545.5" cy="208.3" r="6.9"/>
<circle class="c11" cx="650.2" cy="984.6" r="6.9"/>
<circle class="c12" cx="589.0" cy="709.6" r="6.9"/>
<circle class="c10" cx="580.8" cy="553.6" r="6.9"/>
<circle class="c16" cx="958.1" cy="272.2" r="6.9"/>
<circle class="c11" cx="766.6" cy="463.6" r="6.9"/>
<circle class="c6" cx="952.8" cy="629.7" r="6.9"/>
<circle class="c15" cx="844.9" cy="831.3" r="6.9"/>
<circle class="c8" cx="537.0" cy="954.4" r="6.9"/>
<circle class="c5" cx="864.0" cy="629.1" r="6.9"/>
<circle class="c10" cx="610.0" cy="243.0" r="6.9"/>
<circle class="c15" cx="700.6" cy="693.7" r="6.9"/>
<circle class="c15" cx="916.7" cy="374.8" r="6.9"/>
<circle class="c13" cx="399.9" cy="394.3" r="6.9"/>
<circle class="c16" cx="573.0" cy="496.3" r="6.9"/>
<circle class="c9" cx="404.6" cy="778.5" r="6.9"/>
<circle class="c6" cx="378.7" cy="817.3" r="6.9"/>
<circle class="c12" cx="383.1" cy="554.7" r="6.9"/>
<circle class="c16" cx="728.1" cy="696.9" r="6.9"/>
<circle class="c13" cx="763.1" cy="684.2" r="6.9"/>
<circle class="c10" cx="612.7" cy="918.6" r="6.9"/>
<circle class="c9" cx="707.5" cy="707.4" r="6.9"/>
<circle class="c15" cx="718.5" cy="691.8" r="6.9"/>
<circle class="c21" cx="931.5" cy="495.3" r="6.9"/>
<circle class="c22" cx="1061.2" cy="317.2" r="6.9"/>
<circle class="c10" cx="504.8" cy="240.4" r="6.9"/>
<circle class="c11" cx="482.5" cy="374.8" r="6.9"/>
<circle class="c14" cx="736.8" cy="880.8" r="6.9"/>
<circle class="c10" cx="335.1" cy="286.4" r="6.9"/>
<circle class="c9" cx="292.6" cy="350.5" r="6.9"/>
<circle class="c20" cx="596.4" cy="772.1" r="6.9"/>
<circle class="c8" cx="533.7" cy="518.9" r="6.9"/>
<circle class="c12" cx="639.2" cy="948.5" r="6.9"/>
<circle class="c13" cx="451.8" cy="741.6" r="6.9"/>
<circle class="c11" cx="360.2" cy="309.7" r="6.9"/>
<circle class="c10" cx="766.9" cy="457.9" r="6.9"/>
<circle class="c7" cx="343.0" cy="526.7" r="6.9"/>
<circle class="c8" cx="627.9" cy="990.7" r="6.9"/>
<circle class="c12" cx="723.7" cy="810.2" r="6.9"/>
<circle class="c13" cx="929.8" cy="337.6" r="6.9"/>
<circle class="c10" cx="449.9" cy="296.3" r="6.9"/>
<circle class="c11" cx="532.3" cy="242.1" r="6.9"/>
<circle class="c9" cx="611.7" cy="288.2" r="6.9"/>
<circle class="c13" cx="1051.6" cy="496.6" r="6.9"/>
<circle class="c15" cx="965.8" cy="804.1" r="6.9"/>
<circle class="c12" cx="320.5" cy="451.6" r="6.9"/>
<circle class="c8" cx="525.1" cy="342.4" r="6.9"/>
<circle class="c10" cx="783.9" cy="524.4" r="6.9"/>
<circle class="c11" cx="316.1" cy="534.0" r="6.9"/>
<circle class="c6" cx="684.4" cy="819.9" r="6.9"/>
<circle class="c12" cx="770.1" cy="495.6" r="6.9"/>
<circle class="c9" cx="361.7" cy="754.9" r="6.9"/>
<circle class="c16" cx="803.4" cy="768.9" r="6.9"/>
<circle class="c14" cx="735.2" cy="788.5" r="6.9"/>
<circle class="c13" cx="869.7" cy="847.4" r="6.9"/>
<circle class="c17" cx="682.5" cy="1027.8" r="6.9"/>
<circle class="c15" cx="942.7" cy="353.3" r="6.9"/>
<circle class="c14" cx="762.1" cy="299.9" r="6.9"/>
<circle class="c10" cx="559.3" cy="542.6" r="6.9"/>
<circle class="c7" cx="663.8" cy="245.4" r="6.9"/>
<circle class="c16" cx="608.1" cy="517.6" r="6.9"/>
<circle class="c12" cx="683.6" cy="759.1" r="6.9"/>
<circle class="c11" cx="474.1" cy="360.3" r="6.9"/>
<circle class="c6" cx="894.8" cy="632.7" r="6.9"/>
<circle class="c13" cx="771.8" cy="450.3" r="6.9"/>
<circle class="c12" cx="559.3" cy="256.7" r="6.9"/>
<circle class="c16" cx="971.0" cy="492.6" r="6.9"/>
<circle class="c10" cx="536.5" cy="240.3" r="6.9"/>
<circle class="c14" cx="555.6" cy="774.3" r="6.9"/>
<circle class="c15" cx="1015.7" cy="453.6" r="6.9"/>
<circle class="c15" cx="894.4" cy="915.6" r="6.9"/>
<circle class="c11" cx="453.1" cy="719.9" r="6.9"/>
<circle class="c10" cx="512.0" cy="920.1" r="6.9"/>
<circle class="c22" cx="894.4" cy="495.8" r="6.9"/>
<circle class="c20" cx="1063.6" cy="337.4" r="6.9"/>
<circle class="c14" cx="1043.7" cy="483.7" r="6.9"/>
<circle class="c11" cx="416.5" cy="279.8" r="6.9"/>
<circle class="c9" cx="332.5" cy="391.9" r="6.9"/>
<circle class="c16" cx="806.9" cy="883.4" r="6.9"/>
<circle class="c16" cx="906.4" cy="424.5" r="6.9"/>
<circle class="c2" cx="878.8" cy="677.5" r="6.9"/>
<circle class="c4" cx="905.0" cy="667.0" r="6.9"/>
<circle class="c15" cx="731.3" cy="850.9" r="6.9"/>
<circle class="c14" cx="801.2" cy="466.1" r="6.9"/>
<circle class="c3" cx="922.3" cy="647.5" r="6.9"/>
<circle class="c12" cx="492.9" cy="303.0" r="6.9"/>
<circle class="c8" cx="846.5" cy="594.9" r="6.9"/>
<circle class="c9" cx="373.6" cy="498.6" r="6.9"/>
<circle class="c9" cx="420.8" cy="322.0" r="6.9"/>
<circle class="c10" cx="710.6" cy="677.2" r="6.9"/>
<circle class="c13" cx="564.6" cy="746.9" r="6.9"/>
<circle class="c11" cx="341.0" cy="313.3" r="6.9"/>
<circle class="c15" cx="679.9" cy="1047.0" r="6.9"/>
<circle class="c10" cx="375.0" cy="462.0" r="6.9"/>
<circle class="c18" cx="947.1" cy="824.7" r="6.9"/>
<circle class="c21" cx="1026.9" cy="326.4" r="6.9"/>
<circle class="c17" cx="597.7" cy="411.9" r="6.9"/>
<circle class="c12" cx="340.9" cy="561.6" r="6.9"/>
<circle class="c15" cx="507.0" cy="520.8" r="6.9"/>
<circle class="c11" cx="359.7" cy="440.7" r="6.9"/>
<circle class="c8" cx="837.5" cy="569.7" r="6.9"/>
<circle class="c16" cx="898.0" cy="423.5" r="6.9"/>
<circle class="c19" cx="1012.3" cy="312.3" r="6.9"/>
<circle class="c9" cx="559.8" cy="946.8" r="6.9"/>
<circle class="c18" cx="862.0" cy="429.4" r="6.9"/>
<circle class="c18" cx="907.6" cy="940.1" r="6.9"/>
<circle class="c10" cx="521.2" cy="363.2" r="6.9"/>
<circle class="c13" cx="977.7" cy="422.3" r="6.9"/>
<circle class="c9" cx="689.7" cy="702.6" r="6.9"/>
<circle class="c14" cx="902.6" cy="517.0" r="6.9"/>
<circle class="c8" cx="714.5" cy="463.5" r="6.9"/>
<circle class="c19" cx="568.0" cy="471.3" r="6.9"/>
<circle class="c6" cx="745.8" cy="538.5" r="6.9"/>
<circle class="c7" cx="411.8" cy="849.4" r="6.9"/>
<circle class="c14" cx="862.5" cy="819.8" r="6.9"/>
<circle class="c11" cx="614.0" cy="282.6" r="6.9"/>
<circle class="c8" cx="441.4" cy="372.9" r="6.9"/>
<circle class="c16" cx="603.1" cy="433.3" r="6.9"/>
<circle class="c16" cx="730.3" cy="702.5" r="6.9"/>
<circle class="c14" cx="690.6" cy="745.0" r="6.9"/>
<circle class="c11" cx="302.0" cy="366.6" r="6.9"/>
<circle class="c16" cx="924.4" cy="802.8" r="6.9"/>
<circle class="c15" cx="563.1" cy="397.8" r="6.9"/>
<circle class="c9" cx="435.3" cy="746.4" r="6.9"/>
<circle class="c4" cx="862.2" cy="650.8" r="6.9"/>
<circle class="c13" cx="819.7" cy="876.0" r="6.9"/>
<circle class="c9" cx="314.2" cy="475.0" r="6.9"/>
<circle class="c7" cx="948.1" cy="583.0" r="6.9"/>
<circle class="c3" cx="895.5" cy="693.7" r="6.9"/>
<circle class="c5" cx="883.7" cy="631.3" r="6.9"/>
<circle class="c9" cx="547.5" cy="197.5" r="6.9"/>
<circle class="c19" cx="1002.1" cy="298.5" r="6.9"/>
<circle class="c20" cx="661.7" cy="1083.6" r="6.9"/>
<circle class="c6" cx="696.8" cy="859.6" r="6.9"/>
<circle class="c19" cx="1045.9" cy="352.6" r="6.9"/>
<circle class="c10" cx="392.1" cy="336.0" r="6.9"/>
<circle class="c15" cx="895.3" cy="524.4" r="6.9"/>
<circle class="c11" cx="690.0" cy="756.9" r="6.9"/>
<circle class="c15" cx="1017.0" cy="462.2" r="6.9"/>
<circle class="c10" cx="876.4" cy="832.0" r="6.9"/>
<circle class="c12" cx="471.7" cy="365.2" r="6.9"/>
<circle class="c13" cx="795.6" cy="841.6" r="6.9"/>
<circle class="c11" cx="282.8" cy="461.5" r="6.9"/>
<circle class="c16" cx="941.0" cy="889.7" r="6.9"/>
<circle class="c17" cx="877.1" cy="413.7" r="6.9"/>
<circle class="c10" cx="440.5" cy="398.1" r="6.9"/>
<circle class="c17" cx="1053.7" cy="368.4" r="6.9"/>
<circle class="c11" cx="369.3" cy="518.4" r="6.9"/>
<circle class="c6" cx="791.3" cy="517.0" r="6.9"/>
<circle class="c9" cx="391.7" cy="421.2" r="6.9"/>
<circle class="c13" cx="582.8" cy="802.8" r="6.9"/>
<circle class="c10" cx="647.5" cy="847.1" r="6.9"/>
<circle class="c12" cx="671.8" cy="884.0" r="6.9"/>
<circle class="c8" cx="946.5" cy="646.0" r="6.9"/>
<circle class="c14" cx="876.9" cy="908.6" r="6.9"/>
<circle class="c3" cx="952.5" cy="660.1" r="6.9"/>
<circle class="c5" cx="954.9" cy="656.8" r="6.9"/>
<circle class="c14" cx="344.3" cy="332.3" r="6.9"/>
<circle class="c13" cx="579.3" cy="755.4" r="6.9"/>
<circle class="c10" cx="644.1" cy="515.8" r="6.9"/>
<circle class="c8" cx="721.3" cy="788.2" r="6.9"/>
<circle class="c14" cx="670.2" cy="1029.2" r="6.9"/>
<circle class="c10" cx="812.0" cy="733.4" r="6.9"/>
<circle class="c11" cx="635.3" cy="934.6" r="6.9"/>
<circle class="c12" cx="723.6" cy="871.8" r="6.9"/>
<circle class="c8" cx="489.0" cy="703.5" r="6.9"/>
<circle class="c10" cx="425.1" cy="318.3" r="6.9"/>
<circle class="c13" cx="398.3" cy="242.5" r="6.9"/>
<circle class="c15" cx="748.9" cy="247.3" r="6.9"/>
<circle class="c8" cx="861.4" cy="531.8" r="6.9"/>
<circle class="c6" cx="985.7" cy="652.2" r="6.9"/>
<circle class="c11" cx="504.1" cy="497.3" r="6.9"/>
<circle class="c18" cx="572.3" cy="472.1" r="6.9"/>
<circle class="c10" cx="377.3" cy="318.8" r="6.9"/>
<circle class="c12" cx="390.7" cy="320.2" r="6.9"/>
<circle class="c10" cx="695.2" cy="756.4" r="6.9"/>
<circle class="c12" cx="489.2" cy="331.1" r="6.9"/>
<circle class="c12" cx="800.8" cy="446.2" r="6.9"/>
<circle class="c19" cx="845.1" cy="896.9" r="6.9"/>
<circle class="c14" cx="822.2" cy="439.8" r="6.9"/>
<circle class="c13" cx="761.9" cy="692.0" r="6.9"/>
<circle class="c14" cx="618.4" cy="799.5" r="6.9"/>
<circle class="c11" cx="364.3" cy="301.7" r="6.9"/>
<circle class="c15" cx="813.1" cy="937.3" r="6.9"/>
<circle class="c11" cx="509.8" cy="219.6" r="6.9"/>
<circle class="c10" cx="340.0" cy="362.7" r="6.9"/>
<circle class="c14" cx="883.9" cy="819.4" r="6.9"/>
<circle class="c13" cx="603.5" cy="758.5" r="6.9"/>
<circle class="c16" cx="565.2" cy="846.2" r="6.9"/>
<circle class="c15" cx="618.3" cy="811.6" r="6.9"/>
<circle class="c9" cx="709.9" cy="630.7" r="6.9"/>
<circle class="c3" cx="883.4" cy="666.4" r="6.9"/>
<circle class="c10" cx="653.8" cy="931.8" r="6.9"/>
<circle class="c16" cx="1033.4" cy="480.9" r="6.9"/>
<circle class="c8" cx="388.2" cy="511.8" r="6.9"/>
<circle class="c17" cx="786.5" cy="886.9" r="6.9"/>
<circle class="c17" cx="913.0" cy="793.4" r="6.9"/>
<circle class="c7" cx="693.5" cy="823.5" r="6.9"/>
<circle class="c8" cx="547.1" cy="340.3" r="6.9"/>
<circle class="c11" cx="387.4" cy="420.9" r="6.9"/>
<circle class="c8" cx="493.6" cy="730.5" r="6.9"/>
<circle class="c16" cx="885.4" cy="439.5" r="6.9"/>
<circle class="c10" cx="522.0" cy="938.1" r="6.9"/>
<circle class="c15" cx="611.2" cy="830.1" r="6.9"/>
<circle class="c12" cx="877.8" cy="311.0" r="6.9"/>
<circle class="c4" cx="891.8" cy="626.3" r="6.9"/>
<circle class="c11" cx="652.8" cy="248.3" r="6.9"/>
<circle class="c17" cx="987.4" cy="437.3" r="6.9"/>
<circle class="c16" cx="861.4" cy="914.1" r="6.9"/>
<circle class="c6" cx="358.2" cy="732.8" r="6.9"/>
<circle class="c15" cx="857.6" cy="849.2" r="6.9"/>
<circle class="c9" cx="743.4" cy="762.7" r="6.9"/>
<circle class="c8" cx="508.5" cy="472.4" r="6.9"/>
<circle class="c11" cx="527.9" cy="371.5" r="6.9"/>
<circle class="c10" cx="644.6" cy="875.5" r="6.9"/>
<circle class="c18" cx="930.9" cy="490.1" r="6.9"/>
<circle class="c6" cx="428.9" cy="699.0" r="6.9"/>
<circle class="c13" cx="578.6" cy="908.1" r="6.9"/>
<circle class="c10" cx="494.6" cy="961.9" r="6.9"/>
<circle class="c12" cx="372.6" cy="489.6" r="6.9"/>
<circle class="c17" cx="953.9" cy="439.4" r="6.9"/>
<circle class="c18" cx="770.2" cy="430.3" r="6.9"/>
<circle class="c14" cx="745.4" cy="848.8" r="6.9"/>
<circle class="c20" cx="981.4" cy="298.7" r="6.9"/>
<circle class="c8" cx="690.6" cy="472.9" r="6.9"/>
<circle class="c9" cx="371.4" cy="472.7" r="6.9"/>
<circle class="c9" cx="595.3" cy="969.0" r="6.9"/>
<circle class="c17" cx="989.4" cy="778.3" r="6.9"/>
<circle class="c10" cx="493.5" cy="220.2" r="6.9"/>
<circle class="c10" cx="351.4" cy="311.4" r="6.9"/>
<circle class="c11" cx="316.7" cy="284.1" r="6.9"/>
<circle class="c16" cx="949.0" cy="411.0" r="6.9"/>
<circle class="c18" cx="1041.5" cy="344.6" r="6.9"/>
<circle class="c7" cx="667.7" cy="238.5" r="6.9"/>
<circle class="c8" cx="715.3" cy="469.9" r="6.9"/>
<circle class="c9" cx="662.1" cy="294.9" r="6.9"/>
<circle class="c13" cx="527.2" cy="1042.7" r="6.9"/>
<circle class="c15" cx="888.6" cy="836.3" r="6.9"/>
<circle class="c6" cx="542.4" cy="355.1" r="6.9"/>
<circle class="c13" cx="656.3" cy="781.0" r="6.9"/>
<circle class="c16" cx="602.8" cy="723.4" r="6.9"/>
<circle class="c5" cx="414.0" cy="824.8" r="6.9"/>
<circle class="c18" cx="918.9" cy="888.4" r="6.9"/>
<circle class="c12" cx="874.7" cy="949.1" r="6.9"/>
<circle class="c13" cx="380.0" cy="499.4" r="6.9"/>
<circle class="c18" cx="657.1" cy="1071.6" r="6.9"/>
<circle class="c17" cx="1003.8" cy="251.2" r="6.9"/>
<circle class="c8" cx="402.9" cy="800.1" r="6.9"/>
<circle class="c7" cx="520.8" cy="748.5" r="6.9"/>
<circle class="c14" cx="805.9" cy="908.6" r="6.9"/>
<circle class="c10" cx="415.6" cy="331.0" r="6.9"/>
<circle class="c12" cx="868.4" cy="819.8" r="6.9"/>
<circle class="c6" cx="481.9" cy="913.3" r="6.9"/>
<circle class="c12" cx="327.7" cy="325.9" r="6.9"/>
<circle class="c13" cx="1019.2" cy="822.9" r="6.9"/>
<circle class="c13" cx="948.4" cy="888.0" r="6.9"/>
<circle class="c10" cx="695.4" cy="467.2" r="6.9"/>
<circle class="c17" cx="1054.4" cy="448.0" r="6.9"/>
<circle class="c18" cx="642.3" cy="1060.5" r="6.9"/>
<circle class="c8" cx="484.2" cy="320.4" r="6.9"/>
<circle class="c12" cx="584.8" cy="1070.8" r="6.9"/>
<circle class="c9" cx="483.7" cy="266.7" r="6.9"/>
<circle class="c11" cx="380.3" cy="495.1" r="6.9"/>
<circle class="c7" cx="769.0" cy="554.6" r="6.9"/>
<circle class="c14" cx="636.4" cy="1018.6" r="6.9"/>
<circle class="c12" cx="728.9" cy="711.2" r="6.9"/>
<circle class="c13" cx="679.6" cy="879.0" r="6.9"/>
<circle class="c8" cx="417.4" cy="842.3" r="6.9"/>
<circle class="c17" cx="934.2" cy="901.3" r="6.9"/>
<circle class="c19" cx="1055.6" cy="322.1" r="6.9"/>
<circle class="c11" cx="801.3" cy="643.3" r="6.9"/>
<circle class="c10" cx="533.7" cy="197.1" r="6.9"/>
<circle class="c16" cx="835.3" cy="897.7" r="6.9"/>
<circle class="c14" cx="670.5" cy="274.3" r="6.9"/>
<circle class="c16" cx="880.2" cy="822.7" r="6.9"/>
<circle class="c10" cx="545.4" cy="899.9" r="6.9"/>
<circle class="c16" cx="909.1" cy="594.4" r="6.9"/>
<circle class="c5" cx="930.7" cy="662.8" r="6.9"/>
<circle class="c11" cx="515.9" cy="339.5" r="6.9"/>
<circle class="c15" cx="775.2" cy="281.2" r="6.9"/>
<circle class="c11" cx="678.3" cy="968.3" r="6.9"/>
<circle class="c9" cx="388.8" cy="817.8" r="6.9"/>
<circle class="c7" cx="829.8" cy="578.7" r="6.9"/>
<circle class="c12" cx="347.5" cy="356.9" r="6.9"/>
<circle class="c17" cx="839.8" cy="854.8" r="6.9"/>
<circle class="c5" cx="790.8" cy="635.8" r="6.9"/>
<circle class="c14" cx="887.8" cy="789.4" r="6.9"/>
<circle class="c2" cx="974.3" cy="668.5" r="6.9"/>
<circle class="c12" cx="606.7" cy="495.0" r="6.9"/>
<circle class="c10" cx="842.1" cy="540.7" r="6.9"/>
<circle class="c10" cx="619.0" cy="984.0" r="6.9"/>
<circle class="c11" cx="380.4" cy="314.2" r="6.9"/>
<circle class="c14" cx="626.0" cy="529.9" r="6.9"/>
<circle class="c14" cx="963.5" cy="799.0" r="6.9"/>
<circle class="c4" cx="891.0" cy="636.0" r="6.9"/>
<circle class="c14" cx="578.7" cy="867.4" r="6.9"/>
<circle class="c8" cx="626.7" cy="235.5" r="6.9"/>
<circle class="c8" cx="767.7" cy="490.6" r="6.9"/>
<circle class="c14" cx="686.2" cy="717.0" r="6.9"/>
<circle class="c7" cx="280.7" cy="494.5" r="6.9"/>
<circle class="c11" cx="822.2" cy="761.5" r="6.9"/>
<circle class="c9" cx="549.1" cy="834.8" r="6.9"/>
<circle class="c8" cx="614.2" cy="236.9" r="6.9"/>
<circle class="c8" cx="670.7" cy="222.3" r="6.9"/>
<circle class="c12" cx="564.4" cy="1009.9" r="6.9"/>
<circle class="c17" cx="1035.3" cy="347.6" r="6.9"/>
<circle class="c13" cx="519.3" cy="199.3" r="6.9"/>
<circle class="c10" cx="533.6" cy="299.6" r="6.9"/>
<circle class="c10" cx="558.8" cy="287.8" r="6.9"/>
<circle class="c9" cx="525.4" cy="315.1" r="6.9"/>
<circle class="c11" cx="752.6" cy="686.8" r="6.9"/>
<circle class="c10" cx="606.0" cy="296.9" r="6.9"/>
<circle class="c13" cx="367.3" cy="305.9" r="6.9"/>
<circle class="c12" cx="365.3" cy="488.8" r="6.9"/>
<circle class="c17" cx="890.6" cy="859.6" r="6.9"/>
<circle class="c8" cx="469.9" cy="931.5" r="6.9"/>
<circle class="c11" cx="384.8" cy="378.4" r="6.9"/>
<circle class="c18" cx="1029.2" cy="813.9" r="6.9"/>
<circle class="c8" cx="578.8" cy="892.3" r="6.9"/>
<circle class="c10" cx="621.3" cy="758.7" r="6.9"/>
<circle class="c14" cx="704.8" cy="867.0" r="6.9"/>
<circle class="c11" cx="676.6" cy="676.4" r="6.9"/>
<circle class="c12" cx="529.9" cy="492.7" r="6.9"/>
<circle class="c12" cx="470.4" cy="330.0" r="6.9"/>
<circle class="c6" cx="782.1" cy="519.0" r="6.9"/>
<circle class="c11" cx="284.3" cy="470.9" r="6.9"/>
<circle class="c17" cx="947.0" cy="381.3" r="6.9"/>
<circle class="c9" cx="348.3" cy="536.5" r="6.9"/>
<circle class="c18" cx="760.9" cy="831.9" r="6.9"/>
<circle class="c15" cx="784.6" cy="875.1" r="6.9"/>
<circle class="c11" cx="377.9" cy="473.1" r="6.9"/>
<circle class="c6" cx="807.0" cy="615.2" r="6.9"/>
<circle class="c11" cx="522.0" cy="546.5" r="6.9"/>
<circle class="c6" cx="768.2" cy="562.2" r="6.9"/>
<circle class="c10" cx="552.6" cy="939.8" r="6.9"/>
<circle class="c12" cx="844.8" cy="531.3" r="6.9"/>
<circle class="c9" cx="356.2" cy="490.6" r="6.9"/>
<circle class="c10" cx="759.3" cy="484.7" r="6.9"/>
<circle class="c12" cx="519.1" cy="316.6" r="6.9"/>
<circle class="c10" cx="709.5" cy="695.8" r="6.9"/>
<circle class="c10" cx="366.1" cy="552.4" r="6.9"/>
<circle class="c11" cx="324.2" cy="282.1" r="6.9"/>
<circle class="c13" cx="698.5" cy="816.9" r="6.9"/>
<circle class="c13" cx="659.6" cy="819.5" r="6.9"/>
<circle class="c12" cx="920.4" cy="876.5" r="6.9"/>
<circle class="c15" cx="755.7" cy="1023.5" r="6.9"/>
<circle class="c11" cx="569.6" cy="912.7" r="6.9"/>
<circle class="c13" cx="701.9" cy="1034.2" r="6.9"/>
<circle class="c16" cx="901.0" cy="809.7" r="6.9"/>
<circle class="c9" cx="773.6" cy="754.1" r="6.9"/>
<circle class="c15" cx="734.5" cy="249.7" r="6.9"/>
<circle class="c11" cx="832.7" cy="759.6" r="6.9"/>
<circle class="c20" cx="792.4" cy="898.2" r="6.9"/>
<circle class="c20" cx="1105.0" cy="489.6" r="6.9"/>
<circle class="c12" cx="782.1" cy="432.4" r="6.9"/>
<circle class="c21" cx="600.2" cy="802.5" r="6.9"/>
<circle class="c5" cx="908.4" cy="661.1" r="6.9"/>
<circle class="c15" cx="782.2" cy="788.2" r="6.9"/>
<circle class="c10" cx="379.1" cy="839.8" r="6.9"/>
<circle class="c12" cx="693.2" cy="309.3" r="6.9"/>
<circle class="c6" cx="894.0" cy="654.4" r="6.9"/>
<circle class="c11" cx="616.6" cy="247.3" r="6.9"/>
<circle class="c8" cx="406.2" cy="252.1" r="6.9"/>
<circle class="c15" cx="895.4" cy="824.8" r="6.9"/>
<circle class="c11" cx="580.7" cy="252.5" r="6.9"/>
<circle class="c10" cx="461.9" cy="371.2" r="6.9"/>
<circle class="c9" cx="353.0" cy="783.5" r="6.9"/>
<circle class="c15" cx="678.4" cy="955.3" r="6.9"/>
<circle class="c14" cx="599.6" cy="542.2" r="6.9"/>
<circle class="c9" cx="512.5" cy="285.3" r="6.9"/>
<circle class="c4" cx="871.6" cy="611.0" r="6.9"/>
<circle class="c15" cx="559.1" cy="819.7" r="6.9"/>
<circle class="c13" cx="367.9" cy="461.9" r="6.9"/>
<circle class="c6" cx="923.4" cy="673.7" r="6.9"/>
<circle class="c17" cx="605.1" cy="468.1" r="6.9"/>
<circle class="c18" cx="674.7" cy="1042.5" r="6.9"/>
<circle class="c10" cx="583.8" cy="975.9" r="6.9"/>
<circle class="c6" cx="899.5" cy="641.7" r="6.9"/>
<circle class="c21" cx="1102.7" cy="482.7" r="6.9"/>
<circle class="c5" cx="918.1" cy="654.2" r="6.9"/>
<circle class="c14" cx="591.0" cy="549.2" r="6.9"/>
<circle class="c5" cx="953.2" cy="649.3" r="6.9"/>
<circle class="c12" cx="441.3" cy="286.9" r="6.9"/>
<circle class="c14" cx="873.7" cy="942.7" r="6.9"/>
<circle class="c15" cx="702.3" cy="294.0" r="6.9"/>
<circle class="c19" cx="782.2" cy="838.6" r="6.9"/>
<circle class="c7" cx="686.9" cy="486.7" r="6.9"/>
<circle class="c10" cx="691.7" cy="804.7" r="6.9"/>
<circle class="c9" cx="819.8" cy="616.4" r="6.9"/>
<circle class="c4" cx="892.4" cy="643.4" r="6.9"/>
<circle class="c14" cx="561.0" cy="575.4" r="6.9"/>
<circle class="c19" cx="1006.8" cy="313.9" r="6.9"/>
<circle class="c8" cx="415.6" cy="698.0" r="6.9"/>
<circle class="c14" cx="884.5" cy="924.5" r="6.9"/>
<circle class="c16" cx="956.0" cy="408.1" r="6.9"/>
<circle class="c8" cx="435.6" cy="730.8" r="6.9"/>
<circle class="c12" cx="804.6" cy="450.2" r="6.9"/>
<circle class="c14" cx="1031.0" cy="340.2" r="6.9"/>
<circle class="c16" cx="681.7" cy="1054.3" r="6.9"/>
<circle class="c13" cx="620.9" cy="827.4" r="6.9"/>
<circle class="c19" cx="877.0" cy="802.9" r="6.9"/>
<circle class="c7" cx="521.8" cy="376.0" r="6.9"/>
<circle class="c14" cx="707.8" cy="738.7" r="6.9"/>
<circle class="c18" cx="606.0" cy="506.8" r="6.9"/>
<circle class="c12" cx="344.4" cy="564.8" r="6.9"/>
<circle class="c17" cx="598.0" cy="525.4" r="6.9"/>
<circle class="c14" cx="897.5" cy="843.1" r="6.9"/>
<circle class="c11" cx="552.4" cy="326.4" r="6.9"/>
<circle class="c11" cx="628.1" cy="733.4" r="6.9"/>
<circle class="c11" cx="737.5" cy="235.6" r="6.9"/>
<circle class="c10" cx="361.3" cy="522.5" r="6.9"/>
<circle class="c15" cx="333.3" cy="317.0" r="6.9"/>
<circle class="c9" cx="499.8" cy="252.7" r="6.9"/>
<circle class="c15" cx="511.7" cy="771.2" r="6.9"/>
<circle class="c13" cx="362.8" cy="318.0" r="6.9"/>
<circle class="c11" cx="464.6" cy="309.8" r="6.9"/>
<circle class="c15" cx="670.9" cy="1014.8" r="6.9"/>
<circle class="c11" cx="728.0" cy="303.4" r="6.9"/>
<circle class="c9" cx="572.5" cy="310.6" r="6.9"/>
<circle class="c9" cx="485.8" cy="967.8" r="6.9"/>
<circle class="c14" cx="760.6" cy="464.2" r="6.9"/>
<circle class="c8" cx="744.6" cy="312.4" r="6.9"/>
<circle class="c9" cx="753.4" cy="503.0" r="6.9"/>
<circle class="c18" cx="903.5" cy="822.7" r="6.9"/>
<circle class="c7" cx="412.8" cy="366.8" r="6.9"/>
<circle class="c12" cx="528.9" cy="472.9" r="6.9"/>
<circle class="c9" cx="457.9" cy="255.7" r="6.9"/>
<circle class="c11" cx="573.0" cy="972.8" r="6.9"/>
<circle class="c14" cx="946.3" cy="846.1" r="6.9"/>
<circle class="c11" cx="318.1" cy="383.3" r="6.9"/>
<circle class="c16" cx="973.2" cy="447.2" r="6.9"/>
<circle class="c6" cx="900.9" cy="616.1" r="6.9"/>
<circle class="c10" cx="499.4" cy="292.9" r="6.9"/>
<circle class="c11" cx="501.6" cy="265.3" r="6.9"/>
<circle class="c11" cx="314.9" cy="450.1" r="6.9"/>
<circle class="c18" cx="1010.1" cy="447.0" r="6.9"/>
<circle class="c8" cx="642.7" cy="826.1" r="6.9"/>
<circle class="c11" cx="589.1" cy="540.4" r="6.9"/>
<circle class="c12" cx="598.4" cy="547.7" r="6.9"/>
<circle class="c10" cx="763.8" cy="743.1" r="6.9"/>
<circle class="c14" cx="889.5" cy="926.1" r="6.9"/>
<circle class="c10" cx="589.6" cy="301.4" r="6.9"/>
<circle class="c13" cx="446.3" cy="316.5" r="6.9"/>
<circle class="c11" cx="606.8" cy="919.8" r="6.9"/>
<circle class="c10" cx="543.9" cy="866.9" r="6.9"/>
<circle class="c11" cx="998.5" cy="854.1" r="6.9"/>
<circle class="c22" cx="1056.8" cy="306.1" r="6.9"/>
<circle class="c8" cx="591.1" cy="308.6" r="6.9"/>
<circle class="c10" cx="766.7" cy="523.8" r="6.9"/>
<circle class="c18" cx="921.5" cy="883.1" r="6.9"/>
<circle class="c14" cx="801.9" cy="823.4" r="6.9"/>
<circle class="c19" cx="916.5" cy="869.8" r="6.9"/>
<circle class="c11" cx="352.0" cy="496.9" r="6.9"/>
<circle class="c5" cx="940.3" cy="631.5" r="6.9"/>
<circle class="c10" cx="756.8" cy="705.8" r="6.9"/>
<circle class="c6" cx="938.5" cy="654.7" r="6.9"/>
<circle class="c15" cx="415.9" cy="324.7" r="6.9"/>
<circle class="c10" cx="417.4" cy="294.5" r="6.9"/>
<circle class="c8" cx="810.8" cy="640.5" r="6.9"/>
<circle class="c11" cx="454.1" cy="340.4" r="6.9"/>
<circle class="c15" cx="619.1" cy="530.4" r="6.9"/>
<circle class="c14" cx="992.8" cy="309.1" r="6.9"/>
<circle class="c15" cx="874.9" cy="855.9" r="6.9"/>
<circle class="c14" cx="864.7" cy="406.9" r="6.9"/>
<circle class="c8" cx="876.9" cy="554.2" r="6.9"/>
<circle class="c19" cx="551.3" cy="421.3" r="6.9"/>
<circle class="c16" cx="820.2" cy="921.7" r="6.9"/>
<circle class="c14" cx="522.6" cy="998.6" r="6.9"/>
<circle class="c15" cx="980.0" cy="320.5" r="6.9"/>
<circle class="c9" cx="530.5" cy="220.1" r="6.9"/>
<circle class="c8" cx="680.2" cy="461.0" r="6.9"/>
<circle class="c11" cx="877.3" cy="573.8" r="6.9"/>
<circle class="c7" cx="853.6" cy="565.3" r="6.9"/>
<circle class="c10" cx="459.2" cy="761.1" r="6.9"/>
<circle class="c18" cx="842.8" cy="929.1" r="6.9"/>
<circle class="c6" cx="564.7" cy="906.9" r="6.9"/>
<circle class="c18" cx="685.2" cy="1049.4" r="6.9"/>
<circle class="c13" cx="699.7" cy="811.1" r="6.9"/>
<circle class="c11" cx="342.8" cy="458.1" r="6.9"/>
<circle class="c19" cx="988.8" cy="299.5" r="6.9"/>
<circle class="c10" cx="567.5" cy="970.5" r="6.9"/>
<circle class="c11" cx="897.6" cy="306.6" r="6.9"/>
<circle class="c14" cx="578.4" cy="771.7" r="6.9"/>
<circle class="c16" cx="551.9" cy="488.8" r="6.9"/>
<circle class="c15" cx="348.2" cy="408.7" r="6.9"/>
<circle class="c12" cx="612.9" cy="839.5" r="6.9"/>
<circle class="c7" cx="505.8" cy="947.5" r="6.9"/>
<circle class="c9" cx="659.4" cy="230.4" r="6.9"/>
<circle class="c11" cx="296.6" cy="426.8" r="6.9"/>
<circle class="c9" cx="432.3" cy="859.3" r="6.9"/>
<circle class="c11" cx="463.0" cy="347.6" r="6.9"/>
<circle class="c12" cx="717.9" cy="224.2" r="6.9"/>
<circle class="c10" cx="545.7" cy="189.8" r="6.9"/>
<circle class="c15" cx="722.3" cy="861.0" r="6.9"/>
<circle class="c9" cx="760.2" cy="701.5" r="6.9"/>
<circle class="c3" cx="902.8" cy="670.7" r="6.9"/>
<circle class="c18" cx="625.8" cy="478.2" r="6.9"/>
<circle class="c11" cx="674.1" cy="708.2" r="6.9"/>
<circle class="c15" cx="773.8" cy="799.9" r="6.9"/>
<circle class="c4" cx="926.5" cy="667.7" r="6.9"/>
<circle class="c17" cx="734.1" cy="1025.4" r="6.9"/>
<circle class="c9" cx="547.2" cy="936.6" r="6.9"/>
<circle class="c12" cx="716.7" cy="637.4" r="6.9"/>
<circle class="c8" cx="497.7" cy="334.9" r="6.9"/>
<circle class="c13" cx="634.8" cy="834.8" r="6.9"/>
<circle class="c12" cx="643.3" cy="831.4" r="6.9"/>
<circle class="c10" cx="389.0" cy="573.2" r="6.9"/>
<circle class="c16" cx="1007.3" cy="471.3" r="6.9"/>
<circle class="c15" cx="549.2" cy="434.6" r="6.9"/>
<circle class="c8" cx="367.2" cy="802.4" r="6.9"/>
<circle class="c12" cx="654.1" cy="974.1" r="6.9"/>
<circle class="c17" cx="617.3" cy="886.3" r="6.9"/>
<circle class="c14" cx="543.1" cy="1057.3" r="6.9"/>
<circle class="c7" cx="793.5" cy="624.3" r="6.9"/>
<circle class="c9" cx="838.6" cy="577.3" r="6.9"/>
<circle class="c10" cx="499.1" cy="772.5" r="6.9"/>
<circle class="c14" cx="993.3" cy="320.0" r="6.9"/>
<circle class="c14" cx="689.9" cy="733.5" r="6.9"/>
<circle class="c15" cx="600.0" cy="962.3" r="6.9"/>
<circle class="c10" cx="337.3" cy="443.2" r="6.9"/>
<circle class="c17" cx="1062.6" cy="372.2" r="6.9"/>
<circle class="c10" cx="534.3" cy="548.3" r="6.9"/>
<circle class="c11" cx="606.6" cy="996.7" r="6.9"/>
<circle class="c18" cx="1061.4" cy="322.5" r="6.9"/>
<circle class="c9" cx="307.2" cy="454.4" r="6.9"/>
<circle class="c9" cx="395.0" cy="263.5" r="6.9"/>
<circle class="c15" cx="873.9" cy="587.2" r="6.9"/>
<circle class="c9" cx="631.6" cy="247.7" r="6.9"/>
<circle class="c13" cx="622.7" cy="1067.7" r="6.9"/>
<circle class="c11" cx="448.2" cy="715.7" r="6.9"/>
<circle class="c9" cx="554.2" cy="187.7" r="6.9"/>
<circle class="c17" cx="889.9" cy="385.7" r="6.9"/>
<circle class="c6" cx="589.4" cy="326.1" r="6.9"/>
<circle class="c12" cx="356.9" cy="264.9" r="6.9"/>
<circle class="c14" cx="534.2" cy="443.3" r="6.9"/>
<circle class="c11" cx="383.4" cy="570.7" r="6.9"/>
<circle class="c7" cx="387.4" cy="844.7" r="6.9"/>
<circle class="c11" cx="718.5" cy="649.4" r="6.9"/>
<circle class="c11" cx="430.3" cy="375.5" r="6.9"/>
<circle class="c14" cx="681.3" cy="865.9" r="6.9"/>
<circle class="c11" cx="740.7" cy="704.0" r="6.9"/>
<circle class="c15" cx="351.5" cy="573.6" r="6.9"/>
<circle class="c7" cx="657.1" cy="465.7" r="6.9"/>
<circle class="c13" cx="333.8" cy="419.8" r="6.9"/>
<circle class="c17" cx="815.9" cy="851.2" r="6.9"/>
<circle class="c14" cx="666.3" cy="740.2" r="6.9"/>
<circle class="c6" cx="945.4" cy="661.7" r="6.9"/>
<circle class="c16" cx="847.5" cy="874.4" r="6.9"/>
<circle class="c9" cx="481.1" cy="940.9" r="6.9"/>
<circle class="c9" cx="595.2" cy="962.3" r="6.9"/>
<circle class="c5" cx="933.2" cy="645.4" r="6.9"/>
<circle class="c19" cx="794.1" cy="855.3" r="6.9"/>
<circle class="c12" cx="389.3" cy="285.4" r="6.9"/>
<circle class="c14" cx="901.5" cy="802.4" r="6.9"/>
<circle class="c18" cx="1005.1" cy="302.8" r="6.9"/>
<circle class="c11" cx="859.5" cy="716.0" r="6.9"/>
<circle class="c11" cx="540.3" cy="895.1" r="6.9"/>
<circle class="c12" cx="455.6" cy="285.1" r="6.9"/>
<circle class="c9" cx="544.9" cy="878.6" r="6.9"/>
<circle class="c7" cx="743.7" cy="492.6" r="6.9"/>
<circle class="c10" cx="739.1" cy="755.0" r="6.9"/>
<circle class="c16" cx="624.1" cy="1019.4" r="6.9"/>
<circle class="c7" cx="307.9" cy="310.2" r="6.9"/>
<circle class="c13" cx="720.3" cy="831.2" r="6.9"/>
<circle class="c7" cx="747.0" cy="685.8" r="6.9"/>
<circle class="c13" cx="704.4" cy="746.5" r="6.9"/>
<circle class="c14" cx="338.7" cy="330.1" r="6.9"/>
<circle class="c10" cx="584.9" cy="705.0" r="6.9"/>
<circle class="c12" cx="530.3" cy="332.2" r="6.9"/>
<circle class="c16" cx="801.9" cy="896.0" r="6.9"/>
<circle class="c7" cx="528.0" cy="234.2" r="6.9"/>
<circle class="c13" cx="531.5" cy="1017.9" r="6.9"/>
<circle class="c5" cx="973.2" cy="679.3" r="6.9"/>
<circle class="c13" cx="548.2" cy="1032.7" r="6.9"/>
<circle class="c15" cx="955.0" cy="807.3" r="6.9"/>
<circle class="c17" cx="873.0" cy="404.9" r="6.9"/>
<circle class="c10" cx="423.8" cy="760.5" r="6.9"/>
<circle class="c10" cx="736.9" cy="914.4" r="6.9"/>
<circle class="c15" cx="494.3" cy="263.7" r="6.9"/>
<circle class="c10" cx="515.0" cy="383.8" r="6.9"/>
<circle class="c12" cx="451.8" cy="368.0" r="6.9"/>
<circle class="c5" cx="959.1" cy="671.5" r="6.9"/>
<circle class="c7" cx="420.3" cy="718.7" r="6.9"/>
<circle class="c8" cx="407.7" cy="396.2" r="6.9"/>
<circle class="c7" cx="523.5" cy="254.2" r="6.9"/>
<circle class="c11" cx="411.9" cy="412.4" r="6.9"/>
<circle class="c11" cx="628.9" cy="861.9" r="6.9"/>
<circle class="c14" cx="650.1" cy="817.9" r="6.9"/>
<circle class="c9" cx="495.8" cy="320.2" r="6.9"/>
<circle class="c8" cx="314.5" cy="481.9" r="6.9"/>
<circle class="c14" cx="292.0" cy="420.4" r="6.9"/>
<circle class="c9" cx="393.6" cy="838.9" r="6.9"/>
<circle class="c10" cx="293.2" cy="365.6" r="6.9"/>
<circle class="c11" cx="622.7" cy="256.3" r="6.9"/>
<circle class="c14" cx="780.5" cy="898.2" r="6.9"/>
<circle class="c13" cx="829.9" cy="959.2" r="6.9"/>
<circle class="c10" cx="415.6" cy="234.0" r="6.9"/>
<circle class="c11" cx="350.2" cy="400.6" r="6.9"/>
<circle class="c11" cx="671.5" cy="790.2" r="6.9"/>
<circle class="c13" cx="360.8" cy="482.7" r="6.9"/>
<circle class="c11" cx="546.9" cy="364.1" r="6.9"/>
<circle class="c11" cx="661.4" cy="203.7" r="6.9"/>
<circle class="c12" cx="507.7" cy="767.4" r="6.9"/>
<circle class="c16" cx="934.7" cy="311.3" r="6.9"/>
<circle class="c10" cx="738.4" cy="698.1" r="6.9"/>
<circle class="c12" cx="897.1" cy="805.5" r="6.9"/>
<circle class="c6" cx="917.9" cy="621.9" r="6.9"/>
<circle class="c7" cx="536.2" cy="527.0" r="6.9"/>
<circle class="c11" cx="305.7" cy="299.9" r="6.9"/>
<circle class="c9" cx="442.3" cy="327.5" r="6.9"/>
<circle class="c18" cx="908.4" cy="400.0" r="6.9"/>
<circle class="c14" cx="655.7" cy="494.3" r="6.9"/>
<circle class="c5" cx="381.9" cy="804.1" r="6.9"/>
<circle class="c10" cx="706.0" cy="236.9" r="6.9"/>
<circle class="c8" cx="850.8" cy="535.3" r="6.9"/>
<circle class="c10" cx="518.0" cy="369.5" r="6.9"/>
<circle class="c11" cx="825.5" cy="880.7" r="6.9"/>
<circle class="c16" cx="897.5" cy="364.4" r="6.9"/>
<circle class="c18" cx="828.5" cy="870.6" r="6.9"/>
<circle class="c14" cx="988.5" cy="834.7" r="6.9"/>
<circle class="c9" cx="363.7" cy="330.3" r="6.9"/>
<circle class="c9" cx="562.8" cy="261.4" r="6.9"/>
<circle class="c11" cx="393.7" cy="413.6" r="6.9"/>
<circle class="c8" cx="504.8" cy="709.6" r="6.9"/>
<circle class="c14" cx="791.3" cy="447.8" r="6.9"/>
<circle class="c20" cx="622.9" cy="494.0" r="6.9"/>
<circle class="c17" cx="650.3" cy="1041.3" r="6.9"/>
<circle class="c14" cx="706.3" cy="655.3" r="6.9"/>
<circle class="c19" cx="579.3" cy="513.0" r="6.9"/>
<circle class="c12" cx="338.0" cy="428.0" r="6.9"/>
<circle class="c9" cx="766.5" cy="738.0" r="6.9"/>
<circle class="c7" cx="978.5" cy="676.1" r="6.9"/>
<circle class="c12" cx="317.3" cy="314.0" r="6.9"/>
<circle class="c19" cx="703.0" cy="1044.2" r="6.9"/>
<circle class="c11" cx="550.5" cy="919.6" r="6.9"/>
<circle class="c13" cx="839.2" cy="934.3" r="6.9"/>
<circle class="c15" cx="874.2" cy="929.9" r="6.9"/>
<circle class="c13" cx="1010.2" cy="476.0" r="6.9"/>
<circle class="c13" cx="588.5" cy="1004.2" r="6.9"/>
<circle class="c8" cx="577.4" cy="300.0" r="6.9"/>
<circle class="c7" cx="545.7" cy="236.3" r="6.9"/>
<circle class="c18" cx="1074.0" cy="479.6" r="6.9"/>
<circle class="c16" cx="590.3" cy="772.3" r="6.9"/>
<circle class="c17" cx="875.0" cy="500.3" r="6.9"/>
<circle class="c5" cx="637.5" cy="238.8" r="6.9"/>
<circle class="c12" cx="712.8" cy="856.2" r="6.9"/>
<circle class="c14" cx="543.7" cy="828.4" r="6.9"/>
<circle class="c18" cx="934.3" cy="798.2" r="6.9"/>
<circle class="c23" cx="850.1" cy="504.6" r="6.9"/>
<circle class="c8" cx="524.9" cy="274.0" r="6.9"/>
<circle class="c13" cx="661.5" cy="489.7" r="6.9"/>
<circle class="c15" cx="543.2" cy="478.2" r="6.9"/>
<circle class="c10" cx="638.8" cy="984.8" r="6.9"/>
<circle class="c13" cx="803.3" cy="296.2" r="6.9"/>
<circle class="c20" cx="598.3" cy="407.6" r="6.9"/>
<circle class="c14" cx="827.0" cy="436.7" r="6.9"/>
<circle class="c14" cx="771.0" cy="785.7" r="6.9"/>
<circle class="c9" cx="620.3" cy="292.3" r="6.9"/>
<circle class="c15" cx="908.8" cy="843.1" r="6.9"/>
<circle class="c11" cx="547.9" cy="982.9" r="6.9"/>
<circle class="c13" cx="568.5" cy="756.3" r="6.9"/>
<circle class="c20" cx="595.3" cy="779.3" r="6.9"/>
<circle class="c13" cx="613.5" cy="1052.2" r="6.9"/>
<circle class="c12" cx="953.7" cy="344.6" r="6.9"/>
<circle class="c11" cx="503.9" cy="344.7" r="6.9"/>
<circle class="c8" cx="421.6" cy="831.0" r="6.9"/>
<circle class="c8" cx="400.7" cy="443.3" r="6.9"/>
<circle class="c7" cx="393.0" cy="532.1" r="6.9"/>
<circle class="c14" cx="924.5" cy="582.5" r="6.9"/>
<circle class="c18" cx="642.1" cy="431.4" r="6.9"/>
<circle class="c14" cx="684.2" cy="455.5" r="6.9"/>
<circle class="c15" cx="543.7" cy="996.0" r="6.9"/>
<circle class="c7" cx="532.4" cy="363.0" r="6.9"/>
<circle class="c10" cx="547.9" cy="969.4" r="6.9"/>
<circle class="c16" cx="686.1" cy="296.8" r="6.9"/>
<circle class="c4" cx="900.8" cy="620.0" r="6.9"/>
<circle class="c9" cx="603.5" cy="984.5" r="6.9"/>
<circle class="c7" cx="510.1" cy="699.1" r="6.9"/>
<circle class="c9" cx="299.7" cy="378.0" r="6.9"/>
<circle class="c12" cx="536.8" cy="565.8" r="6.9"/>
<circle class="c15" cx="684.0" cy="990.3" r="6.9"/>
<circle class="c11" cx="640.1" cy="688.4" r="6.9"/>
<circle class="c14" cx="632.9" cy="896.5" r="6.9"/>
<circle class="c8" cx="392.0" cy="442.2" r="6.9"/>
<circle class="c9" cx="452.3" cy="313.1" r="6.9"/>
<circle class="c11" cx="536.2" cy="863.5" r="6.9"/>
<circle class="c11" cx="337.6" cy="801.3" r="6.9"/>
<circle class="c8" cx="278.5" cy="362.9" r="6.9"/>
<circle class="c2" cx="887.6" cy="672.9" r="6.9"/>
<circle class="c11" cx="625.4" cy="892.1" r="6.9"/>
<circle class="c12" cx="310.1" cy="324.2" r="6.9"/>
<circle class="c14" cx="785.8" cy="953.2" r="6.9"/>
<circle class="c5" cx="753.6" cy="525.2" r="6.9"/>
<circle class="c6" cx="876.4" cy="638.2" r="6.9"/>
<circle class="c8" cx="445.6" cy="700.6" r="6.9"/>
<circle class="c10" cx="356.8" cy="801.2" r="6.9"/>
<circle class="c16" cx="1116.0" cy="493.1" r="6.9"/>
<circle class="c17" cx="1017.0" cy="300.4" r="6.9"/>
<circle class="c17" cx="808.6" cy="869.1" r="6.9"/>
<circle class="c10" cx="295.5" cy="411.9" r="6.9"/>
<circle class="c19" cx="1052.1" cy="315.2" r="6.9"/>
<circle class="c17" cx="869.9" cy="885.4" r="6.9"/>
<circle class="c10" cx="342.4" cy="505.2" r="6.9"/>
<circle class="c15" cx="936.2" cy="494.2" r="6.9"/>
<circle class="c7" cx="705.9" cy="476.2" r="6.9"/>
<circle class="c12" cx="324.9" cy="417.9" r="6.9"/>
<circle class="c13" cx="374.0" cy="587.6" r="6.9"/>
<circle class="c11" cx="598.2" cy="956.2" r="6.9"/>
<circle class="c13" cx="952.4" cy="295.8" r="6.9"/>
<circle class="c9" cx="631.2" cy="687.3" r="6.9"/>
<circle class="c11" cx="531.1" cy="543.6" r="6.9"/>
<circle class="c14" cx="576.2" cy="874.7" r="6.9"/>
<circle class="c14" cx="940.8" cy="796.9" r="6.9"/>
<circle class="c12" cx="938.4" cy="303.3" r="6.9"/>
<circle class="c11" cx="567.4" cy="542.4" r="6.9"/>
<circle class="c12" cx="784.7" cy="469.0" r="6.9"/>
<circle class="c12" cx="632.0" cy="873.5" r="6.9"/>
<circle class="c18" cx="1111.9" cy="496.4" r="6.9"/>
<circle class="c9" cx="488.9" cy="904.9" r="6.9"/>
<circle class="c17" cx="1018.1" cy="834.3" r="6.9"/>
<circle class="c14" cx="521.4" cy="982.1" r="6.9"/>
<circle class="c8" cx="487.5" cy="361.6" r="6.9"/>
<circle class="c13" cx="591.2" cy="825.6" r="6.9"/>
<circle class="c7" cx="543.1" cy="909.8" r="6.9"/>
<circle class="c7" cx="563.7" cy="567.5" r="6.9"/>
<circle class="c19" cx="997.8" cy="275.6" r="6.9"/>
<circle class="c10" cx="538.7" cy="875.9" r="6.9"/>
<circle class="c15" cx="563.2" cy="513.8" r="6.9"/>
<circle class="c9" cx="857.3" cy="539.4" r="6.9"/>
<circle class="c16" cx="811.8" cy="321.1" r="6.9"/>
<circle class="c17" cx="1097.6" cy="476.0" r="6.9"/>
<circle class="c13" cx="736.6" cy="616.7" r="6.9"/>
<circle class="c18" cx="674.6" cy="939.2" r="6.9"/>
<circle class="c11" cx="473.0" cy="893.0" r="6.9"/>
<circle class="c11" cx="584.1" cy="999.1" r="6.9"/>
<circle class="c7" cx="514.6" cy="343.7" r="6.9"/>
<circle class="c13" cx="570.6" cy="982.4" r="6.9"/>
<circle class="c5" cx="883.8" cy="638.1" r="6.9"/>
<circle class="c12" cx="712.5" cy="784.2" r="6.9"/>
<circle class="c8" cx="428.1" cy="830.2" r="6.9"/>
<circle class="c8" cx="453.7" cy="238.6" r="6.9"/>
<circle class="c6" cx="514.1" cy="725.0" r="6.9"/>
<circle class="c11" cx="477.5" cy="287.1" r="6.9"/>
<circle class="c12" cx="690.1" cy="838.6" r="6.9"/>
<circle class="c19" cx="1096.3" cy="500.7" r="6.9"/>
<circle class="c20" cx="1014.2" cy="260.9" r="6.9"/>
<circle class="c7" cx="926.4" cy="671.5" r="6.9"/>
<circle class="c11" cx="532.5" cy="190.7" r="6.9"/>
<circle class="c14" cx="975.3" cy="297.5" r="6.9"/>
<circle class="c16" cx="870.0" cy="363.6" r="6.9"/>
<circle class="c10" cx="374.7" cy="280.1" r="6.9"/>
<circle class="c18" cx="610.3" cy="844.1" r="6.9"/>
<circle class="c13" cx="735.2" cy="718.0" r="6.9"/>
<circle class="c12" cx="756.6" cy="267.6" r="6.9"/>
<circle class="c4" cx="895.7" cy="665.0" r="6.9"/>
<circle class="c9" cx="654.1" cy="477.3" r="6.9"/>
<circle class="c18" cx="673.9" cy="447.3" r="6.9"/>
<circle class="c11" cx="438.4" cy="281.0" r="6.9"/>
<circle class="c12" cx="648.5" cy="771.4" r="6.9"/>
<circle class="c21" cx="845.1" cy="365.9" r="6.9"/>
<circle class="c13" cx="962.7" cy="323.1" r="6.9"/>
<circle class="c10" cx="522.2" cy="214.3" r="6.9"/>
<circle class="c15" cx="896.9" cy="419.1" r="6.9"/>
<circle class="c11" cx="409.1" cy="228.1" r="6.9"/>
<circle class="c10" cx="281.9" cy="350.9" r="6.9"/>
<circle class="c9" cx="621.9" cy="959.8" r="6.9"/>
<circle class="c13" cx="624.2" cy="898.1" r="6.9"/>
<circle class="c9" cx="373.2" cy="709.9" r="6.9"/>
<circle class="c19" cx="794.0" cy="948.7" r="6.9"/>
<circle class="c6" cx="436.4" cy="368.9" r="6.9"/>
<circle class="c14" cx="544.1" cy="537.2" r="6.9"/>
<circle class="c8" cx="430.1" cy="331.7" r="6.9"/>
<circle class="c5" cx="963.5" cy="654.4" r="6.9"/>
<circle class="c14" cx="511.4" cy="448.6" r="6.9"/>
<circle class="c16" cx="644.8" cy="486.7" r="6.9"/>
<circle class="c13" cx="661.5" cy="273.1" r="6.9"/>
<circle class="c9" cx="859.8" cy="551.5" r="6.9"/>
<circle class="c8" cx="404.1" cy="832.4" r="6.9"/>
<circle class="c18" cx="609.6" cy="435.6" r="6.9"/>
<circle class="c13" cx="949.9" cy="482.0" r="6.9"/>
<circle class="c11" cx="750.8" cy="312.1" r="6.9"/>
<circle class="c10" cx="491.1" cy="314.5" r="6.9"/>
<circle class="c13" cx="611.8" cy="803.0" r="6.9"/>
<circle class="c11" cx="879.7" cy="383.0" r="6.9"/>
<circle class="c8" cx="442.0" cy="277.7" r="6.9"/>
<circle class="c15" cx="910.4" cy="812.4" r="6.9"/>
<circle class="c10" cx="356.0" cy="370.6" r="6.9"/>
<circle class="c5" cx="963.6" cy="659.3" r="6.9"/>
<circle class="c11" cx="680.1" cy="765.8" r="6.9"/>
<circle class="c14" cx="908.7" cy="799.6" r="6.9"/>
<circle class="c7" cx="528.5" cy="283.2" r="6.9"/>
<circle class="c14" cx="335.3" cy="344.4" r="6.9"/>
<circle class="c15" cx="532.2" cy="868.8" r="6.9"/>
<circle class="c16" cx="514.7" cy="1007.8" r="6.9"/>
<circle class="c17" cx="334.6" cy="326.1" r="6.9"/>
<circle class="c8" cx="507.4" cy="725.8" r="6.9"/>
<circle class="c11" cx="796.6" cy="476.0" r="6.9"/>
<circle class="c17" cx="1011.6" cy="784.4" r="6.9"/>
<circle class="c8" cx="765.8" cy="538.4" r="6.9"/>
<circle class="c7" cx="450.1" cy="360.7" r="6.9"/>
<circle class="c8" cx="503.8" cy="893.9" r="6.9"/>
<circle class="c12" cx="748.6" cy="704.3" r="6.9"/>
<circle class="c16" cx="872.4" cy="409.3" r="6.9"/>
<circle class="c11" cx="321.5" cy="404.9" r="6.9"/>
<circle class="c6" cx="767.5" cy="507.3" r="6.9"/>
<circle class="c11" cx="527.8" cy="336.5" r="6.9"/>
<circle class="c11" cx="728.3" cy="872.5" r="6.9"/>
<circle class="c6" cx="451.4" cy="693.3" r="6.9"/>
<circle class="c15" cx="684.4" cy="1023.3" r="6.9"/>
<circle class="c14" cx="522.6" cy="553.9" r="6.9"/>
<circle class="c11" cx="797.3" cy="698.3" r="6.9"/>
<circle class="c12" cx="339.9" cy="482.5" r="6.9"/>
<circle class="c15" cx="915.4" cy="937.8" r="6.9"/>
<circle class="c16" cx="954.4" cy="412.0" r="6.9"/>
<circle class="c14" cx="794.0" cy="783.7" r="6.9"/>
<circle class="c5" cx="905.0" cy="618.6" r="6.9"/>
<circle class="c12" cx="626.8" cy="557.0" r="6.9"/>
<circle class="c16" cx="896.4" cy="884.1" r="6.9"/>
<circle class="c11" cx="717.0" cy="885.6" r="6.9"/>
<circle class="c7" cx="550.4" cy="296.5" r="6.9"/>
<circle class="c12" cx="426.3" cy="345.3" r="6.9"/>
<circle class="c11" cx="835.4" cy="526.5" r="6.9"/>
<circle class="c11" cx="461.9" cy="292.4" r="6.9"/>
<circle class="c14" cx="899.3" cy="900.2" r="6.9"/>
<circle class="c12" cx="913.9" cy="802.8" r="6.9"/>
<circle class="c13" cx="584.2" cy="858.2" r="6.9"/>
<circle class="c11" cx="702.1" cy="838.6" r="6.9"/>
<circle class="c15" cx="518.6" cy="1006.0" r="6.9"/>
<circle class="c11" cx="513.8" cy="787.8" r="6.9"/>
<circle class="c8" cx="393.0" cy="553.7" r="6.9"/>
<circle class="c8" cx="370.7" cy="835.6" r="6.9"/>
<circle class="c10" cx="515.7" cy="970.6" r="6.9"/>
<circle class="c13" cx="538.2" cy="972.4" r="6.9"/>
<circle class="c6" cx="766.5" cy="502.6" r="6.9"/>
<circle class="c14" cx="633.5" cy="722.0" r="6.9"/>
<circle class="c11" cx="450.9" cy="347.7" r="6.9"/>
<circle class="c10" cx="538.2" cy="882.2" r="6.9"/>
<circle class="c11" cx="337.0" cy="792.1" r="6.9"/>
<circle class="c13" cx="732.3" cy="839.0" r="6.9"/>
<circle class="c12" cx="601.1" cy="1046.5" r="6.9"/>
<circle class="c16" cx="570.9" cy="835.6" r="6.9"/>
<circle class="c14" cx="814.3" cy="953.5" r="6.9"/>
<circle class="c16" cx="885.5" cy="389.0" r="6.9"/>
<circle class="c13" cx="330.3" cy="274.3" r="6.9"/>
<circle class="c9" cx="635.9" cy="820.7" r="6.9"/>
<circle class="c13" cx="522.9" cy="196.4" r="6.9"/>
<circle class="c12" cx="280.1" cy="313.2" r="6.9"/>
<circle class="c12" cx="332.0" cy="528.7" r="6.9"/>
<circle class="c21" cx="1103.5" cy="494.3" r="6.9"/>
<circle class="c15" cx="895.4" cy="820.0" r="6.9"/>
<circle class="c11" cx="520.8" cy="450.1" r="6.9"/>
<circle class="c9" cx="314.9" cy="292.2" r="6.9"/>
<circle class="c13" cx="616.4" cy="975.3" r="6.9"/>
<circle class="c9" cx="438.3" cy="324.5" r="6.9"/>
<circle class="c15" cx="861.4" cy="863.0" r="6.9"/>
<circle class="c8" cx="385.1" cy="738.7" r="6.9"/>
<circle class="c13" cx="969.2" cy="793.7" r="6.9"/>
<circle class="c8" cx="457.0" cy="766.0" r="6.9"/>
<circle class="c14" cx="916.8" cy="593.6" r="6.9"/>
<circle class="c12" cx="716.7" cy="753.6" r="6.9"/>
<circle class="c12" cx="628.6" cy="748.7" r="6.9"/>
<circle class="c15" cx="838.8" cy="925.8" r="6.9"/>
<circle class="c15" cx="904.0" cy="849.3" r="6.9"/>
<circle class="c12" cx="342.7" cy="392.4" r="6.9"/>
<circle class="c7" cx="762.0" cy="491.7" r="6.9"/>
<circle class="c12" cx="542.9" cy="226.8" r="6.9"/>
<circle class="c11" cx="520.2" cy="387.5" r="6.9"/>
<circle class="c9" cx="410.2" cy="296.1" r="6.9"/>
<circle class="c12" cx="589.7" cy="560.2" r="6.9"/>
<circle class="c13" cx="385.7" cy="248.6" r="6.9"/>
<circle class="c15" cx="742.2" cy="860.6" r="6.9"/>
<circle class="c13" cx="704.4" cy="448.8" r="6.9"/>
<circle class="c15" cx="937.3" cy="377.6" r="6.9"/>
<circle class="c12" cx="687.3" cy="774.4" r="6.9"/>
<circle class="c16" cx="1035.0" cy="305.0" r="6.9"/>
<circle class="c8" cx="577.8" cy="982.8" r="6.9"/>
<circle class="c17" cx="719.9" cy="735.4" r="6.9"/>
<circle class="c14" cx="798.0" cy="416.0" r="6.9"/>
<circle class="c6" cx="385.5" cy="270.1" r="6.9"/>
<circle class="c14" cx="808.4" cy="773.1" r="6.9"/>
<circle class="c13" cx="521.8" cy="765.9" r="6.9"/>
<circle class="c12" cx="442.6" cy="760.3" r="6.9"/>
<circle class="c18" cx="837.6" cy="945.3" r="6.9"/>
<circle class="c13" cx="643.0" cy="1021.2" r="6.9"/>
<circle class="c7" cx="671.4" cy="822.8" r="6.9"/>
<circle class="c7" cx="373.7" cy="335.8" r="6.9"/>
<circle class="c9" cx="355.4" cy="245.7" r="6.9"/>
<circle class="c11" cx="463.0" cy="316.5" r="6.9"/>
<circle class="c9" cx="723.0" cy="474.0" r="6.9"/>
<circle class="c13" cx="781.1" cy="690.7" r="6.9"/>
<circle class="c11" cx="797.1" cy="692.0" r="6.9"/>
<circle class="c12" cx="830.5" cy="420.3" r="6.9"/>
<circle class="c12" cx="749.2" cy="786.0" r="6.9"/>
<circle class="c11" cx="556.0" cy="231.9" r="6.9"/>
<circle class="c10" cx="527.9" cy="941.7" r="6.9"/>
<circle class="c19" cx="800.6" cy="774.5" r="6.9"/>
<circle class="c10" cx="502.5" cy="934.8" r="6.9"/>
<circle class="c15" cx="592.4" cy="572.8" r="6.9"/>
<circle class="c20" cx="697.3" cy="999.8" r="6.9"/>
<circle class="c18" cx="543.6" cy="1024.5" r="6.9"/>
<circle class="c15" cx="730.0" cy="792.6" r="6.9"/>
<circle class="c16" cx="805.9" cy="878.7" r="6.9"/>
<circle class="c17" cx="590.7" cy="466.5" r="6.9"/>
<circle class="c15" cx="848.3" cy="483.7" r="6.9"/>
<circle class="c11" cx="325.1" cy="530.6" r="6.9"/>
<circle class="c13" cx="992.8" cy="460.5" r="6.9"/>
<circle class="c10" cx="330.4" cy="462.9" r="6.9"/>
<circle class="c6" cx="560.7" cy="292.1" r="6.9"/>
<circle class="c18" cx="960.1" cy="436.3" r="6.9"/>
<circle class="c15" cx="608.5" cy="865.6" r="6.9"/>
<circle class="c9" cx="411.9" cy="425.6" r="6.9"/>
<circle class="c7" cx="399.8" cy="789.5" r="6.9"/>
<circle class="c17" cx="871.4" cy="521.7" r="6.9"/>
<circle class="c20" cx="816.3" cy="430.9" r="6.9"/>
<circle class="c10" cx="553.1" cy="213.6" r="6.9"/>
<circle class="c17" cx="607.6" cy="760.0" r="6.9"/>
<circle class="c8" cx="445.7" cy="267.7" r="6.9"/>
<circle class="c11" cx="478.8" cy="265.1" r="6.9"/>
<circle class="c8" cx="371.4" cy="819.6" r="6.9"/>
<circle class="c7" cx="374.2" cy="843.5" r="6.9"/>
<circle class="c6" cx="909.6" cy="670.1" r="6.9"/>
<circle class="c10" cx="494.1" cy="908.8" r="6.9"/>
<circle class="c12" cx="899.2" cy="335.0" r="6.9"/>
<circle class="c14" cx="583.9" cy="986.4" r="6.9"/>
<circle class="c17" cx="789.8" cy="785.1" r="6.9"/>
<circle class="c15" cx="664.2" cy="499.2" r="6.9"/>
<circle class="c14" cx="928.4" cy="872.7" r="6.9"/>
<circle class="c11" cx="319.2" cy="371.5" r="6.9"/>
<circle class="c16" cx="681.0" cy="1071.8" r="6.9"/>
<circle class="c9" cx="403.2" cy="342.2" r="6.9"/>
<circle class="c14" cx="708.5" cy="843.3" r="6.9"/>
<circle class="c12" cx="318.8" cy="340.1" r="6.9"/>
<circle class="c12" cx="663.3" cy="770.7" r="6.9"/>
<circle class="c12" cx="499.9" cy="905.0" r="6.9"/>
<circle class="c13" cx="617.5" cy="784.4" r="6.9"/>
<circle class="c18" cx="1048.1" cy="500.6" r="6.9"/>
<circle class="c12" cx="819.3" cy="897.1" r="6.9"/>
<circle class="c6" cx="868.0" cy="555.2" r="6.9"/>
<circle class="c6" cx="294.0" cy="294.1" r="6.9"/>
<circle class="c15" cx="889.1" cy="364.7" r="6.9"/>
<circle class="c16" cx="858.1" cy="354.4" r="6.9"/>
<circle class="c15" cx="378.3" cy="365.5" r="6.9"/>
<circle class="c12" cx="757.3" cy="890.8" r="6.9"/>
<circle class="c13" cx="329.1" cy="307.2" r="6.9"/>
<circle class="c12" cx="583.1" cy="981.7" r="6.9"/>
<circle class="c11" cx="288.7" cy="460.0" r="6.9"/>
<circle class="c11" cx="823.2" cy="566.9" r="6.9"/>
<circle class="c13" cx="356.7" cy="446.5" r="6.9"/>
<circle class="c12" cx="419.4" cy="306.6" r="6.9"/>
<circle class="c14" cx="720.3" cy="865.7" r="6.9"/>
<circle class="c14" cx="361.1" cy="394.6" r="6.9"/>
<circle class="c11" cx="734.5" cy="867.0" r="6.9"/>
<circle class="c10" cx="386.0" cy="428.3" r="6.9"/>
<circle class="c9" cx="368.2" cy="746.6" r="6.9"/>
<circle class="c13" cx="706.3" cy="806.1" r="6.9"/>
<circle class="c15" cx="1089.7" cy="464.4" r="6.9"/>
<circle class="c6" cx="336.8" cy="497.1" r="6.9"/>
<circle class="c15" cx="860.0" cy="881.7" r="6.9"/>
<circle class="c12" cx="628.5" cy="278.6" r="6.9"/>
<circle class="c18" cx="1066.8" cy="501.1" r="6.9"/>
<circle class="c8" cx="437.7" cy="255.8" r="6.9"/>
<circle class="c5" cx="877.5" cy="654.2" r="6.9"/>
<circle class="c10" cx="433.6" cy="288.7" r="6.9"/>
<circle class="c14" cx="632.8" cy="729.5" r="6.9"/>
<circle class="c18" cx="622.5" cy="499.0" r="6.9"/>
<circle class="c11" cx="704.5" cy="875.5" r="6.9"/>
<circle class="c6" cx="385.7" cy="797.3" r="6.9"/>
<circle class="c12" cx="351.2" cy="330.1" r="6.9"/>
<circle class="c5" cx="405.8" cy="792.4" r="6.9"/>
<circle class="c14" cx="997.9" cy="798.0" r="6.9"/>
<circle class="c10" cx="735.0" cy="676.5" r="6.9"/>
<circle class="c5" cx="884.4" cy="626.2" r="6.9"/>
<circle class="c5" cx="724.6" cy="464.2" r="6.9"/>
<circle class="c5" cx="881.8" cy="616.5" r="6.9"/>
<circle class="c13" cx="833.0" cy="562.2" r="6.9"/>
<circle class="c10" cx="314.5" cy="379.5" r="6.9"/>
<circle class="c8" cx="337.1" cy="366.5" r="6.9"/>
<circle class="c14" cx="534.5" cy="1002.1" r="6.9"/>
<circle class="c7" cx="504.4" cy="352.8" r="6.9"/>
<circle class="c9" cx="401.9" cy="724.0" r="6.9"/>
<circle class="c12" cx="721.7" cy="781.8" r="6.9"/>
<circle class="c4" cx="933.9" cy="655.4" r="6.9"/>
<circle class="c10" cx="479.9" cy="219.7" r="6.9"/>
<circle class="c10" cx="579.5" cy="932.8" r="6.9"/>
<circle class="c9" cx="400.9" cy="847.4" r="6.9"/>
<circle class="c17" cx="560.7" cy="1003.0" r="6.9"/>
<circle class="c10" cx="391.0" cy="526.1" r="6.9"/>
<circle class="c8" cx="467.7" cy="698.9" r="6.9"/>
<circle class="c7" cx="268.5" cy="373.8" r="6.9"/>
<circle class="c18" cx="1062.7" cy="306.8" r="6.9"/>
<circle class="c13" cx="921.4" cy="282.6" r="6.9"/>
<circle class="c12" cx="395.8" cy="295.0" r="6.9"/>
<circle class="c14" cx="681.0" cy="716.6" r="6.9"/>
<circle class="c9" cx="410.6" cy="741.5" r="6.9"/>
<circle class="c13" cx="607.1" cy="1049.7" r="6.9"/>
<circle class="c13" cx="667.1" cy="254.1" r="6.9"/>
<circle class="c12" cx="684.8" cy="678.6" r="6.9"/>
<circle class="c11" cx="439.0" cy="733.4" r="6.9"/>
<circle class="c15" cx="646.7" cy="965.2" r="6.9"/>
<circle class="c13" cx="827.4" cy="900.8" r="6.9"/>
<circle class="c8" cx="423.2" cy="395.9" r="6.9"/>
<circle class="c10" cx="585.6" cy="717.7" r="6.9"/>
<circle class="c16" cx="936.5" cy="813.0" r="6.9"/>
<circle class="c4" cx="869.3" cy="617.6" r="6.9"/>
<circle class="c15" cx="952.5" cy="395.4" r="6.9"/>
<circle class="c17" cx="1055.8" cy="299.6" r="6.9"/>
<circle class="c13" cx="806.6" cy="922.8" r="6.9"/>
<circle class="c16" cx="1085.1" cy="495.3" r="6.9"/>
<circle class="c20" cx="619.5" cy="456.2" r="6.9"/>
<circle class="c8" cx="465.0" cy="235.2" r="6.9"/>
<circle class="c17" cx="507.8" cy="990.6" r="6.9"/>
<circle class="c9" cx="435.5" cy="811.4" r="6.9"/>
<circle class="c6" cx="433.2" cy="816.0" r="6.9"/>
<circle class="c7" cx="850.6" cy="588.0" r="6.9"/>
<circle class="c11" cx="469.8" cy="217.9" r="6.9"/>
<circle class="c8" cx="395.2" cy="809.3" r="6.9"/>
<circle class="c14" cx="976.2" cy="789.2" r="6.9"/>
<circle class="c17" cx="878.3" cy="374.8" r="6.9"/>
<circle class="c12" cx="605.3" cy="695.4" r="6.9"/>
<circle class="c10" cx="743.4" cy="683.1" r="6.9"/>
<circle class="c5" cx="926.7" cy="662.4" r="6.9"/>
<circle class="c8" cx="399.2" cy="237.1" r="6.9"/>
<circle class="c11" cx="608.0" cy="754.8" r="6.9"/>
<circle class="c8" cx="956.2" cy="676.5" r="6.9"/>
<circle class="c6" cx="525.4" cy="934.6" r="6.9"/>
<circle class="c10" cx="287.5" cy="414.5" r="6.9"/>
<circle class="c2" cx="926.5" cy="658.7" r="6.9"/>
<circle class="c8" cx="760.2" cy="504.7" r="6.9"/>
<circle class="c10" cx="347.9" cy="242.7" r="6.9"/>
<circle class="c7" cx="905.4" cy="646.0" r="6.9"/>
<circle class="c17" cx="762.6" cy="855.5" r="6.9"/>
<circle class="c16" cx="670.2" cy="1044.4" r="6.9"/>
<circle class="c13" cx="838.0" cy="733.0" r="6.9"/>
<circle class="c10" cx="532.1" cy="248.6" r="6.9"/>
<circle class="c14" cx="981.9" cy="450.8" r="6.9"/>
<circle class="c19" cx="576.7" cy="1033.2" r="6.9"/>
<circle class="c8" cx="535.9" cy="537.1" r="6.9"/>
<circle class="c10" cx="399.0" cy="355.0" r="6.9"/>
<circle class="c14" cx="914.8" cy="814.0" r="6.9"/>
<circle class="c8" cx="695.1" cy="487.7" r="6.9"/>
<circle class="c9" cx="355.8" cy="794.9" r="6.9"/>
<circle class="c12" cx="396.5" cy="286.5" r="6.9"/>
<circle class="c11" cx="571.5" cy="735.1" r="6.9"/>
<circle class="c10" cx="402.5" cy="533.4" r="6.9"/>
<circle class="c5" cx="913.8" cy="634.1" r="6.9"/>
<circle class="c9" cx="318.5" cy="561.8" r="6.9"/>
<circle class="c11" cx="373.0" cy="529.6" r="6.9"/>
<circle class="c11" cx="528.4" cy="530.4" r="6.9"/>
<circle class="c10" cx="325.5" cy="810.9" r="6.9"/>
<circle class="c18" cx="599.0" cy="1060.1" r="6.9"/>
<circle class="c11" cx="767.9" cy="724.3" r="6.9"/>
<circle class="c13" cx="582.4" cy="843.9" r="6.9"/>
<circle class="c15" cx="585.8" cy="437.9" r="6.9"/>
<circle class="c14" cx="578.9" cy="388.4" r="6.9"/>
<circle class="c14" cx="893.4" cy="905.8" r="6.9"/>
<circle class="c17" cx="929.2" cy="526.0" r="6.9"/>
<circle class="c11" cx="383.6" cy="506.0" r="6.9"/>
<circle class="c11" cx="644.7" cy="866.8" r="6.9"/>
<circle class="c13" cx="353.9" cy="359.1" r="6.9"/>
<circle class="c12" cx="376.9" cy="553.9" r="6.9"/>
<circle class="c8" cx="750.0" cy="544.5" r="6.9"/>
<circle class="c9" cx="309.6" cy="482.9" r="6.9"/>
<circle class="c13" cx="477.0" cy="890.9" r="6.9"/>
<circle class="c11" cx="409.7" cy="436.4" r="6.9"/>
<circle class="c18" cx="571.4" cy="1064.5" r="6.9"/>
<circle class="c11" cx="720.2" cy="218.7" r="6.9"/>
<circle class="c13" cx="754.0" cy="274.9" r="6.9"/>
<circle class="c14" cx="970.4" cy="882.6" r="6.9"/>
<circle class="c17" cx="794.6" cy="827.5" r="6.9"/>
<circle class="c13" cx="794.3" cy="804.0" r="6.9"/>
<circle class="c10" cx="669.7" cy="796.2" r="6.9"/>
<circle class="c16" cx="819.9" cy="287.7" r="6.9"/>
<circle class="c12" cx="562.4" cy="1042.8" r="6.9"/>
<circle class="c9" cx="499.7" cy="261.4" r="6.9"/>
<circle class="c16" cx="593.6" cy="543.8" r="6.9"/>
<circle class="c15" cx="802.4" cy="797.0" r="6.9"/>
<circle class="c5" cx="969.0" cy="671.8" r="6.9"/>
<circle class="c13" cx="737.0" cy="905.5" r="6.9"/>
<circle class="c10" cx="518.1" cy="237.1" r="6.9"/>
<circle class="c13" cx="727.8" cy="648.6" r="6.9"/>
<circle class="c13" cx="356.3" cy="405.9" r="6.9"/>
<circle class="c7" cx="421.6" cy="767.2" r="6.9"/>
<circle class="c10" cx="760.5" cy="877.7" r="6.9"/>
<circle class="c11" cx="725.6" cy="907.4" r="6.9"/>
<circle class="c12" cx="571.4" cy="921.3" r="6.9"/>
<circle class="c18" cx="780.5" cy="874.0" r="6.9"/>
<circle class="c7" cx="907.3" cy="642.5" r="6.9"/>
<circle class="c14" cx="869.8" cy="428.6" r="6.9"/>
<circle class="c10" cx="552.9" cy="431.6" r="6.9"/>
<circle class="c12" cx="875.4" cy="357.7" r="6.9"/>
<circle class="c14" cx="710.6" cy="801.7" r="6.9"/>
<circle class="c16" cx="835.3" cy="752.7" r="6.9"/>
<circle class="c13" cx="771.7" cy="747.3" r="6.9"/>
<circle class="c11" cx="468.8" cy="287.8" r="6.9"/>
<circle class="c14" cx="557.0" cy="480.1" r="6.9"/>
<circle class="c20" cx="870.8" cy="354.2" r="6.9"/>
<circle class="c11" cx="771.6" cy="490.7" r="6.9"/>
<circle class="c13" cx="967.3" cy="780.4" r="6.9"/>
<circle class="c18" cx="1049.3" cy="356.1" r="6.9"/>
<circle class="c11" cx="304.0" cy="295.2" r="6.9"/>
<circle class="c7" cx="343.8" cy="747.1" r="6.9"/>
<circle class="c9" cx="417.0" cy="705.2" r="6.9"/>
<circle class="c13" cx="583.1" cy="831.6" r="6.9"/>
<circle class="c10" cx="295.0" cy="333.4" r="6.9"/>
<circle class="c14" cx="786.5" cy="325.2" r="6.9"/>
<circle class="c11" cx="423.0" cy="338.1" r="6.9"/>
<circle class="c10" cx="384.3" cy="449.9" r="6.9"/>
<circle class="c8" cx="413.0" cy="258.5" r="6.9"/>
<circle class="c15" cx="602.5" cy="427.3" r="6.9"/>
<circle class="c11" cx="404.3" cy="450.2" r="6.9"/>
<circle class="c9" cx="869.3" cy="580.8" r="6.9"/>
<circle class="c13" cx="751.5" cy="844.0" r="6.9"/>
<circle class="c17" cx="558.4" cy="805.2" r="6.9"/>
<circle class="c10" cx="718.3" cy="811.2" r="6.9"/>
<circle class="c6" cx="902.0" cy="623.9" r="6.9"/>
<circle class="c14" cx="899.7" cy="320.0" r="6.9"/>
<circle class="c14" cx="795.0" cy="980.6" r="6.9"/>
<circle class="c13" cx="628.3" cy="976.0" r="6.9"/>
<circle class="c13" cx="433.9" cy="246.2" r="6.9"/>
<circle class="c7" cx="364.7" cy="387.2" r="6.9"/>
<circle class="c10" cx="725.4" cy="634.1" r="6.9"/>
<circle class="c17" cx="671.3" cy="509.4" r="6.9"/>
<circle class="c14" cx="803.5" cy="918.8" r="6.9"/>
<circle class="c14" cx="897.5" cy="847.4" r="6.9"/>
<circle class="c14" cx="787.9" cy="941.3" r="6.9"/>
<circle class="c11" cx="454.4" cy="248.7" r="6.9"/>
<circle class="c16" cx="689.5" cy="993.1" r="6.9"/>
<circle class="c11" cx="733.2" cy="874.1" r="6.9"/>
<circle class="c15" cx="786.7" cy="808.6" r="6.9"/>
<circle class="c13" cx="562.4" cy="807.0" r="6.9"/>
<circle class="c12" cx="829.4" cy="847.4" r="6.9"/>
<circle class="c18" cx="767.4" cy="821.7" r="6.9"/>
<circle class="c14" cx="827.9" cy="912.2" r="6.9"/>
<circle class="c11" cx="280.7" cy="380.9" r="6.9"/>
<circle class="c13" cx="819.9" cy="970.0" r="6.9"/>
<circle class="c13" cx="349.5" cy="346.2" r="6.9"/>
<circle class="c10" cx="356.7" cy="241.1" r="6.9"/>
<circle class="c11" cx="521.6" cy="897.6" r="6.9"/>
<circle class="c12" cx="874.5" cy="333.8" r="6.9"/>
<circle class="c10" cx="311.0" cy="459.4" r="6.9"/>
<circle class="c11" cx="549.5" cy="204.8" r="6.9"/>
<circle class="c9" cx="746.8" cy="884.4" r="6.9"/>
<circle class="c8" cx="453.4" cy="229.9" r="6.9"/>
<circle class="c7" cx="446.8" cy="245.7" r="6.9"/>
<circle class="c13" cx="728.4" cy="764.3" r="6.9"/>
<circle class="c20" cx="847.2" cy="488.1" r="6.9"/>
<circle class="c9" cx="343.7" cy="260.5" r="6.9"/>
<circle class="c16" cx="647.9" cy="1032.7" r="6.9"/>
<circle class="c17" cx="804.3" cy="424.4" r="6.9"/>
<circle class="c11" cx="612.0" cy="825.9" r="6.9"/>
<circle class="c17" cx="1026.6" cy="337.8" r="6.9"/>
<circle class="c7" cx="564.9" cy="298.9" r="6.9"/>
<circle class="c13" cx="614.1" cy="950.2" r="6.9"/>
<circle class="c11" cx="524.0" cy="518.8" r="6.9"/>
<circle class="c11" cx="480.3" cy="369.0" r="6.9"/>
<circle class="c10" cx="446.4" cy="365.2" r="6.9"/>
<circle class="c8" cx="503.2" cy="764.8" r="6.9"/>
<circle class="c13" cx="410.9" cy="384.4" r="6.9"/>
<circle class="c12" cx="738.2" cy="293.3" r="6.9"/>
<circle class="c10" cx="322.6" cy="573.0" r="6.9"/>
<circle class="c12" cx="647.8" cy="922.1" r="6.9"/>
<circle class="c10" cx="398.9" cy="247.2" r="6.9"/>
<circle class="c8" cx="546.2" cy="956.6" r="6.9"/>
<circle class="c8" cx="636.0" cy="830.5" r="6.9"/>
<circle class="c12" cx="368.7" cy="498.5" r="6.9"/>
<circle class="c13" cx="575.3" cy="901.3" r="6.9"/>
<circle class="c15" cx="728.2" cy="889.3" r="6.9"/>
<circle class="c8" cx="497.3" cy="344.7" r="6.9"/>
<circle class="c13" cx="383.2" cy="291.9" r="6.9"/>
<circle class="c20" cx="916.5" cy="510.5" r="6.9"/>
<circle class="c15" cx="788.8" cy="425.2" r="6.9"/>
<circle class="c12" cx="708.2" cy="820.8" r="6.9"/>
<circle class="c11" cx="882.1" cy="947.0" r="6.9"/>
<circle class="c12" cx="311.1" cy="359.0" r="6.9"/>
<circle class="c18" cx="536.5" cy="478.1" r="6.9"/>
<circle class="c10" cx="668.5" cy="208.2" r="6.9"/>
<circle class="c9" cx="402.4" cy="857.4" r="6.9"/>
<circle class="c7" cx="500.2" cy="693.8" r="6.9"/>
<circle class="c12" cx="709.1" cy="779.8" r="6.9"/>
<circle class="c8" cx="415.5" cy="851.7" r="6.9"/>
<circle class="c5" cx="897.2" cy="615.9" r="6.9"/>
<circle class="c14" cx="547.1" cy="848.2" r="6.9"/>
<circle class="c9" cx="729.8" cy="324.6" r="6.9"/>
<circle class="c18" cx="918.4" cy="498.1" r="6.9"/>
<circle class="c9" cx="362.5" cy="840.8" r="6.9"/>
<circle class="c9" cx="379.3" cy="458.5" r="6.9"/>
<circle class="c9" cx="403.1" cy="822.1" r="6.9"/>
<circle class="c13" cx="787.8" cy="759.2" r="6.9"/>
<circle class="c9" cx="536.8" cy="192.9" r="6.9"/>
<circle class="c17" cx="574.4" cy="1028.3" r="6.9"/>
<circle class="c11" cx="340.8" cy="824.7" r="6.9"/>
<circle class="c12" cx="409.4" cy="346.3" r="6.9"/>
<circle class="c17" cx="680.4" cy="663.4" r="6.9"/>
<circle class="c17" cx="573.9" cy="781.3" r="6.9"/>
<circle class="c12" cx="778.1" cy="477.7" r="6.9"/>
<circle class="c9" cx="610.8" cy="302.7" r="6.9"/>
<circle class="c10" cx="665.5" cy="764.9" r="6.9"/>
<circle class="c13" cx="727.0" cy="687.5" r="6.9"/>
<circle class="c16" cx="827.5" cy="544.7" r="6.9"/>
<circle class="c10" cx="988.6" cy="784.0" r="6.9"/>
<circle class="c14" cx="505.9" cy="221.4" r="6.9"/>
<circle class="c8" cx="399.7" cy="750.6" r="6.9"/>
<circle class="c18" cx="1058.2" cy="353.0" r="6.9"/>
<circle class="c14" cx="662.6" cy="1013.9" r="6.9"/>
<circle class="c15" cx="659.7" cy="1029.4" r="6.9"/>
<circle class="c8" cx="632.7" cy="233.9" r="6.9"/>
<circle class="c14" cx="537.4" cy="787.1" r="6.9"/>
<circle class="c11" cx="541.9" cy="525.1" r="6.9"/>
<circle class="c7" cx="540.2" cy="948.4" r="6.9"/>
<circle class="c15" cx="643.3" cy="310.1" r="6.9"/>
<circle class="c15" cx="883.1" cy="881.4" r="6.9"/>
<circle class="c11" cx="688.1" cy="655.6" r="6.9"/>
<circle class="c15" cx="535.5" cy="1027.8" r="6.9"/>
<circle class="c16" cx="562.7" cy="1033.0" r="6.9"/>
<circle class="c9" cx="666.0" cy="691.6" r="6.9"/>
<circle class="c13" cx="515.6" cy="350.7" r="6.9"/>
<circle class="c12" cx="605.1" cy="524.8" r="6.9"/>
<circle class="c7" cx="627.8" cy="913.7" r="6.9"/>
<circle class="c9" cx="559.9" cy="444.7" r="6.9"/>
<circle class="c11" cx="366.6" cy="428.9" r="6.9"/>
<circle class="c8" cx="396.2" cy="709.4" r="6.9"/>
<circle class="c12" cx="616.1" cy="269.4" r="6.9"/>
<circle class="c9" cx="528.5" cy="253.9" r="6.9"/>
<circle class="c14" cx="319.4" cy="275.2" r="6.9"/>
<circle class="c6" cx="410.0" cy="699.4" r="6.9"/>
<circle class="c14" cx="700.3" cy="1025.1" r="6.9"/>
<circle class="c7" cx="427.1" cy="381.8" r="6.9"/>
<circle class="c8" cx="749.0" cy="903.7" r="6.9"/>
<circle class="c11" cx="804.7" cy="752.2" r="6.9"/>
<circle class="c17" cx="944.1" cy="834.3" r="6.9"/>
<circle class="c18" cx="803.7" cy="275.9" r="6.9"/>
<circle class="c14" cx="947.0" cy="814.7" r="6.9"/>
<circle class="c15" cx="743.0" cy="659.6" r="6.9"/>
<circle class="c12" cx="316.3" cy="302.2" r="6.9"/>
<circle class="c14" cx="329.0" cy="286.8" r="6.9"/>
<circle class="c8" cx="388.0" cy="492.3" r="6.9"/>
<circle class="c10" cx="650.0" cy="690.4" r="6.9"/>
<circle class="c10" cx="412.7" cy="394.2" r="6.9"/>
<circle class="c5" cx="895.6" cy="686.8" r="6.9"/>
<circle class="c10" cx="376.3" cy="534.7" r="6.9"/>
<circle class="c8" cx="540.9" cy="218.1" r="6.9"/>
<circle class="c13" cx="511.9" cy="500.1" r="6.9"/>
<circle class="c16" cx="715.2" cy="1038.7" r="6.9"/>
<circle class="c11" cx="777.2" cy="484.0" r="6.9"/>
<circle class="c9" cx="466.6" cy="748.9" r="6.9"/>
<circle class="c15" cx="676.6" cy="1084.8" r="6.9"/>
<circle class="c13" cx="465.3" cy="353.6" r="6.9"/>
<circle class="c11" cx="815.1" cy="741.8" r="6.9"/>
<circle class="c9" cx="688.4" cy="215.3" r="6.9"/>
<circle class="c17" cx="762.7" cy="1027.0" r="6.9"/>
<circle class="c13" cx="725.0" cy="1053.9" r="6.9"/>
<circle class="c9" cx="595.7" cy="308.4" r="6.9"/>
<circle class="c18" cx="1022.3" cy="443.9" r="6.9"/>
<circle class="c11" cx="450.9" cy="267.5" r="6.9"/>
<circle class="c15" cx="827.7" cy="799.3" r="6.9"/>
<circle class="c11" cx="792.0" cy="310.1" r="6.9"/>
<circle class="c10" cx="548.9" cy="304.2" r="6.9"/>
<circle class="c17" cx="855.7" cy="517.6" r="6.9"/>
<circle class="c17" cx="656.0" cy="1037.0" r="6.9"/>
<circle class="c7" cx="586.3" cy="296.4" r="6.9"/>
<circle class="c12" cx="366.3" cy="278.6" r="6.9"/>
<circle class="c14" cx="369.0" cy="494.0" r="6.9"/>
<circle class="c13" cx="839.3" cy="957.1" r="6.9"/>
<circle class="c15" cx="667.7" cy="866.1" r="6.9"/>
<circle class="c12" cx="463.8" cy="251.0" r="6.9"/>
<circle class="c15" cx="932.9" cy="437.9" r="6.9"/>
<circle class="c9" cx="774.8" cy="689.1" r="6.9"/>
<circle class="c9" cx="673.4" cy="230.8" r="6.9"/>
<circle class="c11" cx="510.4" cy="779.9" r="6.9"/>
<circle class="c18" cx="569.8" cy="805.5" r="6.9"/>
<circle class="c12" cx="298.3" cy="319.0" r="6.9"/>
<circle class="c14" cx="745.5" cy="838.7" r="6.9"/>
<circle class="c10" cx="1014.6" cy="807.9" r="6.9"/>
<circle class="c14" cx="863.8" cy="933.2" r="6.9"/>
<circle class="c9" cx="832.3" cy="786.0" r="6.9"/>
<circle class="c17" cx="1020.3" cy="489.3" r="6.9"/>
<circle class="c14" cx="747.6" cy="263.0" r="6.9"/>
<circle class="c19" cx="952.0" cy="402.8" r="6.9"/>
<circle class="c14" cx="887.3" cy="408.0" r="6.9"/>
<circle class="c14" cx="694.1" cy="696.6" r="6.9"/>
<circle class="c17" cx="938.2" cy="397.6" r="6.9"/>
<circle class="c7" cx="397.5" cy="831.2" r="6.9"/>
<circle class="c10" cx="854.1" cy="553.7" r="6.9"/>
<circle class="c9" cx="325.2" cy="538.7" r="6.9"/>
<circle class="c18" cx="915.7" cy="486.1" r="6.9"/>
<circle class="c10" cx="519.2" cy="735.7" r="6.9"/>
<circle class="c11" cx="398.7" cy="498.8" r="6.9"/>
<circle class="c19" cx="1005.4" cy="280.0" r="6.9"/>
<circle class="c13" cx="853.5" cy="812.0" r="6.9"/>
<circle class="c16" cx="671.1" cy="499.2" r="6.9"/>
<circle class="c11" cx="670.2" cy="735.2" r="6.9"/>
<circle class="c14" cx="375.2" cy="470.1" r="6.9"/>
<circle class="c15" cx="837.6" cy="334.8" r="6.9"/>
<circle class="c11" cx="505.3" cy="975.0" r="6.9"/>
<circle class="c11" cx="536.1" cy="762.7" r="6.9"/>
<circle class="c0" cx="878.1" cy="668.0" r="6.9"/>
<circle class="c7" cx="456.0" cy="736.1" r="6.9"/>
<circle class="c16" cx="975.8" cy="863.8" r="6.9"/>
<circle class="c12" cx="900.5" cy="940.1" r="6.9"/>
<circle class="c11" cx="701.1" cy="862.5" r="6.9"/>
<circle class="c16" cx="553.9" cy="515.8" r="6.9"/>
<circle class="c12" cx="622.3" cy="403.6" r="6.9"/>
<circle class="c13" cx="675.6" cy="868.5" r="6.9"/>
<circle class="c10" cx="346.9" cy="382.0" r="6.9"/>
<circle class="c16" cx="594.0" cy="993.3" r="6.9"/>
<circle class="c10" cx="398.7" cy="529.4" r="6.9"/>
<circle class="c11" cx="578.8" cy="921.7" r="6.9"/>
<circle class="c16" cx="510.7" cy="979.9" r="6.9"/>
<circle class="c13" cx="581.1" cy="1054.6" r="6.9"/>
<circle class="c10" cx="766.3" cy="753.4" r="6.9"/>
<circle class="c12" cx="602.0" cy="826.7" r="6.9"/>
<circle class="c18" cx="647.0" cy="1059.0" r="6.9"/>
<circle class="c7" cx="489.1" cy="896.3" r="6.9"/>
<circle class="c12" cx="760.9" cy="767.6" r="6.9"/>
<circle class="c7" cx="292.0" cy="388.3" r="6.9"/>
<circle class="c11" cx="332.8" cy="577.8" r="6.9"/>
<circle class="c11" cx="693.3" cy="875.5" r="6.9"/>
<circle class="c9" cx="314.6" cy="520.3" r="6.9"/>
<circle class="c18" cx="929.5" cy="857.0" r="6.9"/>
<circle class="c13" cx="373.0" cy="270.8" r="6.9"/>
<circle class="c17" cx="656.5" cy="1076.9" r="6.9"/>
<circle class="c9" cx="600.0" cy="241.3" r="6.9"/>
<circle class="c13" cx="885.0" cy="372.0" r="6.9"/>
<circle class="c12" cx="490.9" cy="297.9" r="6.9"/>
<circle class="c14" cx="862.6" cy="355.6" r="6.9"/>
<circle class="c8" cx="868.8" cy="544.4" r="6.9"/>
<circle class="c9" cx="504.8" cy="699.6" r="6.9"/>
<circle class="c16" cx="604.2" cy="714.6" r="6.9"/>
<circle class="c11" cx="766.6" cy="759.8" r="6.9"/>
<circle class="c13" cx="651.0" cy="764.9" r="6.9"/>
<circle class="c9" cx="491.2" cy="916.7" r="6.9"/>
<circle class="c9" cx="770.8" cy="728.4" r="6.9"/>
<circle class="c11" cx="399.4" cy="228.8" r="6.9"/>
<circle class="c9" cx="380.1" cy="301.1" r="6.9"/>
<circle class="c14" cx="960.1" cy="881.2" r="6.9"/>
<circle class="c7" cx="962.2" cy="650.5" r="6.9"/>
<circle class="c10" cx="599.2" cy="726.0" r="6.9"/>
<circle class="c13" cx="484.0" cy="272.5" r="6.9"/>
<circle class="c15" cx="749.2" cy="876.9" r="6.9"/>
<circle class="c12" cx="352.1" cy="323.7" r="6.9"/>
<circle class="c18" cx="595.7" cy="480.2" r="6.9"/>
<circle class="c12" cx="302.0" cy="324.9" r="6.9"/>
<circle class="c9" cx="538.6" cy="489.7" r="6.9"/>
<circle class="c12" cx="658.7" cy="1011.2" r="6.9"/>
<circle class="c9" cx="550.1" cy="928.3" r="6.9"/>
<circle class="c10" cx="544.2" cy="344.9" r="6.9"/>
<circle class="c7" cx="791.4" cy="628.9" r="6.9"/>
<circle class="c9" cx="554.6" cy="322.0" r="6.9"/>
<circle class="c7" cx="515.6" cy="701.1" r="6.9"/>
<circle class="c9" cx="324.5" cy="479.3" r="6.9"/>
<circle class="c12" cx="686.5" cy="831.6" r="6.9"/>
<circle class="c12" cx="344.7" cy="487.4" r="6.9"/>
<circle class="c10" cx="372.8" cy="400.0" r="6.9"/>
<circle class="c11" cx="848.6" cy="696.8" r="6.9"/>
<circle class="c12" cx="769.7" cy="792.7" r="6.9"/>
<circle class="c14" cx="998.0" cy="463.3" r="6.9"/>
<circle class="c16" cx="878.7" cy="588.7" r="6.9"/>
<circle class="c19" cx="995.9" cy="789.0" r="6.9"/>
<circle class="c12" cx="630.5" cy="803.3" r="6.9"/>
<circle class="c15" cx="799.2" cy="962.8" r="6.9"/>
<circle class="c10" cx="347.6" cy="253.2" r="6.9"/>
<circle class="c10" cx="369.3" cy="255.0" r="6.9"/>
<circle class="c12" cx="808.0" cy="281.9" r="6.9"/>
<circle class="c14" cx="904.6" cy="442.6" r="6.9"/>
<circle class="c14" cx="666.2" cy="731.2" r="6.9"/>
<circle class="c9" cx="546.7" cy="323.5" r="6.9"/>
<circle class="c14" cx="964.4" cy="491.0" r="6.9"/>
<circle class="c15" cx="846.0" cy="946.1" r="6.9"/>
<circle class="c16" cx="529.0" cy="1005.7" r="6.9"/>
<circle class="c11" cx="517.1" cy="214.4" r="6.9"/>
<circle class="c10" cx="564.6" cy="464.4" r="6.9"/>
<circle class="c15" cx="596.4" cy="761.9" r="6.9"/>
<circle class="c3" cx="897.8" cy="659.0" r="6.9"/>
<circle class="c11" cx="802.8" cy="621.2" r="6.9"/>
<circle class="c4" cx="875.8" cy="632.8" r="6.9"/>
<circle class="c6" cx="433.7" cy="392.5" r="6.9"/>
<circle class="c14" cx="344.0" cy="429.5" r="6.9"/>
<circle class="c18" cx="500.3" cy="1004.6" r="6.9"/>
<circle class="c14" cx="591.6" cy="432.0" r="6.9"/>
<circle class="c15" cx="685.7" cy="437.5" r="6.9"/>
<circle class="c10" cx="689.8" cy="707.8" r="6.9"/>
<circle class="c13" cx="337.2" cy="385.2" r="6.9"/>
<circle class="c13" cx="530.7" cy="765.7" r="6.9"/>
<circle class="c20" cx="597.2" cy="566.7" r="6.9"/>
<circle class="c16" cx="788.1" cy="947.9" r="6.9"/>
<circle class="c16" cx="912.5" cy="783.1" r="6.9"/>
<circle class="c18" cx="585.9" cy="448.7" r="6.9"/>
<circle class="c10" cx="321.7" cy="522.8" r="6.9"/>
<circle class="c11" cx="427.3" cy="282.7" r="6.9"/>
<circle class="c8" cx="479.0" cy="696.8" r="6.9"/>
<circle class="c7" cx="910.4" cy="625.9" r="6.9"/>
<circle class="c13" cx="1014.6" cy="443.8" r="6.9"/>
<circle class="c8" cx="405.3" cy="302.5" r="6.9"/>
<circle class="c3" cx="936.5" cy="661.6" r="6.9"/>
<circle class="c10" cx="286.0" cy="436.2" r="6.9"/>
<circle class="c14" cx="727.5" cy="746.7" r="6.9"/>
<circle class="c15" cx="880.5" cy="861.2" r="6.9"/>
<circle class="c18" cx="1067.8" cy="494.4" r="6.9"/>
<circle class="c12" cx="285.3" cy="497.9" r="6.9"/>
<circle class="c12" cx="499.6" cy="365.9" r="6.9"/>
<circle class="c6" cx="483.7" cy="944.6" r="6.9"/>
<circle class="c9" cx="515.9" cy="958.5" r="6.9"/>
<circle class="c11" cx="384.9" cy="276.3" r="6.9"/>
<circle class="c8" cx="515.8" cy="279.0" r="6.9"/>
<circle class="c19" cx="586.7" cy="798.2" r="6.9"/>
<circle class="c17" cx="799.1" cy="849.6" r="6.9"/>
<circle class="c10" cx="496.4" cy="934.1" r="6.9"/>
<circle class="c14" cx="717.8" cy="1024.5" r="6.9"/>
<circle class="c12" cx="978.6" cy="823.2" r="6.9"/>
<circle class="c18" cx="667.5" cy="492.9" r="6.9"/>
<circle class="c17" cx="572.5" cy="1015.9" r="6.9"/>
<circle class="c17" cx="697.7" cy="1045.5" r="6.9"/>
<circle class="c9" cx="579.1" cy="237.4" r="6.9"/>
<circle class="c17" cx="807.0" cy="311.9" r="6.9"/>
<circle class="c3" cx="936.7" cy="638.6" r="6.9"/>
<circle class="c17" cx="1001.3" cy="778.4" r="6.9"/>
<circle class="c6" cx="473.8" cy="377.0" r="6.9"/>
<circle class="c13" cx="344.6" cy="401.7" r="6.9"/>
<circle class="c15" cx="720.2" cy="890.1" r="6.9"/>
<circle class="c14" cx="666.6" cy="505.7" r="6.9"/>
<circle class="c10" cx="795.1" cy="493.6" r="6.9"/>
<circle class="c17" cx="875.9" cy="879.4" r="6.9"/>
<circle class="c14" cx="743.5" cy="259.3" r="6.9"/>
<circle class="c13" cx="573.3" cy="425.4" r="6.9"/>
<circle class="c11" cx="445.6" cy="753.3" r="6.9"/>
<circle class="c17" cx="1048.3" cy="323.5" r="6.9"/>
<circle class="c13" cx="920.0" cy="326.4" r="6.9"/>
<circle class="c15" cx="645.8" cy="1045.6" r="6.9"/>
<circle class="c14" cx="830.3" cy="748.7" r="6.9"/>
<circle class="c13" cx="774.5" cy="298.2" r="6.9"/>
<circle class="c12" cx="589.7" cy="896.8" r="6.9"/>
<circle class="c12" cx="539.7" cy="871.8" r="6.9"/>
<circle class="c15" cx="907.8" cy="485.3" r="6.9"/>
<circle class="c9" cx="360.9" cy="807.9" r="6.9"/>
<circle class="c13" cx="360.1" cy="588.3" r="6.9"/>
<circle class="c13" cx="798.9" cy="943.4" r="6.9"/>
<circle class="c11" cx="849.0" cy="855.4" r="6.9"/>
<circle class="c15" cx="779.7" cy="869.4" r="6.9"/>
<circle class="c15" cx="926.3" cy="792.1" r="6.9"/>
<circle class="c16" cx="843.2" cy="862.1" r="6.9"/>
<circle class="c15" cx="588.9" cy="409.0" r="6.9"/>
<circle class="c15" cx="630.4" cy="812.7" r="6.9"/>
<circle class="c10" cx="290.4" cy="406.6" r="6.9"/>
<circle class="c19" cx="805.7" cy="862.1" r="6.9"/>
<circle class="c8" cx="361.4" cy="375.8" r="6.9"/>
<circle class="c5" cx="871.2" cy="566.6" r="6.9"/>
<circle class="c14" cx="892.7" cy="949.7" r="6.9"/>
<circle class="c17" cx="905.2" cy="312.9" r="6.9"/>
<circle class="c13" cx="653.3" cy="829.8" r="6.9"/>
<circle class="c16" cx="870.0" cy="877.7" r="6.9"/>
<circle class="c12" cx="341.0" cy="422.8" r="6.9"/>
<circle class="c17" cx="953.7" cy="900.2" r="6.9"/>
<circle class="c15" cx="766.3" cy="840.1" r="6.9"/>
<circle class="c12" cx="958.5" cy="792.2" r="6.9"/>
<circle class="c16" cx="917.8" cy="800.2" r="6.9"/>
<circle class="c9" cx="661.3" cy="238.0" r="6.9"/>
<circle class="c7" cx="800.3" cy="625.4" r="6.9"/>
<circle class="c7" cx="821.1" cy="551.8" r="6.9"/>
<circle class="c10" cx="694.9" cy="689.6" r="6.9"/>
<circle class="c16" cx="691.4" cy="652.8" r="6.9"/>
<circle class="c13" cx="819.3" cy="908.7" r="6.9"/>
<circle class="c7" cx="476.0" cy="704.7" r="6.9"/>
<circle class="c14" cx="751.7" cy="1040.2" r="6.9"/>
<circle class="c11" cx="748.0" cy="320.6" r="6.9"/>
<circle class="c14" cx="375.6" cy="416.8" r="6.9"/>
<circle class="c19" cx="920.4" cy="420.9" r="6.9"/>
<circle class="c12" cx="265.9" cy="363.1" r="6.9"/>
<circle class="c8" cx="920.5" cy="584.0" r="6.9"/>
<circle class="c15" cx="884.1" cy="426.0" r="6.9"/>
<circle class="c13" cx="621.1" cy="415.3" r="6.9"/>
<circle class="c15" cx="989.1" cy="821.9" r="6.9"/>
<circle class="c9" cx="361.8" cy="530.9" r="6.9"/>
<circle class="c10" cx="344.7" cy="499.4" r="6.9"/>
<circle class="c8" cx="349.8" cy="741.5" r="6.9"/>
<circle class="c11" cx="643.9" cy="234.1" r="6.9"/>
<circle class="c17" cx="865.6" cy="865.1" r="6.9"/>
<circle class="c13" cx="694.5" cy="727.5" r="6.9"/>
<circle class="c13" cx="377.9" cy="481.6" r="6.9"/>
<circle class="c10" cx="336.5" cy="269.4" r="6.9"/>
<circle class="c14" cx="758.5" cy="851.7" r="6.9"/>
<circle class="c11" cx="686.4" cy="892.8" r="6.9"/>
<circle class="c7" cx="786.2" cy="728.7" r="6.9"/>
<circle class="c15" cx="546.8" cy="1012.0" r="6.9"/>
<circle class="c16" cx="875.9" cy="824.0" r="6.9"/>
<circle class="c10" cx="838.6" cy="766.7" r="6.9"/>
<circle class="c14" cx="530.6" cy="1028.3" r="6.9"/>
<circle class="c17" cx="822.8" cy="422.6" r="6.9"/>
<circle class="c18" cx="1045.6" cy="365.9" r="6.9"/>
<circle class="c21" cx="787.6" cy="859.2" r="6.9"/>
<circle class="c12" cx="305.6" cy="331.9" r="6.9"/>
<circle class="c14" cx="994.1" cy="440.5" r="6.9"/>
<circle class="c13" cx="631.1" cy="796.8" r="6.9"/>
<circle class="c21" cx="858.6" cy="360.9" r="6.9"/>
<circle class="c11" cx="823.5" cy="780.7" r="6.9"/>
<circle class="c10" cx="469.0" cy="895.3" r="6.9"/>
<circle class="c1" cx="888.7" cy="663.0" r="6.9"/>
<circle class="c11" cx="951.9" cy="337.3" r="6.9"/>
<circle class="c9" cx="316.2" cy="278.0" r="6.9"/>
<circle class="c5" cx="949.3" cy="652.8" r="6.9"/>
<circle class="c13" cx="525.2" cy="443.7" r="6.9"/>
<circle class="c20" cx="1072.9" cy="329.2" r="6.9"/>
<circle class="c14" cx="766.4" cy="426.3" r="6.9"/>
<circle class="c7" cx="660.8" cy="808.9" r="6.9"/>
<circle class="c12" cx="631.4" cy="763.2" r="6.9"/>
<circle class="c17" cx="923.4" cy="491.0" r="6.9"/>
<circle class="c17" cx="671.7" cy="298.6" r="6.9"/>
<circle class="c13" cx="646.0" cy="909.3" r="6.9"/>
<circle class="c12" cx="649.0" cy="748.1" r="6.9"/>
<circle class="c12" cx="775.9" cy="810.2" r="6.9"/>
<circle class="c13" cx="550.1" cy="525.1" r="6.9"/>
<circle class="c10" cx="547.5" cy="546.0" r="6.9"/>
<circle class="c14" cx="593.4" cy="945.3" r="6.9"/>
<circle class="c6" cx="374.6" cy="814.3" r="6.9"/>
<circle class="c9" cx="370.8" cy="812.0" r="6.9"/>
<circle class="c18" cx="601.4" cy="797.6" r="6.9"/>
<circle class="c17" cx="519.1" cy="995.6" r="6.9"/>
<circle class="c12" cx="685.0" cy="673.4" r="6.9"/>
<circle class="c15" cx="886.3" cy="802.7" r="6.9"/>
<circle class="c11" cx="831.5" cy="755.6" r="6.9"/>
<circle class="c14" cx="640.7" cy="934.2" r="6.9"/>
<circle class="c11" cx="508.4" cy="452.7" r="6.9"/>
<circle class="c9" cx="340.0" cy="515.1" r="6.9"/>
<circle class="c5" cx="928.4" cy="645.8" r="6.9"/>
<circle class="c15" cx="990.5" cy="433.3" r="6.9"/>
<circle class="c6" cx="412.0" cy="751.1" r="6.9"/>
<circle class="c14" cx="549.0" cy="554.8" r="6.9"/>
<circle class="c12" cx="759.7" cy="424.3" r="6.9"/>
<circle class="c20" cx="576.6" cy="1069.0" r="6.9"/>
<circle class="c14" cx="1062.8" cy="470.6" r="6.9"/>
<circle class="c8" cx="554.2" cy="270.3" r="6.9"/>
<circle class="c9" cx="507.3" cy="967.0" r="6.9"/>
<circle class="c16" cx="744.5" cy="442.5" r="6.9"/>
<circle class="c9" cx="332.5" cy="280.9" r="6.9"/>
<circle class="c17" cx="994.9" cy="281.3" r="6.9"/>
<circle class="c13" cx="380.0" cy="261.0" r="6.9"/>
<circle class="c15" cx="729.0" cy="814.0" r="6.9"/>
<circle class="c13" cx="661.9" cy="1075.2" r="6.9"/>
<circle class="c8" cx="676.4" cy="845.5" r="6.9"/>
<circle class="c11" cx="828.4" cy="894.0" r="6.9"/>
<circle class="c9" cx="390.8" cy="244.0" r="6.9"/>
<circle class="c17" cx="611.7" cy="500.1" r="6.9"/>
<circle class="c11" cx="284.1" cy="383.4" r="6.9"/>
<circle class="c14" cx="712.9" cy="1035.0" r="6.9"/>
<circle class="c12" cx="418.4" cy="247.5" r="6.9"/>
<circle class="c7" cx="857.1" cy="528.0" r="6.9"/>
<circle class="c10" cx="475.9" cy="907.1" r="6.9"/>
<circle class="c16" cx="602.3" cy="1077.5" r="6.9"/>
<circle class="c12" cx="368.2" cy="369.1" r="6.9"/>
<circle class="c13" cx="458.4" cy="333.7" r="6.9"/>
<circle class="c10" cx="830.8" cy="779.1" r="6.9"/>
<circle class="c12" cx="857.9" cy="722.0" r="6.9"/>
<circle class="c9" cx="630.5" cy="892.6" r="6.9"/>
<circle class="c12" cx="747.2" cy="228.4" r="6.9"/>
<circle class="c17" cx="681.0" cy="1036.6" r="6.9"/>
<circle class="c16" cx="533.2" cy="1010.5" r="6.9"/>
<circle class="c16" cx="525.3" cy="994.8" r="6.9"/>
<circle class="c7" cx="432.2" cy="775.6" r="6.9"/>
<circle class="c17" cx="872.4" cy="794.7" r="6.9"/>
<circle class="c12" cx="598.2" cy="984.8" r="6.9"/>
<circle class="c11" cx="705.4" cy="850.4" r="6.9"/>
<circle class="c8" cx="752.5" cy="735.3" r="6.9"/>
<circle class="c12" cx="643.4" cy="471.5" r="6.9"/>
<circle class="c6" cx="529.8" cy="204.9" r="6.9"/>
<circle class="c20" cx="899.2" cy="488.6" r="6.9"/>
<circle class="c11" cx="566.6" cy="239.9" r="6.9"/>
<circle class="c9" cx="830.8" cy="717.2" r="6.9"/>
<circle class="c9" cx="310.2" cy="446.4" r="6.9"/>
<circle class="c13" cx="473.5" cy="342.1" r="6.9"/>
<circle class="c9" cx="575.3" cy="863.1" r="6.9"/>
<circle class="c14" cx="658.3" cy="716.9" r="6.9"/>
<circle class="c10" cx="627.0" cy="227.6" r="6.9"/>
<circle class="c10" cx="550.9" cy="811.7" r="6.9"/>
<circle class="c15" cx="340.1" cy="299.0" r="6.9"/>
<circle class="c12" cx="455.3" cy="279.6" r="6.9"/>
<circle class="c11" cx="757.9" cy="452.4" r="6.9"/>
<circle class="c13" cx="582.0" cy="826.3" r="6.9"/>
<circle class="c10" cx="335.9" cy="466.8" r="6.9"/>
<circle class="c18" cx="847.7" cy="352.2" r="6.9"/>
<circle class="c7" cx="932.7" cy="632.6" r="6.9"/>
<circle class="c13" cx="697.1" cy="881.4" r="6.9"/>
<circle class="c14" cx="560.8" cy="322.0" r="6.9"/>
<circle class="c11" cx="479.5" cy="353.2" r="6.9"/>
<circle class="c15" cx="899.3" cy="413.4" r="6.9"/>
<circle class="c14" cx="584.0" cy="402.4" r="6.9"/>
<circle class="c10" cx="546.6" cy="931.7" r="6.9"/>
<circle class="c13" cx="715.8" cy="710.4" r="6.9"/>
<circle class="c15" cx="762.1" cy="881.9" r="6.9"/>
<circle class="c9" cx="412.6" cy="711.5" r="6.9"/>
<circle class="c14" cx="812.3" cy="779.6" r="6.9"/>
<circle class="c12" cx="430.7" cy="338.0" r="6.9"/>
<circle class="c11" cx="649.1" cy="222.0" r="6.9"/>
<circle class="c7" cx="378.1" cy="716.0" r="6.9"/>
<circle class="c12" cx="802.2" cy="327.5" r="6.9"/>
<circle class="c10" cx="284.4" cy="427.9" r="6.9"/>
<circle class="c8" cx="398.7" cy="843.7" r="6.9"/>
<circle class="c17" cx="921.2" cy="862.3" r="6.9"/>
<circle class="c12" cx="673.6" cy="809.0" r="6.9"/>
<circle class="c11" cx="975.8" cy="870.7" r="6.9"/>
<circle class="c15" cx="741.4" cy="1038.3" r="6.9"/>
<circle class="c13" cx="326.7" cy="291.0" r="6.9"/>
<circle class="c9" cx="474.1" cy="275.8" r="6.9"/>
<circle class="c14" cx="549.1" cy="778.5" r="6.9"/>
<circle class="c11" cx="670.1" cy="465.9" r="6.9"/>
<circle class="c13" cx="414.2" cy="380.9" r="6.9"/>
<circle class="c17" cx="879.4" cy="899.5" r="6.9"/>
<circle class="c10" cx="727.2" cy="897.4" r="6.9"/>
<circle class="c6" cx="959.4" cy="667.2" r="6.9"/>
<circle class="c8" cx="551.3" cy="291.2" r="6.9"/>
<circle class="c12" cx="415.0" cy="308.7" r="6.9"/>
<circle class="c11" cx="768.9" cy="486.3" r="6.9"/>
<circle class="c10" cx="355.1" cy="456.8" r="6.9"/>
<circle class="c10" cx="552.1" cy="339.7" r="6.9"/>
<circle class="c4" cx="884.8" cy="643.6" r="6.9"/>
<circle class="c12" cx="777.1" cy="426.3" r="6.9"/>
<circle class="c8" cx="452.5" cy="328.2" r="6.9"/>
<circle class="c9" cx="772.9" cy="780.1" r="6.9"/>
<circle class="c15" cx="617.7" cy="405.1" r="6.9"/>
<circle class="c15" cx="958.5" cy="398.0" r="6.9"/>
<circle class="c5" cx="924.0" cy="637.4" r="6.9"/>
<circle class="c15" cx="845.8" cy="867.2" r="6.9"/>
<circle class="c13" cx="361.0" cy="357.3" r="6.9"/>
<circle class="c8" cx="474.3" cy="899.4" r="6.9"/>
<circle class="c9" cx="611.8" cy="269.6" r="6.9"/>
<circle class="c16" cx="656.0" cy="502.2" r="6.9"/>
<circle class="c12" cx="364.5" cy="314.2" r="6.9"/>
<circle class="c10" cx="517.1" cy="511.6" r="6.9"/>
<circle class="c12" cx="645.2" cy="740.6" r="6.9"/>
<circle class="c13" cx="729.5" cy="432.3" r="6.9"/>
<circle class="c12" cx="641.2" cy="771.7" r="6.9"/>
<circle class="c10" cx="272.3" cy="368.2" r="6.9"/>
<circle class="c13" cx="429.2" cy="263.5" r="6.9"/>
<circle class="c12" cx="776.4" cy="762.8" r="6.9"/>
<circle class="c7" cx="498.1" cy="698.6" r="6.9"/>
<circle class="c17" cx="959.3" cy="867.8" r="6.9"/>
<circle class="c14" cx="646.2" cy="1081.9" r="6.9"/>
<circle class="c15" cx="958.5" cy="846.0" r="6.9"/>
<circle class="c13" cx="877.1" cy="393.7" r="6.9"/>
<circle class="c14" cx="956.3" cy="290.1" r="6.9"/>
<circle class="c15" cx="648.3" cy="913.8" r="6.9"/>
<circle class="c12" cx="577.9" cy="886.7" r="6.9"/>
<circle class="c5" cx="871.0" cy="639.7" r="6.9"/>
<circle class="c7" cx="922.3" cy="662.2" r="6.9"/>
<circle class="c18" cx="812.1" cy="423.8" r="6.9"/>
<circle class="c7" cx="365.5" cy="826.8" r="6.9"/>
<circle class="c14" cx="733.8" cy="741.9" r="6.9"/>
<circle class="c9" cx="424.0" cy="231.8" r="6.9"/>
<circle class="c8" cx="787.5" cy="503.9" r="6.9"/>
<circle class="c12" cx="561.5" cy="440.1" r="6.9"/>
<circle class="c13" cx="302.0" cy="316.1" r="6.9"/>
<circle class="c19" cx="546.5" cy="1006.8" r="6.9"/>
<circle class="c5" cx="911.6" cy="652.1" r="6.9"/>
<circle class="c11" cx="422.2" cy="352.9" r="6.9"/>
<circle class="c7" cx="385.0" cy="724.5" r="6.9"/>
<circle class="c11" cx="1019.3" cy="457.0" r="6.9"/>
<circle class="c7" cx="405.3" cy="317.9" r="6.9"/>
<circle class="c17" cx="589.0" cy="482.9" r="6.9"/>
<circle class="c13" cx="840.4" cy="952.8" r="6.9"/>
<circle class="c9" cx="501.7" cy="883.4" r="6.9"/>
<circle class="c9" cx="720.0" cy="746.9" r="6.9"/>
<circle class="c11" cx="701.2" cy="831.6" r="6.9"/>
<circle class="c13" cx="740.8" cy="789.8" r="6.9"/>
<circle class="c9" cx="793.4" cy="509.7" r="6.9"/>
<circle class="c11" cx="517.1" cy="768.9" r="6.9"/>
<circle class="c13" cx="522.5" cy="491.0" r="6.9"/>
<circle class="c12" cx="493.9" cy="902.2" r="6.9"/>
<circle class="c15" cx="891.3" cy="868.1" r="6.9"/>
<circle class="c12" cx="580.1" cy="916.9" r="6.9"/>
<circle class="c10" cx="299.3" cy="408.9" r="6.9"/>
<circle class="c12" cx="604.6" cy="786.4" r="6.9"/>
<circle class="c13" cx="817.1" cy="962.2" r="6.9"/>
<circle class="c13" cx="715.5" cy="749.6" r="6.9"/>
<circle class="c10" cx="530.1" cy="888.2" r="6.9"/>
<circle class="c13" cx="386.5" cy="501.6" r="6.9"/>
<circle class="c14" cx="975.1" cy="784.7" r="6.9"/>
<circle class="c16" cx="1097.3" cy="510.0" r="6.9"/>
<circle class="c15" cx="900.8" cy="876.8" r="6.9"/>
<circle class="c13" cx="567.7" cy="532.8" r="6.9"/>
<circle class="c16" cx="676.0" cy="306.3" r="6.9"/>
<circle class="c16" cx="755.7" cy="812.0" r="6.9"/>
<circle class="c9" cx="765.9" cy="514.6" r="6.9"/>
<circle class="c10" cx="585.1" cy="742.8" r="6.9"/>
<circle class="c10" cx="708.8" cy="809.9" r="6.9"/>
<circle class="c12" cx="517.9" cy="443.0" r="6.9"/>
<circle class="c11" cx="314.4" cy="464.3" r="6.9"/>
<circle class="c11" cx="409.8" cy="305.7" r="6.9"/>
<circle class="c11" cx="311.1" cy="375.4" r="6.9"/>
<circle class="c15" cx="770.7" cy="810.7" r="6.9"/>
<circle class="c12" cx="642.7" cy="977.3" r="6.9"/>
<circle class="c8" cx="758.1" cy="749.4" r="6.9"/>
<circle class="c10" cx="654.9" cy="240.6" r="6.9"/>
<circle class="c7" cx="426.0" cy="287.6" r="6.9"/>
<circle class="c10" cx="410.0" cy="779.0" r="6.9"/>
<circle class="c18" cx="907.7" cy="909.6" r="6.9"/>
<circle class="c14" cx="493.1" cy="361.1" r="6.9"/>
<circle class="c12" cx="333.1" cy="825.3" r="6.9"/>
<circle class="c13" cx="752.6" cy="912.0" r="6.9"/>
<circle class="c13" cx="358.7" cy="554.6" r="6.9"/>
<circle class="c14" cx="648.1" cy="786.4" r="6.9"/>
<circle class="c16" cx="607.3" cy="422.8" r="6.9"/>
<circle class="c9" cx="696.3" cy="462.3" r="6.9"/>
<circle class="c10" cx="715.8" cy="625.3" r="6.9"/>
<circle class="c9" cx="279.1" cy="397.4" r="6.9"/>
<circle class="c13" cx="875.8" cy="896.8" r="6.9"/>
<circle class="c12" cx="814.2" cy="870.9" r="6.9"/>
<circle class="c8" cx="422.2" cy="291.5" r="6.9"/>
<circle class="c14" cx="771.3" cy="870.1" r="6.9"/>
<circle class="c10" cx="464.2" cy="322.0" r="6.9"/>
<circle class="c13" cx="700.3" cy="1057.0" r="6.9"/>
<circle class="c12" cx="406.6" cy="283.8" r="6.9"/>
<circle class="c9" cx="580.0" cy="517.9" r="6.9"/>
<circle class="c14" cx="615.4" cy="533.3" r="6.9"/>
<circle class="c12" cx="571.0" cy="548.7" r="6.9"/>
<circle class="c11" cx="658.1" cy="875.4" r="6.9"/>
<circle class="c12" cx="697.7" cy="800.8" r="6.9"/>
<circle class="c9" cx="362.7" cy="548.0" r="6.9"/>
<circle class="c14" cx="1010.1" cy="793.4" r="6.9"/>
<circle class="c10" cx="562.3" cy="210.5" r="6.9"/>
<circle class="c19" cx="1054.6" cy="344.3" r="6.9"/>
<circle class="c7" cx="518.1" cy="946.8" r="6.9"/>
<circle class="c7" cx="641.0" cy="246.8" r="6.9"/>
<circle class="c10" cx="330.2" cy="432.1" r="6.9"/>
<circle class="c10" cx="624.9" cy="829.1" r="6.9"/>
<circle class="c11" cx="815.7" cy="279.8" r="6.9"/>
<circle class="c15" cx="864.6" cy="942.2" r="6.9"/>
<circle class="c8" cx="697.3" cy="780.0" r="6.9"/>
<circle class="c19" cx="906.3" cy="875.4" r="6.9"/>
<circle class="c7" cx="370.5" cy="788.8" r="6.9"/>
<circle class="c9" cx="502.0" cy="684.9" r="6.9"/>
<circle class="c8" cx="316.3" cy="411.8" r="6.9"/>
<circle class="c17" cx="973.7" cy="822.4" r="6.9"/>
<circle class="c16" cx="790.9" cy="864.0" r="6.9"/>
<circle class="c14" cx="697.8" cy="446.9" r="6.9"/>
<circle class="c9" cx="400.9" cy="253.2" r="6.9"/>
<circle class="c10" cx="560.1" cy="563.3" r="6.9"/>
<circle class="c21" cx="1050.0" cy="292.1" r="6.9"/>
<circle class="c14" cx="926.3" cy="380.9" r="6.9"/>
<circle class="c9" cx="581.9" cy="322.5" r="6.9"/>
<circle class="c14" cx="853.4" cy="431.1" r="6.9"/>
<circle class="c8" cx="735.5" cy="495.4" r="6.9"/>
<circle class="c13" cx="318.7" cy="447.3" r="6.9"/>
<circle class="c7" cx="411.0" cy="759.0" r="6.9"/>
<circle class="c9" cx="517.4" cy="193.0" r="6.9"/>
<circle class="c10" cx="605.0" cy="684.6" r="6.9"/>
<circle class="c14" cx="864.5" cy="424.3" r="6.9"/>
<circle class="c14" cx="678.7" cy="840.3" r="6.9"/>
<circle class="c10" cx="354.5" cy="529.8" r="6.9"/>
<circle class="c13" cx="541.9" cy="769.7" r="6.9"/>
<circle class="c9" cx="468.1" cy="349.7" r="6.9"/>
<circle class="c15" cx="898.4" cy="291.3" r="6.9"/>
<circle class="c8" cx="771.8" cy="503.3" r="6.9"/>
<circle class="c17" cx="923.2" cy="869.4" r="6.9"/>
<circle class="c14" cx="604.0" cy="751.4" r="6.9"/>
<circle class="c12" cx="591.6" cy="295.0" r="6.9"/>
<circle class="c6" cx="442.6" cy="803.3" r="6.9"/>
<circle class="c14" cx="556.0" cy="446.9" r="6.9"/>
<circle class="c17" cx="1027.0" cy="303.4" r="6.9"/>
<circle class="c17" cx="581.1" cy="415.7" r="6.9"/>
<circle class="c16" cx="729.5" cy="291.5" r="6.9"/>
<circle class="c6" cx="857.4" cy="593.8" r="6.9"/>
<circle class="c18" cx="580.1" cy="504.6" r="6.9"/>
<circle class="c8" cx="826.2" cy="590.4" r="6.9"/>
<circle class="c13" cx="654.9" cy="942.8" r="6.9"/>
<circle class="c12" cx="526.5" cy="767.3" r="6.9"/>
<circle class="c13" cx="832.3" cy="906.7" r="6.9"/>
<circle class="c16" cx="1005.9" cy="794.4" r="6.9"/>
<circle class="c11" cx="764.8" cy="494.4" r="6.9"/>
<circle class="c11" cx="488.8" cy="346.0" r="6.9"/>
<circle class="c17" cx="819.5" cy="306.8" r="6.9"/>
<circle class="c15" cx="491.7" cy="338.1" r="6.9"/>
<circle class="c12" cx="698.8" cy="654.7" r="6.9"/>
<circle class="c13" cx="385.3" cy="482.8" r="6.9"/>
<circle class="c11" cx="811.5" cy="812.4" r="6.9"/>
<circle class="c11" cx="734.0" cy="733.2" r="6.9"/>
<circle class="c17" cx="599.7" cy="531.8" r="6.9"/>
<circle class="c6" cx="750.0" cy="535.9" r="6.9"/>
<circle class="c19" cx="901.1" cy="532.6" r="6.9"/>
<circle class="c16" cx="880.7" cy="814.8" r="6.9"/>
<circle class="c15" cx="1068.6" cy="482.2" r="6.9"/>
<circle class="c15" cx="977.9" cy="842.6" r="6.9"/>
<circle class="c12" cx="304.7" cy="374.7" r="6.9"/>
<circle class="c10" cx="700.2" cy="765.9" r="6.9"/>
<circle class="c12" cx="789.8" cy="910.0" r="6.9"/>
<circle class="c14" cx="593.3" cy="820.0" r="6.9"/>
<circle class="c16" cx="796.1" cy="834.6" r="6.9"/>
<circle class="c10" cx="501.4" cy="733.1" r="6.9"/>
<circle class="c13" cx="263.4" cy="369.4" r="6.9"/>
<circle class="c12" cx="770.8" cy="463.1" r="6.9"/>
<circle class="c16" cx="747.2" cy="775.6" r="6.9"/>
<circle class="c8" cx="775.8" cy="519.6" r="6.9"/>
<circle class="c14" cx="741.0" cy="894.1" r="6.9"/>
<circle class="c10" cx="445.2" cy="737.9" r="6.9"/>
<circle class="c12" cx="315.1" cy="321.0" r="6.9"/>
<circle class="c11" cx="682.8" cy="667.2" r="6.9"/>
<circle class="c12" cx="445.9" cy="392.7" r="6.9"/>
<circle class="c14" cx="403.0" cy="239.4" r="6.9"/>
<circle class="c13" cx="575.6" cy="281.5" r="6.9"/>
<circle class="c12" cx="271.3" cy="380.7" r="6.9"/>
<circle class="c6" cx="949.4" cy="633.7" r="6.9"/>
<circle class="c10" cx="605.9" cy="231.2" r="6.9"/>
<circle class="c14" cx="666.3" cy="871.9" r="6.9"/>
<circle class="c12" cx="573.1" cy="871.2" r="6.9"/>
<circle class="c12" cx="525.8" cy="535.5" r="6.9"/>
<circle class="c7" cx="508.0" cy="310.5" r="6.9"/>
<circle class="c12" cx="706.2" cy="225.4" r="6.9"/>
<circle class="c13" cx="611.3" cy="773.6" r="6.9"/>
<circle class="c13" cx="946.3" cy="420.1" r="6.9"/>
<circle class="c14" cx="953.3" cy="793.0" r="6.9"/>
<circle class="c18" cx="728.1" cy="1031.9" r="6.9"/>
<circle class="c11" cx="659.8" cy="760.9" r="6.9"/>
<circle class="c7" cx="547.1" cy="272.1" r="6.9"/>
<circle class="c10" cx="750.0" cy="513.5" r="6.9"/>
<circle class="c10" cx="316.2" cy="358.5" r="6.9"/>
<circle class="c10" cx="524.4" cy="357.4" r="6.9"/>
<circle class="c6" cx="509.7" cy="687.8" r="6.9"/>
<circle class="c9" cx="293.5" cy="464.4" r="6.9"/>
<circle class="c10" cx="506.3" cy="365.7" r="6.9"/>
<circle class="c12" cx="887.5" cy="325.6" r="6.9"/>
<circle class="c5" cx="913.9" cy="690.0" r="6.9"/>
<circle class="c10" cx="830.7" cy="591.9" r="6.9"/>
<circle class="c11" cx="702.1" cy="703.0" r="6.9"/>
<circle class="c13" cx="622.5" cy="839.9" r="6.9"/>
<circle class="c9" cx="322.2" cy="489.9" r="6.9"/>
<circle class="c13" cx="332.3" cy="551.6" r="6.9"/>
<circle class="c8" cx="405.6" cy="700.4" r="6.9"/>
<circle class="c8" cx="382.8" cy="825.6" r="6.9"/>
<circle class="c19" cx="1050.1" cy="490.3" r="6.9"/>
<circle class="c15" cx="1091.0" cy="504.2" r="6.9"/>
<circle class="c18" cx="953.0" cy="824.5" r="6.9"/>
<circle class="c10" cx="564.2" cy="551.9" r="6.9"/>
<circle class="c11" cx="736.1" cy="726.6" r="6.9"/>
<circle class="c10" cx="390.6" cy="387.3" r="6.9"/>
<circle class="c6" cx="531.3" cy="925.8" r="6.9"/>
<circle class="c16" cx="567.5" cy="1056.5" r="6.9"/>
<circle class="c17" cx="964.6" cy="810.1" r="6.9"/>
<circle class="c12" cx="370.8" cy="372.4" r="6.9"/>
<circle class="c16" cx="863.4" cy="395.7" r="6.9"/>
<circle class="c14" cx="788.5" cy="766.9" r="6.9"/>
<circle class="c10" cx="832.5" cy="554.8" r="6.9"/>
<circle class="c13" cx="687.1" cy="690.6" r="6.9"/>
<circle class="c14" cx="607.5" cy="562.6" r="6.9"/>
<circle class="c8" cx="527.6" cy="379.8" r="6.9"/>
<circle class="c8" cx="595.7" cy="259.3" r="6.9"/>
<circle class="c13" cx="609.8" cy="695.8" r="6.9"/>
<circle class="c11" cx="767.8" cy="619.5" r="6.9"/>
<circle class="c18" cx="875.2" cy="786.9" r="6.9"/>
<circle class="c17" cx="1110.3" cy="507.5" r="6.9"/>
<circle class="c11" cx="592.9" cy="919.9" r="6.9"/>
<circle class="c14" cx="915.1" cy="786.7" r="6.9"/>
<circle class="c8" cx="508.5" cy="283.6" r="6.9"/>
<circle class="c6" cx="941.9" cy="648.3" r="6.9"/>
<circle class="c12" cx="581.7" cy="904.1" r="6.9"/>
<circle class="c4" cx="505.2" cy="687.9" r="6.9"/>
<circle class="c8" cx="845.5" cy="550.5" r="6.9"/>
<circle class="c18" cx="358.2" cy="565.3" r="6.9"/>
<circle class="c13" cx="1050.9" cy="458.8" r="6.9"/>
<circle class="c15" cx="1022.7" cy="810.6" r="6.9"/>
<circle class="c10" cx="433.0" cy="277.1" r="6.9"/>
<circle class="c15" cx="785.9" cy="926.3" r="6.9"/>
<circle class="c8" cx="505.5" cy="922.8" r="6.9"/>
<circle class="c14" cx="760.9" cy="733.2" r="6.9"/>
<circle class="c10" cx="811.3" cy="807.2" r="6.9"/>
<circle class="c12" cx="576.4" cy="804.9" r="6.9"/>
<circle class="c16" cx="645.9" cy="1002.7" r="6.9"/>
<circle class="c10" cx="563.2" cy="868.8" r="6.9"/>
<circle class="c13" cx="850.0" cy="921.5" r="6.9"/>
<circle class="c13" cx="815.8" cy="888.5" r="6.9"/>
<circle class="c8" cx="543.5" cy="978.5" r="6.9"/>
<circle class="c11" cx="296.3" cy="434.7" r="6.9"/>
<circle class="c8" cx="497.6" cy="372.7" r="6.9"/>
<circle class="c9" cx="555.0" cy="249.1" r="6.9"/>
<circle class="c10" cx="669.2" cy="803.0" r="6.9"/>
<circle class="c10" cx="345.2" cy="362.9" r="6.9"/>
<circle class="c11" cx="542.1" cy="260.4" r="6.9"/>
<circle class="c7" cx="973.4" cy="674.6" r="6.9"/>
<circle class="c9" cx="501.4" cy="257.1" r="6.9"/>
<circle class="c11" cx="693.5" cy="770.2" r="6.9"/>
<circle class="c11" cx="683.9" cy="955.6" r="6.9"/>
<circle class="c17" cx="990.2" cy="473.8" r="6.9"/>
<circle class="c11" cx="619.9" cy="210.3" r="6.9"/>
<circle class="c19" cx="857.7" cy="932.3" r="6.9"/>
<circle class="c22" cx="1028.2" cy="294.9" r="6.9"/>
<circle class="c12" cx="813.8" cy="971.8" r="6.9"/>
<circle class="c18" cx="552.2" cy="1035.1" r="6.9"/>
<circle class="c12" cx="765.9" cy="702.2" r="6.9"/>
<circle class="c11" cx="632.6" cy="900.9" r="6.9"/>
<circle class="c10" cx="323.8" cy="800.6" r="6.9"/>
<circle class="c6" cx="759.1" cy="549.2" r="6.9"/>
<circle class="c17" cx="925.8" cy="881.6" r="6.9"/>
<circle class="c15" cx="961.8" cy="410.7" r="6.9"/>
<circle class="c13" cx="504.1" cy="383.2" r="6.9"/>
<circle class="c17" cx="964.4" cy="444.4" r="6.9"/>
<circle class="c9" cx="291.2" cy="450.9" r="6.9"/>
<circle class="c14" cx="686.5" cy="723.1" r="6.9"/>
<circle class="c12" cx="502.3" cy="778.0" r="6.9"/>
<circle class="c9" cx="780.2" cy="522.0" r="6.9"/>
<circle class="c4" cx="904.3" cy="630.9" r="6.9"/>
<circle class="c15" cx="554.1" cy="547.9" r="6.9"/>
<circle class="c14" cx="290.5" cy="354.4" r="6.9"/>
<circle class="c16" cx="600.7" cy="520.3" r="6.9"/>
<circle class="c18" cx="724.5" cy="1059.9" r="6.9"/>
<circle class="c18" cx="1003.4" cy="271.0" r="6.9"/>
<circle class="c13" cx="381.1" cy="527.7" r="6.9"/>
<circle class="c9" cx="400.7" cy="370.1" r="6.9"/>
<circle class="c14" cx="595.6" cy="836.2" r="6.9"/>
<circle class="c12" cx="655.0" cy="275.7" r="6.9"/>
<circle class="c14" cx="703.4" cy="1021.3" r="6.9"/>
<circle class="c11" cx="470.6" cy="335.9" r="6.9"/>
<circle class="c13" cx="702.8" cy="843.8" r="6.9"/>
<circle class="c11" cx="895.4" cy="504.4" r="6.9"/>
<circle class="c15" cx="606.6" cy="825.3" r="6.9"/>
<circle class="c14" cx="891.9" cy="932.9" r="6.9"/>
<circle class="c13" cx="563.6" cy="433.8" r="6.9"/>
<circle class="c11" cx="687.0" cy="878.7" r="6.9"/>
<circle class="c8" cx="551.1" cy="312.8" r="6.9"/>
<circle class="c14" cx="596.6" cy="716.0" r="6.9"/>
<circle class="c13" cx="646.7" cy="693.4" r="6.9"/>
<circle class="c9" cx="508.1" cy="274.5" r="6.9"/>
<circle class="c12" cx="572.3" cy="553.2" r="6.9"/>
<circle class="c12" cx="964.2" cy="831.7" r="6.9"/>
<circle class="c7" cx="514.3" cy="755.1" r="6.9"/>
<circle class="c18" cx="561.7" cy="1027.3" r="6.9"/>
<circle class="c14" cx="344.7" cy="481.3" r="6.9"/>
<circle class="c19" cx="1088.3" cy="468.7" r="6.9"/>
<circle class="c10" cx="285.2" cy="479.7" r="6.9"/>
<circle class="c9" cx="936.7" cy="578.0" r="6.9"/>
<circle class="c13" cx="691.3" cy="1009.4" r="6.9"/>
<circle class="c9" cx="680.0" cy="475.9" r="6.9"/>
<circle class="c12" cx="516.4" cy="793.1" r="6.9"/>
<circle class="c8" cx="873.7" cy="560.7" r="6.9"/>
<circle class="c12" cx="348.3" cy="490.1" r="6.9"/>
<circle class="c9" cx="829.8" cy="698.3" r="6.9"/>
<circle class="c4" cx="868.8" cy="659.8" r="6.9"/>
<circle class="c9" cx="723.5" cy="885.7" r="6.9"/>
<circle class="c13" cx="628.0" cy="411.5" r="6.9"/>
<circle class="c15" cx="581.6" cy="439.0" r="6.9"/>
<circle class="c11" cx="776.8" cy="715.1" r="6.9"/>
<circle class="c12" cx="699.3" cy="253.9" r="6.9"/>
<circle class="c17" cx="921.0" cy="537.9" r="6.9"/>
<circle class="c11" cx="595.1" cy="843.3" r="6.9"/>
<circle class="c10" cx="320.1" cy="330.7" r="6.9"/>
<circle class="c13" cx="616.8" cy="731.1" r="6.9"/>
<circle class="c12" cx="576.2" cy="211.7" r="6.9"/>
<circle class="c14" cx="627.2" cy="546.9" r="6.9"/>
<circle class="c19" cx="627.4" cy="494.0" r="6.9"/>
<circle class="c15" cx="643.6" cy="734.3" r="6.9"/>
<circle class="c18" cx="932.3" cy="504.9" r="6.9"/>
<circle class="c9" cx="519.7" cy="207.1" r="6.9"/>
<circle class="c17" cx="823.8" cy="772.0" r="6.9"/>
<circle class="c11" cx="597.1" cy="894.0" r="6.9"/>
<circle class="c14" cx="871.0" cy="372.4" r="6.9"/>
<circle class="c13" cx="838.0" cy="590.0" r="6.9"/>
<circle class="c8" cx="364.6" cy="735.8" r="6.9"/>
<circle class="c7" cx="599.6" cy="304.7" r="6.9"/>
<circle class="c8" cx="420.9" cy="797.4" r="6.9"/>
<circle class="c17" cx="1001.1" cy="449.0" r="6.9"/>
<circle class="c13" cx="760.2" cy="258.1" r="6.9"/>
<circle class="c8" cx="678.5" cy="857.0" r="6.9"/>
<circle class="c11" cx="664.7" cy="926.7" r="6.9"/>
<circle class="c14" cx="607.0" cy="569.9" r="6.9"/>
<circle class="c9" cx="850.7" cy="559.3" r="6.9"/>
<circle class="c16" cx="787.2" cy="285.0" r="6.9"/>
<circle class="c11" cx="513.2" cy="775.2" r="6.9"/>
<circle class="c19" cx="759.1" cy="863.8" r="6.9"/>
<circle class="c12" cx="666.0" cy="986.1" r="6.9"/>
<circle class="c8" cx="335.6" cy="535.8" r="6.9"/>
<circle class="c17" cx="1011.5" cy="302.6" r="6.9"/>
<circle class="c9" cx="973.2" cy="329.1" r="6.9"/>
<circle class="c6" cx="907.9" cy="631.7" r="6.9"/>
<circle class="c12" cx="815.7" cy="331.4" r="6.9"/>
<circle class="c11" cx="618.1" cy="263.1" r="6.9"/>
<circle class="c10" cx="537.5" cy="890.4" r="6.9"/>
<circle class="c8" cx="541.3" cy="249.6" r="6.9"/>
<circle class="c11" cx="753.3" cy="725.3" r="6.9"/>
<circle class="c17" cx="631.4" cy="453.8" r="6.9"/>
<circle class="c8" cx="512.3" cy="224.5" r="6.9"/>
<circle class="c10" cx="558.3" cy="895.9" r="6.9"/>
<circle class="c18" cx="1057.3" cy="336.0" r="6.9"/>
<circle class="c11" cx="284.9" cy="408.2" r="6.9"/>
<circle class="c16" cx="925.3" cy="924.7" r="6.9"/>
<circle class="c3" cx="966.1" cy="642.4" r="6.9"/>
<circle class="c12" cx="380.7" cy="267.3" r="6.9"/>
<circle class="c10" cx="424.2" cy="241.2" r="6.9"/>
<circle class="c8" cx="355.8" cy="812.9" r="6.9"/>
<circle class="c17" cx="662.7" cy="998.8" r="6.9"/>
<circle class="c12" cx="716.1" cy="230.0" r="6.9"/>
<circle class="c10" cx="536.6" cy="284.6" r="6.9"/>
<circle class="c12" cx="622.3" cy="731.2" r="6.9"/>
<circle class="c13" cx="565.4" cy="1003.6" r="6.9"/>
<circle class="c7" cx="331.5" cy="559.1" r="6.9"/>
<circle class="c13" cx="595.1" cy="1051.6" r="6.9"/>
<circle class="c9" cx="536.7" cy="964.6" r="6.9"/>
<circle class="c9" cx="421.4" cy="812.3" r="6.9"/>
<circle class="c19" cx="676.2" cy="261.7" r="6.9"/>
<circle class="c11" cx="374.9" cy="541.2" r="6.9"/>
<circle class="c8" cx="321.2" cy="466.9" r="6.9"/>
<circle class="c9" cx="352.1" cy="838.2" r="6.9"/>
<circle class="c9" cx="341.4" cy="253.3" r="6.9"/>
<circle class="c11" cx="835.6" cy="746.1" r="6.9"/>
<circle class="c8" cx="773.6" cy="530.2" r="6.9"/>
<circle class="c10" cx="981.4" cy="795.5" r="6.9"/>
<circle class="c16" cx="549.8" cy="1025.1" r="6.9"/>
<circle class="c14" cx="997.8" cy="303.1" r="6.9"/>
<circle class="c11" cx="513.5" cy="487.2" r="6.9"/>
<circle class="c9" cx="443.2" cy="292.7" r="6.9"/>
<circle class="c10" cx="385.3" cy="260.3" r="6.9"/>
<circle class="c13" cx="797.5" cy="905.0" r="6.9"/>
<circle class="c14" cx="620.1" cy="684.6" r="6.9"/>
<circle class="c13" cx="622.1" cy="816.3" r="6.9"/>
<circle class="c13" cx="815.6" cy="905.1" r="6.9"/>
<circle class="c15" cx="615.3" cy="775.7" r="6.9"/>
<circle class="c13" cx="752.6" cy="644.2" r="6.9"/>
<circle class="c7" cx="958.4" cy="623.1" r="6.9"/>
<circle class="c12" cx="569.0" cy="419.3" r="6.9"/>
<circle class="c12" cx="526.2" cy="320.2" r="6.9"/>
<circle class="c13" cx="348.7" cy="316.2" r="6.9"/>
<circle class="c10" cx="443.1" cy="704.8" r="6.9"/>
<circle class="c15" cx="428.1" cy="353.2" r="6.9"/>
<circle class="c16" cx="611.8" cy="560.6" r="6.9"/>
<circle class="c18" cx="630.6" cy="1015.1" r="6.9"/>
<circle class="c15" cx="1006.6" cy="810.2" r="6.9"/>
<circle class="c7" cx="508.6" cy="300.1" r="6.9"/>
<circle class="c16" cx="573.9" cy="404.9" r="6.9"/>
<circle class="c18" cx="712.5" cy="352.5" r="6.9"/>
<circle class="c8" cx="610.0" cy="355.0" r="6.9"/>
<circle class="c20" cx="652.5" cy="1065.0" r="6.9"/>
<circle class="c4" cx="298.8" cy="916.2" r="6.9"/>
<circle class="c16" cx="432.5" cy="296.2" r="6.9"/>
<circle class="c6" cx="233.8" cy="397.5" r="6.9"/>
<circle class="c21" cx="903.8" cy="786.2" r="6.9"/>
<circle class="c4" cx="252.5" cy="381.2" r="6.9"/>
<circle class="c20" cx="986.2" cy="763.8" r="6.9"/>
<circle class="c17" cx="500.0" cy="392.5" r="6.9"/>
<circle class="c6" cx="213.8" cy="382.5" r="6.9"/>
<circle class="c14" cx="443.8" cy="299.5" r="6.9"/>
<circle class="c12" cx="685.0" cy="387.5" r="6.9"/>
<circle class="c3" cx="465.0" cy="417.5" r="6.9"/>
<circle class="c21" cx="778.8" cy="912.0" r="6.9"/>
<circle class="c23" cx="880.0" cy="813.0" r="6.9"/>
<circle class="c16" cx="475.0" cy="765.0" r="6.9"/>
<circle class="c5" cx="217.5" cy="411.2" r="6.9"/>
<circle class="c6" cx="291.2" cy="915.0" r="6.9"/>
<circle class="c8" cx="255.0" cy="323.8" r="6.9"/>
<circle class="c18" cx="567.5" cy="846.2" r="6.9"/>
<circle class="c16" cx="840.0" cy="592.5" r="6.9"/>
<circle class="c19" cx="672.5" cy="740.0" r="6.9"/>
<circle class="c6" cx="540.0" cy="411.2" r="6.9"/>
<circle class="c4" cx="468.8" cy="858.8" r="6.9"/>
<circle class="c5" cx="647.5" cy="626.2" r="6.9"/>
<circle class="c7" cx="585.0" cy="352.5" r="6.9"/>
<circle class="c18" cx="744.4" cy="488.4" r="6.9"/>
<circle class="c16" cx="495.0" cy="766.2" r="6.9"/>
<circle class="c3" cx="833.8" cy="610.0" r="6.9"/>
<circle class="c2" cx="581.2" cy="652.5" r="6.9"/>
<circle class="c15" cx="395.0" cy="933.8" r="6.9"/>
<circle class="c20" cx="366.2" cy="960.0" r="6.9"/>
<circle class="c7" cx="212.5" cy="440.0" r="6.9"/>
<circle class="c12" cx="342.5" cy="422.5" r="6.9"/>
<circle class="c13" cx="496.2" cy="840.0" r="6.9"/>
<circle class="c23" cx="1120.0" cy="499.0" r="6.9"/>
<circle class="c18" cx="725.0" cy="603.8" r="6.9"/>
<circle class="c23" cx="913.2" cy="810.8" r="6.9"/>
<circle class="c22" cx="703.1" cy="452.2" r="6.9"/>
<circle class="c15" cx="406.2" cy="246.2" r="6.9"/>
<circle class="c16" cx="757.5" cy="1035.0" r="6.9"/>
<circle class="c5" cx="823.8" cy="741.2" r="6.9"/>
<circle class="c12" cx="860.0" cy="721.2" r="6.9"/>
<circle class="c16" cx="508.8" cy="844.5" r="6.9"/>
<circle class="c4" cx="680.6" cy="564.7" r="6.9"/>
<circle class="c19" cx="688.8" cy="420.0" r="6.9"/>
<circle class="c11" cx="527.5" cy="821.2" r="6.9"/>
<circle class="c22" cx="693.8" cy="1055.0" r="6.9"/>
<circle class="c5" cx="240.0" cy="378.8" r="6.9"/>
<circle class="c13" cx="486.2" cy="733.8" r="6.9"/>
<circle class="c5" cx="452.5" cy="413.8" r="6.9"/>
<circle class="c7" cx="460.0" cy="847.5" r="6.9"/>
<circle class="c19" cx="265.0" cy="308.8" r="6.9"/>
<circle class="c5" cx="827.5" cy="725.0" r="6.9"/>
<circle class="c20" cx="392.5" cy="581.2" r="6.9"/>
<circle class="c12" cx="650.0" cy="380.0" r="6.9"/>
<circle class="c8" cx="835.0" cy="787.5" r="6.9"/>
<circle class="c20" cx="373.8" cy="925.0" r="6.9"/>
<circle class="c13" cx="433.8" cy="542.5" r="6.9"/>
<circle class="c7" cx="572.5" cy="351.2" r="6.9"/>
<circle class="c5" cx="837.5" cy="632.5" r="6.9"/>
<circle class="c18" cx="881.2" cy="593.8" r="6.9"/>
<circle class="c22" cx="707.8" cy="440.9" r="6.9"/>
<circle class="c7" cx="230.0" cy="406.2" r="6.9"/>
<circle class="c7" cx="427.5" cy="423.8" r="6.9"/>
<circle class="c14" cx="667.5" cy="435.3" r="6.9"/>
<circle class="c21" cx="1105.0" cy="502.0" r="6.9"/>
<circle class="c22" cx="903.8" cy="786.2" r="6.9"/>
<circle class="c6" cx="217.5" cy="405.0" r="6.9"/>
<circle class="c18" cx="741.2" cy="288.8" r="6.9"/>
<circle class="c21" cx="431.2" cy="843.8" r="6.9"/>
<circle class="c21" cx="582.5" cy="813.8" r="6.9"/>
<circle class="c17" cx="1065.9" cy="446.0" r="6.9"/>
<circle class="c20" cx="915.0" cy="753.8" r="6.9"/>
<circle class="c3" cx="582.5" cy="656.2" r="6.9"/>
<circle class="c5" cx="831.2" cy="750.0" r="6.9"/>
<circle class="c15" cx="637.5" cy="345.0" r="6.9"/>
<circle class="c5" cx="310.0" cy="908.8" r="6.9"/>
<circle class="c11" cx="662.5" cy="636.2" r="6.9"/>
<circle class="c8" cx="262.5" cy="411.2" r="6.9"/>
<circle class="c17" cx="677.5" cy="406.2" r="6.9"/>
<circle class="c16" cx="351.2" cy="962.5" r="6.9"/>
<circle class="c14" cx="1058.8" cy="384.1" r="6.9"/>
<circle class="c15" cx="655.0" cy="660.0" r="6.9"/>
<circle class="c11" cx="466.2" cy="811.2" r="6.9"/>
<circle class="c17" cx="880.0" cy="581.2" r="6.9"/>
<circle class="c17" cx="735.0" cy="1005.0" r="6.9"/>
<circle class="c10" cx="1041.5" cy="438.9" r="6.9"/>
<circle class="c9" cx="843.8" cy="778.8" r="6.9"/>
<circle class="c18" cx="903.8" cy="590.0" r="6.9"/>
<circle class="c8" cx="481.2" cy="857.5" r="6.9"/>
<circle class="c8" cx="751.2" cy="952.5" r="6.9"/>
<circle class="c17" cx="666.2" cy="308.8" r="6.9"/>
<circle class="c21" cx="868.8" cy="937.0" r="6.9"/>
<circle class="c12" cx="381.2" cy="273.8" r="6.9"/>
<circle class="c16" cx="371.2" cy="303.8" r="6.9"/>
<circle class="c6" cx="206.2" cy="427.5" r="6.9"/>
<circle class="c14" cx="438.8" cy="845.0" r="6.9"/>
<circle class="c10" cx="240.0" cy="337.5" r="6.9"/>
<circle class="c10" cx="823.8" cy="422.5" r="6.9"/>
<circle class="c16" cx="336.2" cy="925.0" r="6.9"/>
<circle class="c23" cx="892.5" cy="791.2" r="6.9"/>
<circle class="c16" cx="492.5" cy="1001.2" r="6.9"/>
<circle class="c8" cx="562.5" cy="720.0" r="6.9"/>
<circle class="c10" cx="1030.0" cy="808.8" r="6.9"/>
<circle class="c7" cx="251.2" cy="408.8" r="6.9"/>
<circle class="c16" cx="408.8" cy="912.5" r="6.9"/>
<circle class="c13" cx="780.0" cy="671.2" r="6.9"/>
<circle class="c10" cx="622.5" cy="365.0" r="6.9"/>
<circle class="c21" cx="905.0" cy="791.2" r="6.9"/>
<circle class="c15" cx="650.0" cy="361.2" r="6.9"/>
<circle class="c14" cx="1058.8" cy="428.8" r="6.9"/>
<circle class="c14" cx="953.8" cy="457.5" r="6.9"/>
<circle class="c6" cx="603.8" cy="347.5" r="6.9"/>
<circle class="c17" cx="713.8" cy="367.5" r="6.9"/>
<circle class="c16" cx="943.8" cy="681.2" r="6.9"/>
<circle class="c22" cx="740.0" cy="820.0" r="6.9"/>
<circle class="c12" cx="441.2" cy="644.5" r="6.9"/>
<circle class="c19" cx="688.1" cy="420.3" r="6.9"/>
<circle class="c21" cx="678.8" cy="300.0" r="6.9"/>
<circle class="c20" cx="915.0" cy="753.8" r="6.9"/>
<circle class="c15" cx="1028.8" cy="417.5" r="6.9"/>
<circle class="c18" cx="893.8" cy="613.8" r="6.9"/>
<circle class="c17" cx="653.8" cy="336.2" r="6.9"/>
<circle class="c15" cx="1046.6" cy="411.5" r="6.9"/>
<circle class="c21" cx="906.2" cy="286.2" r="6.9"/>
<circle class="c22" cx="699.4" cy="440.0" r="6.9"/>
<circle class="c5" cx="275.0" cy="296.2" r="6.9"/>
<circle class="c21" cx="798.8" cy="975.0" r="6.9"/>
<circle class="c14" cx="672.2" cy="618.1" r="6.9"/>
<circle class="c3" cx="578.8" cy="661.2" r="6.9"/>
<circle class="c7" cx="840.0" cy="712.5" r="6.9"/>
<circle class="c8" cx="775.0" cy="665.0" r="6.9"/>
<circle class="c10" cx="536.2" cy="705.0" r="6.9"/>
<circle class="c7" cx="237.5" cy="412.5" r="6.9"/>
<circle class="c16" cx="802.5" cy="455.0" r="6.9"/>
<circle class="c16" cx="765.9" cy="457.8" r="6.9"/>
<circle class="c14" cx="356.2" cy="833.8" r="6.9"/>
<circle class="c13" cx="452.5" cy="730.0" r="6.9"/>
<circle class="c9" cx="835.0" cy="473.8" r="6.9"/>
<circle class="c11" cx="670.0" cy="346.2" r="6.9"/>
<circle class="c3" cx="533.8" cy="718.8" r="6.9"/>
<circle class="c16" cx="750.0" cy="983.0" r="6.9"/>
<circle class="c11" cx="822.5" cy="755.0" r="6.9"/>
<circle class="c14" cx="365.0" cy="392.5" r="6.9"/>
<circle class="c19" cx="590.0" cy="825.0" r="6.9"/>
<circle class="c15" cx="356.2" cy="400.0" r="6.9"/>
<circle class="c10" cx="268.8" cy="330.0" r="6.9"/>
<circle class="c15" cx="336.2" cy="296.2" r="6.9"/>
<circle class="c13" cx="880.3" cy="454.1" r="6.9"/>
<circle class="c8" cx="545.0" cy="796.2" r="6.9"/>
<circle class="c9" cx="226.2" cy="383.8" r="6.9"/>
<circle class="c14" cx="407.5" cy="226.2" r="6.9"/>
<circle class="c13" cx="445.0" cy="811.2" r="6.9"/>
<circle class="c16" cx="755.0" cy="327.5" r="6.9"/>
<circle class="c20" cx="761.2" cy="935.0" r="6.9"/>
<circle class="c6" cx="207.5" cy="382.5" r="6.9"/>
<circle class="c22" cx="761.2" cy="941.2" r="6.9"/>
<circle class="c17" cx="482.5" cy="387.5" r="6.9"/>
<circle class="c14" cx="331.2" cy="333.0" r="6.9"/>
<circle class="c15" cx="368.8" cy="258.8" r="6.9"/>
<circle class="c18" cx="853.1" cy="455.0" r="6.9"/>
<circle class="c8" cx="276.2" cy="312.5" r="6.9"/>
<circle class="c3" cx="590.0" cy="651.2" r="6.9"/>
<circle class="c7" cx="837.5" cy="707.5" r="6.9"/>
<circle class="c5" cx="509.5" cy="638.0" r="6.9"/>
<circle class="c11" cx="212.5" cy="383.8" r="6.9"/>
<circle class="c12" cx="631.2" cy="355.0" r="6.9"/>
<circle class="c13" cx="702.5" cy="602.5" r="6.9"/>
<circle class="c14" cx="1052.7" cy="431.8" r="6.9"/>
<circle class="c6" cx="650.0" cy="406.2" r="6.9"/>
<circle class="c11" cx="692.5" cy="581.2" r="6.9"/>
<circle class="c21" cx="1025.0" cy="267.5" r="6.9"/>
<circle class="c13" cx="693.8" cy="928.8" r="6.9"/>
<circle class="c21" cx="1035.0" cy="325.0" r="6.9"/>
<circle class="c16" cx="557.5" cy="702.5" r="6.9"/>
<circle class="c6" cx="212.5" cy="393.8" r="6.9"/>
<circle class="c16" cx="672.2" cy="492.5" r="6.9"/>
<circle class="c6" cx="432.5" cy="446.2" r="6.9"/>
<circle class="c7" cx="245.0" cy="303.8" r="6.9"/>
<circle class="c11" cx="527.5" cy="860.0" r="6.9"/>
<circle class="c6" cx="228.8" cy="467.5" r="6.9"/>
<circle class="c11" cx="823.1" cy="404.4" r="6.9"/>
<circle class="c16" cx="816.6" cy="557.2" r="6.9"/>
<circle class="c6" cx="835.0" cy="625.0" r="6.9"/>
<circle class="c8" cx="223.8" cy="397.5" r="6.9"/>
<circle class="c5" cx="221.2" cy="448.8" r="6.9"/>
<circle class="c23" cx="682.5" cy="420.0" r="6.9"/>
<circle class="c11" cx="527.5" cy="860.0" r="6.9"/>
<circle class="c20" cx="865.0" cy="355.0" r="6.9"/>
<circle class="c15" cx="685.0" cy="417.5" r="6.9"/>
<circle class="c20" cx="375.0" cy="935.0" r="6.9"/>
<circle class="c23" cx="888.0" cy="390.0" r="6.9"/>
<circle class="c4" cx="281.2" cy="323.8" r="6.9"/>
<circle class="c8" cx="562.5" cy="721.2" r="6.9"/>
<circle class="c10" cx="695.0" cy="340.0" r="6.9"/>
<circle class="c15" cx="392.5" cy="350.0" r="6.9"/>
<circle class="c19" cx="647.5" cy="1075.0" r="6.9"/>
<circle class="c20" cx="381.2" cy="926.2" r="6.9"/>
<circle class="c18" cx="688.8" cy="631.2" r="6.9"/>
<circle class="c18" cx="355.0" cy="935.0" r="6.9"/>
<circle class="c13" cx="738.8" cy="1016.2" r="6.9"/>
<circle class="c23" cx="892.5" cy="791.2" r="6.9"/>
<circle class="c6" cx="477.5" cy="413.8" r="6.9"/>
<circle class="c8" cx="843.8" cy="778.8" r="6.9"/>
<circle class="c23" cx="433.8" cy="870.0" r="6.9"/>
<circle class="c15" cx="837.5" cy="541.2" r="6.9"/>
<circle class="c14" cx="1066.9" cy="404.0" r="6.9"/>
<circle class="c15" cx="448.8" cy="346.2" r="6.9"/>
<circle class="c14" cx="903.8" cy="656.2" r="6.9"/>
<circle class="c4" cx="415.0" cy="862.5" r="6.9"/>
<circle class="c8" cx="853.8" cy="637.0" r="6.9"/>
<circle class="c16" cx="787.5" cy="408.1" r="6.9"/>
<circle class="c14" cx="735.0" cy="531.9" r="6.9"/>
<circle class="c23" cx="709.5" cy="918.0" r="6.9"/>
<circle class="c15" cx="951.2" cy="275.0" r="6.9"/>
<circle class="c4" cx="626.2" cy="325.0" r="6.9"/>
<circle class="c8" cx="458.8" cy="465.0" r="6.9"/>
<circle class="c21" cx="692.5" cy="297.5" r="6.9"/>
<circle class="c20" cx="560.0" cy="512.5" r="6.9"/>
<circle class="c10" cx="707.5" cy="380.0" r="6.9"/>
<circle class="c22" cx="866.0" cy="505.0" r="6.9"/>
<circle class="c19" cx="598.8" cy="1022.5" r="6.9"/>
<circle class="c11" cx="690.0" cy="380.0" r="6.9"/>
<circle class="c6" cx="985.0" cy="851.2" r="6.9"/>
<circle class="c13" cx="880.0" cy="453.8" r="6.9"/>
<circle class="c8" cx="787.5" cy="675.0" r="6.9"/>
<circle class="c19" cx="776.2" cy="962.5" r="6.9"/>
<circle class="c10" cx="1066.2" cy="392.5" r="6.9"/>
<circle class="c11" cx="220.0" cy="431.2" r="6.9"/>
<circle class="c7" cx="496.2" cy="873.8" r="6.9"/>
<circle class="c5" cx="453.8" cy="782.5" r="6.9"/>
<circle class="c14" cx="989.7" cy="412.5" r="6.9"/>
<circle class="c23" cx="408.8" cy="861.2" r="6.9"/>
<circle class="c13" cx="531.2" cy="380.0" r="6.9"/>
<circle class="c17" cx="1069.9" cy="452.1" r="6.9"/>
<circle class="c22" cx="777.5" cy="912.5" r="6.9"/>
<circle class="c7" cx="225.0" cy="413.8" r="6.9"/>
<circle class="c15" cx="358.8" cy="965.0" r="6.9"/>
<circle class="c17" cx="690.0" cy="560.0" r="6.9"/>
<circle class="c23" cx="567.5" cy="846.2" r="6.9"/>
<circle class="c22" cx="610.0" cy="456.2" r="6.9"/>
<circle class="c11" cx="819.4" cy="466.3" r="6.9"/>
<circle class="c15" cx="367.5" cy="315.0" r="6.9"/>
<circle class="c16" cx="972.5" cy="750.0" r="6.9"/>
<circle class="c15" cx="1046.2" cy="411.2" r="6.9"/>
<circle class="c21" cx="867.0" cy="386.0" r="6.9"/>
<circle class="c9" cx="757.5" cy="410.9" r="6.9"/>
<circle class="c3" cx="575.0" cy="655.0" r="6.9"/>
<circle class="c21" cx="733.8" cy="645.0" r="6.9"/>
<circle class="c23" cx="390.5" cy="963.0" r="6.9"/>
<circle class="c8" cx="448.8" cy="871.2" r="6.9"/>
<circle class="c8" cx="765.0" cy="993.8" r="6.9"/>
<circle class="c12" cx="1058.8" cy="383.8" r="6.9"/>
<circle class="c16" cx="371.2" cy="481.2" r="6.9"/>
<circle class="c21" cx="925.0" cy="818.2" r="6.9"/>
<circle class="c8" cx="823.8" cy="700.0" r="6.9"/>
<circle class="c17" cx="223.8" cy="462.5" r="6.9"/>
<circle class="c19" cx="986.2" cy="763.8" r="6.9"/>
<circle class="c5" cx="528.8" cy="712.5" r="6.9"/>
<circle class="c8" cx="762.5" cy="957.5" r="6.9"/>
<circle class="c5" cx="292.5" cy="906.2" r="6.9"/>
<circle class="c14" cx="382.5" cy="239.5" r="6.9"/>
<circle class="c18" cx="804.4" cy="403.4" r="6.9"/>
<circle class="c8" cx="481.2" cy="857.5" r="6.9"/>
<circle class="c7" cx="770.0" cy="1027.5" r="6.9"/>
<circle class="c16" cx="557.5" cy="702.5" r="6.9"/>
<circle class="c9" cx="968.8" cy="682.5" r="6.9"/>
<circle class="c22" cx="708.8" cy="917.5" r="6.9"/>
<circle class="c13" cx="433.8" cy="352.5" r="6.9"/>
<circle class="c18" cx="345.0" cy="510.0" r="6.9"/>
<circle class="c22" cx="696.2" cy="961.2" r="6.9"/>
<circle class="c9" cx="692.5" cy="350.0" r="6.9"/>
<circle class="c20" cx="1087.0" cy="491.0" r="6.9"/>
<circle class="c19" cx="732.5" cy="987.5" r="6.9"/>
<circle class="c7" cx="676.2" cy="561.2" r="6.9"/>
<circle class="c23" cx="1032.5" cy="288.8" r="6.9"/>
<circle class="c16" cx="381.2" cy="518.8" r="6.9"/>
<circle class="c18" cx="871.2" cy="552.5" r="6.9"/>
<circle class="c13" cx="845.0" cy="797.5" r="6.9"/>
<circle class="c13" cx="672.5" cy="416.2" r="6.9"/>
<circle class="c8" cx="1003.8" cy="844.2" r="6.9"/>
<circle class="c23" cx="682.5" cy="420.3" r="6.9"/>
<circle class="c16" cx="833.8" cy="548.8" r="6.9"/>
<circle class="c16" cx="703.8" cy="928.8" r="6.9"/>
<circle class="c8" cx="851.2" cy="712.5" r="6.9"/>
<circle class="c21" cx="1063.8" cy="345.0" r="6.9"/>
<circle class="c11" cx="973.4" cy="479.5" r="6.9"/>
<circle class="c3" cx="832.5" cy="750.0" r="6.9"/>
<circle class="c22" cx="782.5" cy="608.8" r="6.9"/>
<circle class="c15" cx="317.5" cy="388.8" r="6.9"/>
<circle class="c15" cx="663.8" cy="647.5" r="6.9"/>
<circle class="c23" cx="880.0" cy="812.5" r="6.9"/>
<circle class="c8" cx="518.8" cy="431.2" r="6.9"/>
<circle class="c19" cx="361.2" cy="576.2" r="6.9"/>
<circle class="c16" cx="961.2" cy="275.0" r="6.9"/>
<circle class="c9" cx="423.8" cy="476.2" r="6.9"/>
<circle class="c16" cx="750.0" cy="983.8" r="6.9"/>
<circle class="c8" cx="783.0" cy="1008.0" r="6.9"/>
<circle class="c22" cx="728.8" cy="1046.2" r="6.9"/>
<circle class="c15" cx="687.5" cy="363.8" r="6.9"/>
<circle class="c15" cx="810.0" cy="455.9" r="6.9"/>
<circle class="c18" cx="421.2" cy="240.0" r="6.9"/>
<circle class="c4" cx="841.2" cy="612.5" r="6.9"/>
<circle class="c12" cx="318.8" cy="881.2" r="6.9"/>
<circle class="c23" cx="724.5" cy="949.2" r="6.9"/>
<circle class="c18" cx="856.9" cy="443.8" r="6.9"/>
<circle class="c8" cx="753.8" cy="462.5" r="6.9"/>
<circle class="c8" cx="841.2" cy="641.2" r="6.9"/>
<circle class="c15" cx="397.5" cy="323.8" r="6.9"/>
<circle class="c23" cx="1110.0" cy="492.0" r="6.9"/>
<circle class="c18" cx="1012.0" cy="430.8" r="6.9"/>
<circle class="c8" cx="496.2" cy="873.8" r="6.9"/>
<circle class="c18" cx="1025.2" cy="434.8" r="6.9"/>
<circle class="c8" cx="835.0" cy="787.5" r="6.9"/>
<circle class="c4" cx="822.5" cy="605.0" r="6.9"/>
<circle class="c3" cx="850.0" cy="640.0" r="6.9"/>
<circle class="c20" cx="791.2" cy="972.5" r="6.9"/>
<circle class="c4" cx="452.5" cy="432.5" r="6.9"/>
<circle class="c10" cx="710.0" cy="402.5" r="6.9"/>
<circle class="c15" cx="506.2" cy="1002.5" r="6.9"/>
<circle class="c8" cx="512.5" cy="862.5" r="6.9"/>
<circle class="c16" cx="308.8" cy="412.5" r="6.9"/>
<circle class="c15" cx="683.4" cy="470.9" r="6.9"/>
<circle class="c18" cx="738.4" cy="465.9" r="6.9"/>
<circle class="c10" cx="220.0" cy="342.5" r="6.9"/>
<circle class="c10" cx="823.8" cy="403.8" r="6.9"/>
<circle class="c9" cx="931.2" cy="643.8" r="6.9"/>
<circle class="c15" cx="395.0" cy="433.8" r="6.9"/>
<circle class="c15" cx="493.8" cy="992.5" r="6.9"/>
<circle class="c22" cx="687.5" cy="946.2" r="6.9"/>
<circle class="c16" cx="357.5" cy="271.2" r="6.9"/>
<circle class="c3" cx="492.5" cy="393.8" r="6.9"/>
<circle class="c16" cx="677.8" cy="456.9" r="6.9"/>
<circle class="c18" cx="695.0" cy="916.2" r="6.9"/>
<circle class="c23" cx="418.8" cy="933.0" r="6.9"/>
<circle class="c6" cx="242.5" cy="397.5" r="6.9"/>
<circle class="c7" cx="787.5" cy="655.0" r="6.9"/>
<circle class="c16" cx="516.2" cy="1002.5" r="6.9"/>
<circle class="c14" cx="368.8" cy="267.5" r="6.9"/>
<circle class="c14" cx="575.0" cy="693.8" r="6.9"/>
<circle class="c11" cx="735.0" cy="916.2" r="6.9"/>
<circle class="c7" cx="555.0" cy="372.5" r="6.9"/>
<circle class="c9" cx="942.5" cy="352.5" r="6.9"/>
<circle class="c13" cx="672.5" cy="620.0" r="6.9"/>
<circle class="c11" cx="907.5" cy="768.8" r="6.9"/>
<circle class="c23" cx="1078.0" cy="466.0" r="6.9"/>
<circle class="c15" cx="465.0" cy="261.2" r="6.9"/>
<circle class="c11" cx="527.5" cy="820.0" r="6.9"/>
<circle class="c5" cx="591.2" cy="735.0" r="6.9"/>
<circle class="c20" cx="683.8" cy="740.0" r="6.9"/>
<circle class="c10" cx="835.3" cy="474.7" r="6.9"/>
<circle class="c15" cx="356.2" cy="958.8" r="6.9"/>
<circle class="c11" cx="467.5" cy="812.5" r="6.9"/>
<circle class="c8" cx="462.5" cy="847.5" r="6.9"/>
<circle class="c12" cx="680.0" cy="395.0" r="6.9"/>
<circle class="c22" cx="762.5" cy="936.2" r="6.9"/>
<circle class="c3" cx="533.8" cy="718.8" r="6.9"/>
<circle class="c18" cx="687.5" cy="945.0" r="6.9"/>
<circle class="c15" cx="665.0" cy="380.0" r="6.9"/>
<circle class="c10" cx="207.5" cy="412.5" r="6.9"/>
<circle class="c5" cx="321.2" cy="917.5" r="6.9"/>
<circle class="c5" cx="825.0" cy="741.2" r="6.9"/>
<circle class="c21" cx="875.0" cy="360.0" r="6.9"/>
<circle class="c14" cx="989.7" cy="425.7" r="6.9"/>
<circle class="c12" cx="312.5" cy="343.8" r="6.9"/>
<circle class="c9" cx="477.5" cy="430.0" r="6.9"/>
<circle class="c21" cx="731.2" cy="653.8" r="6.9"/>
<circle class="c8" cx="762.0" cy="957.5" r="6.9"/>
<circle class="c6" cx="251.2" cy="312.5" r="6.9"/>
<circle class="c16" cx="477.5" cy="983.8" r="6.9"/>
<circle class="c15" cx="1067.5" cy="403.8" r="6.9"/>
<circle class="c6" cx="220.0" cy="420.0" r="6.9"/>
<circle class="c18" cx="660.0" cy="410.0" r="6.9"/>
<circle class="c7" cx="828.8" cy="693.8" r="6.9"/>
<circle class="c6" cx="301.2" cy="906.2" r="6.9"/>
<circle class="c16" cx="972.5" cy="750.0" r="6.9"/>
<circle class="c8" cx="577.5" cy="371.2" r="6.9"/>
<circle class="c13" cx="318.8" cy="360.0" r="6.9"/>
<circle class="c7" cx="880.0" cy="351.2" r="6.9"/>
<circle class="c18" cx="888.8" cy="586.2" r="6.9"/>
<circle class="c23" cx="862.0" cy="487.0" r="6.9"/>
<circle class="c10" cx="785.0" cy="368.8" r="6.9"/>
<circle class="c11" cx="741.6" cy="559.1" r="6.9"/>
<circle class="c15" cx="745.0" cy="351.2" r="6.9"/>
<circle class="c23" cx="617.5" cy="456.2" r="6.9"/>
<circle class="c19" cx="382.5" cy="581.2" r="6.9"/>
<circle class="c10" cx="328.8" cy="921.2" r="6.9"/>
<circle class="c11" cx="920.0" cy="777.5" r="6.9"/>
<circle class="c5" cx="467.5" cy="858.8" r="6.9"/>
<circle class="c11" cx="610.0" cy="617.0" r="6.9"/>
<circle class="c12" cx="451.2" cy="512.5" r="6.9"/>
<circle class="c13" cx="462.5" cy="747.5" r="6.9"/>
<circle class="c5" cx="440.0" cy="432.5" r="6.9"/>
<circle class="c8" cx="462.5" cy="802.5" r="6.9"/>
<circle class="c18" cx="706.2" cy="351.2" r="6.9"/>
<circle class="c21" cx="723.8" cy="948.8" r="6.9"/>
<circle class="c11" cx="825.0" cy="761.2" r="6.9"/>
<circle class="c23" cx="918.0" cy="527.0" r="6.9"/>
<circle class="c16" cx="795.0" cy="448.4" r="6.9"/>
<circle class="c17" cx="348.8" cy="956.2" r="6.9"/>
<circle class="c9" cx="590.0" cy="352.5" r="6.9"/>
<circle class="c16" cx="768.8" cy="350.0" r="6.9"/>
<circle class="c8" cx="680.0" cy="350.0" r="6.9"/>
<circle class="c23" cx="368.8" cy="953.8" r="6.9"/>
<circle class="c18" cx="360.0" cy="538.8" r="6.9"/>
<circle class="c17" cx="765.0" cy="452.2" r="6.9"/>
<circle class="c16" cx="473.8" cy="261.2" r="6.9"/>
<circle class="c12" cx="672.5" cy="366.2" r="6.9"/>
<circle class="c21" cx="1037.5" cy="336.2" r="6.9"/>
<circle class="c20" cx="631.2" cy="840.0" r="6.9"/>
<circle class="c8" cx="553.8" cy="423.8" r="6.9"/>
<circle class="c16" cx="411.2" cy="552.5" r="6.9"/>
<circle class="c15" cx="862.5" cy="278.8" r="6.9"/>
<circle class="c16" cx="700.0" cy="390.0" r="6.9"/>
<circle class="c4" cx="430.0" cy="415.0" r="6.9"/>
<circle class="c13" cx="819.4" cy="588.1" r="6.9"/>
<circle class="c14" cx="343.8" cy="317.0" r="6.9"/>
<circle class="c23" cx="853.0" cy="497.0" r="6.9"/>
<circle class="c12" cx="692.5" cy="392.5" r="6.9"/>
<circle class="c6" cx="527.5" cy="712.5" r="6.9"/>
<circle class="c5" cx="696.2" cy="578.8" r="6.9"/>
<circle class="c21" cx="920.0" cy="385.0" r="6.9"/>
<circle class="c10" cx="713.4" cy="513.1" r="6.9"/>
<circle class="c23" cx="913.8" cy="811.2" r="6.9"/>
<circle class="c14" cx="918.8" cy="648.8" r="6.9"/>
<circle class="c14" cx="575.0" cy="693.8" r="6.9"/>
<circle class="c7" cx="244.5" cy="480.0" r="6.9"/>
<circle class="c11" cx="978.8" cy="657.5" r="6.9"/>
<circle class="c18" cx="887.5" cy="786.2" r="6.9"/>
<circle class="c20" cx="580.0" cy="843.8" r="6.9"/>
<circle class="c8" cx="751.2" cy="952.5" r="6.9"/>
<circle class="c15" cx="687.5" cy="400.0" r="6.9"/>
<circle class="c18" cx="853.8" cy="455.0" r="6.9"/>
<circle class="c20" cx="655.0" cy="675.0" r="6.9"/>
<circle class="c7" cx="777.5" cy="657.5" r="6.9"/>
<circle class="c18" cx="505.0" cy="393.8" r="6.9"/>
<circle class="c4" cx="586.2" cy="658.8" r="6.9"/>
<circle class="c16" cx="710.6" cy="482.8" r="6.9"/>
<circle class="c13" cx="328.8" cy="465.0" r="6.9"/>
<circle class="c11" cx="280.0" cy="413.8" r="6.9"/>
<circle class="c10" cx="1065.9" cy="391.2" r="6.9"/>
<circle class="c8" cx="685.0" cy="552.5" r="6.9"/>
<circle class="c16" cx="970.0" cy="776.2" r="6.9"/>
<circle class="c14" cx="860.0" cy="610.0" r="6.9"/>
<circle class="c23" cx="662.5" cy="1080.0" r="6.9"/>
<circle class="c6" cx="440.0" cy="412.5" r="6.9"/>
<circle class="c6" cx="236.2" cy="320.0" r="6.9"/>
<circle class="c7" cx="735.0" cy="325.0" r="6.9"/>
<circle class="c17" cx="705.0" cy="473.8" r="6.9"/>
<circle class="c22" cx="761.2" cy="942.5" r="6.9"/>
<circle class="c6" cx="774.4" cy="449.4" r="6.9"/>
<circle class="c18" cx="701.2" cy="911.2" r="6.9"/>
<circle class="c13" cx="413.8" cy="300.0" r="6.9"/>
<circle class="c8" cx="260.0" cy="335.0" r="6.9"/>
<circle class="c22" cx="729.4" cy="442.8" r="6.9"/>
<circle class="c13" cx="797.5" cy="657.5" r="6.9"/>
<circle class="c15" cx="318.8" cy="310.0" r="6.9"/>
<circle class="c20" cx="361.2" cy="957.5" r="6.9"/>
<circle class="c16" cx="740.0" cy="1005.0" r="6.9"/>
<circle class="c14" cx="1057.5" cy="502.5" r="6.9"/>
<circle class="c14" cx="335.0" cy="795.0" r="6.9"/>
<circle class="c8" cx="262.5" cy="320.0" r="6.9"/>
<circle class="c8" cx="220.0" cy="357.5" r="6.9"/>
<circle class="c18" cx="622.5" cy="317.0" r="6.9"/>
<circle class="c12" cx="1063.8" cy="375.0" r="6.9"/>
<circle class="c15" cx="702.5" cy="397.5" r="6.9"/>
<circle class="c18" cx="853.1" cy="424.1" r="6.9"/>
<circle class="c5" cx="827.5" cy="652.5" r="6.9"/>
<circle class="c20" cx="613.8" cy="1030.0" r="6.9"/>
<circle class="c11" cx="512.5" cy="862.5" r="6.9"/>
<circle class="c5" cx="540.0" cy="400.0" r="6.9"/>
<circle class="c7" cx="467.5" cy="407.5" r="6.9"/>
<circle class="c14" cx="774.4" cy="408.1" r="6.9"/>
<circle class="c13" cx="655.0" cy="567.5" r="6.9"/>
<circle class="c10" cx="741.2" cy="401.2" r="6.9"/>
<circle class="c14" cx="435.0" cy="786.2" r="6.9"/>
<circle class="c9" cx="827.5" cy="715.0" r="6.9"/>
<circle class="c20" cx="892.0" cy="504.0" r="6.9"/>
<circle class="c21" cx="910.0" cy="378.0" r="6.9"/>
<circle class="c14" cx="700.0" cy="370.0" r="6.9"/>
<circle class="c17" cx="391.2" cy="263.8" r="6.9"/>
<circle class="c6" cx="721.2" cy="995.0" r="6.9"/>
<circle class="c6" cx="495.0" cy="413.8" r="6.9"/>
<circle class="c6" cx="297.5" cy="896.2" r="6.9"/>
<circle class="c23" cx="1055.0" cy="346.2" r="6.9"/>
<circle class="c15" cx="1035.0" cy="373.8" r="6.9"/>
<circle class="c21" cx="928.0" cy="385.0" r="6.9"/>
<circle class="c20" cx="869.5" cy="881.2" r="6.9"/>
<circle class="c13" cx="443.8" cy="852.5" r="6.9"/>
<circle class="c21" cx="776.2" cy="962.0" r="6.9"/>
<circle class="c10" cx="620.0" cy="387.5" r="6.9"/>
<circle class="c19" cx="415.0" cy="928.8" r="6.9"/>
<circle class="c23" cx="762.0" cy="935.5" r="6.9"/>
<circle class="c9" cx="843.8" cy="731.2" r="6.9"/>
<circle class="c23" cx="686.2" cy="1053.8" r="6.9"/>
<circle class="c15" cx="421.2" cy="227.5" r="6.9"/>
<circle class="c16" cx="703.1" cy="482.2" r="6.9"/>
<circle class="c10" cx="755.0" cy="337.5" r="6.9"/>
<circle class="c7" cx="226.2" cy="470.0" r="6.9"/>
<circle class="c3" cx="517.5" cy="423.8" r="6.9"/>
<circle class="c20" cx="380.0" cy="941.2" r="6.9"/>
<circle class="c15" cx="346.2" cy="923.8" r="6.9"/>
<circle class="c18" cx="568.8" cy="823.8" r="6.9"/>
<circle class="c8" cx="765.0" cy="993.8" r="6.9"/>
<circle class="c23" cx="761.2" cy="942.5" r="6.9"/>
<circle class="c22" cx="607.5" cy="428.8" r="6.9"/>
<circle class="c21" cx="711.2" cy="745.0" r="6.9"/>
<circle class="c13" cx="667.5" cy="435.0" r="6.9"/>
<circle class="c15" cx="1028.3" cy="417.6" r="6.9"/>
<circle class="c11" cx="455.0" cy="850.0" r="6.9"/>
<circle class="c17" cx="366.2" cy="943.8" r="6.9"/>
<circle class="c11" cx="536.2" cy="705.0" r="6.9"/>
<circle class="c22" cx="773.8" cy="611.2" r="6.9"/>
<circle class="c15" cx="740.0" cy="377.5" r="6.9"/>
<circle class="c10" cx="741.6" cy="401.6" r="6.9"/>
<circle class="c10" cx="822.5" cy="465.0" r="6.9"/>
<circle class="c22" cx="625.0" cy="460.0" r="6.9"/>
<circle class="c18" cx="870.0" cy="795.0" r="6.9"/>
<circle class="c19" cx="365.0" cy="930.0" r="6.9"/>
<circle class="c19" cx="747.5" cy="262.5" r="6.9"/>
<circle class="c15" cx="1086.2" cy="445.0" r="6.9"/>
<circle class="c18" cx="893.8" cy="602.5" r="6.9"/>
<circle class="c15" cx="398.8" cy="938.8" r="6.9"/>
<circle class="c15" cx="728.8" cy="586.2" r="6.9"/>
<circle class="c21" cx="637.5" cy="508.8" r="6.9"/>
<circle class="c3" cx="265.0" cy="402.5" r="6.9"/>
<circle class="c8" cx="246.2" cy="320.0" r="6.9"/>
<circle class="c19" cx="843.8" cy="617.5" r="6.9"/>
<circle class="c20" cx="1095.0" cy="482.0" r="6.9"/>
<circle class="c23" cx="816.6" cy="510.3" r="6.9"/>
<circle class="c16" cx="830.0" cy="581.2" r="6.9"/>
<circle class="c16" cx="508.8" cy="843.8" r="6.9"/>
<circle class="c11" cx="632.5" cy="383.8" r="6.9"/>
<circle class="c16" cx="381.2" cy="918.8" r="6.9"/>
<circle class="c8" cx="211.2" cy="426.2" r="6.9"/>
<circle class="c14" cx="942.5" cy="458.8" r="6.9"/>
<circle class="c16" cx="846.2" cy="321.2" r="6.9"/>
<circle class="c3" cx="463.8" cy="441.2" r="6.9"/>
<circle class="c21" cx="357.5" cy="923.8" r="6.9"/>
<circle class="c22" cx="582.5" cy="813.8" r="6.9"/>
<circle class="c6" cx="227.5" cy="330.0" r="6.9"/>
<circle class="c14" cx="897.5" cy="690.0" r="6.9"/>
<circle class="c7" cx="311.2" cy="893.8" r="6.9"/>
<circle class="c15" cx="988.8" cy="266.2" r="6.9"/>
<circle class="c13" cx="496.2" cy="840.0" r="6.9"/>
<circle class="c19" cx="926.2" cy="587.5" r="6.9"/>
<circle class="c9" cx="761.2" cy="1022.5" r="6.9"/>
<circle class="c6" cx="232.5" cy="323.8" r="6.9"/>
</g>
<g><circle cx="371.3" cy="344.4" r="10.8" fill="#fff" fill-opacity=".93" stroke="#000" stroke-width="1.15"/><text x="371.2" y="349.9" text-anchor="middle" font-size="14.4" font-weight="bold" fill="#000">1</text><circle cx="501.3" cy="736.4" r="10.8" fill="#fff" fill-opacity=".93" stroke="#000" stroke-width="1.15"/><text x="501.2" y="741.9" text-anchor="middle" font-size="14.4" font-weight="bold" fill="#000">2</text><circle cx="890.1" cy="883.8" r="10.8" fill="#fff" fill-opacity=".93" stroke="#000" stroke-width="1.15"/><text x="890" y="889.3" text-anchor="middle" font-size="14.4" font-weight="bold" fill="#000">3</text><circle cx="615.2" cy="487.8" r="10.8" fill="#fff" fill-opacity=".93" stroke="#000" stroke-width="1.15"/><text x="615.1" y="493.3" text-anchor="middle" font-size="14.4" font-weight="bold" fill="#000">4</text><circle cx="575.1" cy="993.4" r="10.8" fill="#fff" fill-opacity=".93" stroke="#000" stroke-width="1.15"/><text x="575" y="998.9" text-anchor="middle" font-size="14.4" font-weight="bold" fill="#000">5</text><circle cx="679.1" cy="265.4" r="10.8" fill="#fff" fill-opacity=".93" stroke="#000" stroke-width="1.15"/><text x="679" y="270.9" text-anchor="middle" font-size="14.4" font-weight="bold" fill="#000">6</text><circle cx="979.3" cy="444.4" r="10.8" fill="#fff" fill-opacity=".93" stroke="#000" stroke-width="1.15"/><text x="979.2" y="449.9" text-anchor="middle" font-size="14.4" font-weight="bold" fill="#000">7</text><circle cx="818.5" cy="623.2" r="10.8" fill="#fff" fill-opacity=".93" stroke="#000" stroke-width="1.15"/><text x="818.4" y="628.7" text-anchor="middle" font-size="14.4" font-weight="bold" fill="#000">8</text><circle cx="1013.4" cy="310.3" r="10.8" fill="#fff" fill-opacity=".93" stroke="#000" stroke-width="1.15"/><text x="1013.3" y="315.8" text-anchor="middle" font-size="14.4" font-weight="bold" fill="#000">9</text><circle cx="761.4" cy="514.5" r="10.8" fill="#fff" fill-opacity=".93" stroke="#000" stroke-width="1.15"/><text x="761.3" y="520" text-anchor="middle" font-size="14.4" font-weight="bold" fill="#000">10</text></g>
<g fill="#000"><defs><linearGradient id="lg" x1="0" x2="1" y1="0" y2="0"><stop offset="0.0000" stop-color="#53729b"/><stop offset="0.1071" stop-color="#6596c6"/><stop offset="0.2143" stop-color="#86b8d8"/><stop offset="0.3214" stop-color="#b5d7e6"/><stop offset="0.4464" stop-color="#e1edf4"/><stop offset="0.5089" stop-color="#f2f5f9"/><stop offset="0.5536" stop-color="#f9f6f4"/><stop offset="0.6607" stop-color="#fce0d0"/><stop offset="0.7857" stop-color="#f5b8a0"/><stop offset="0.8929" stop-color="#e08880"/><stop offset="1.0000" stop-color="#c85868"/></linearGradient></defs><rect x="850" y="1134" width="300" height="15" fill="url(#lg)"/><line x1="850.0" x2="850.0" y1="1134" y2="1149" stroke="#000" stroke-width="1.2"/><text x="850.0" y="1163" text-anchor="middle" font-size="10.6">0.0</text><line x1="882.1" x2="882.1" y1="1134" y2="1149" stroke="#000" stroke-width="1.2"/><text x="882.1" y="1163" text-anchor="middle" font-size="10.6">0.6</text><line x1="914.3" x2="914.3" y1="1134" y2="1149" stroke="#000" stroke-width="1.2"/><text x="914.3" y="1163" text-anchor="middle" font-size="10.6">1.2</text><line x1="946.4" x2="946.4" y1="1134" y2="1149" stroke="#000" stroke-width="1.2"/><text x="946.4" y="1163" text-anchor="middle" font-size="10.6">1.8</text><line x1="983.9" x2="983.9" y1="1134" y2="1149" stroke="#000" stroke-width="1.2"/><text x="983.9" y="1163" text-anchor="middle" font-size="10.6">2.5</text><line x1="1016.1" x2="1016.1" y1="1134" y2="1149" stroke="#000" stroke-width="1.2"/><text x="1016.1" y="1163" text-anchor="middle" font-size="10.6">3.1</text><line x1="1048.2" x2="1048.2" y1="1134" y2="1149" stroke="#000" stroke-width="1.2"/><text x="1048.2" y="1163" text-anchor="middle" font-size="10.6">3.7</text><line x1="1085.7" x2="1085.7" y1="1134" y2="1149" stroke="#000" stroke-width="1.2"/><text x="1085.7" y="1163" text-anchor="middle" font-size="10.6">4.4</text><line x1="1117.9" x2="1117.9" y1="1134" y2="1149" stroke="#000" stroke-width="1.2"/><text x="1117.9" y="1163" text-anchor="middle" font-size="10.6">5.0</text><line x1="1150.0" x2="1150.0" y1="1134" y2="1149" stroke="#000" stroke-width="1.2"/><text x="1150.0" y="1163" text-anchor="middle" font-size="10.6">5.6</text><text x="1031" y="1127" text-anchor="middle" font-size="13.2">Variance, Z-scaled</text></g>
</svg>
</body></html>
